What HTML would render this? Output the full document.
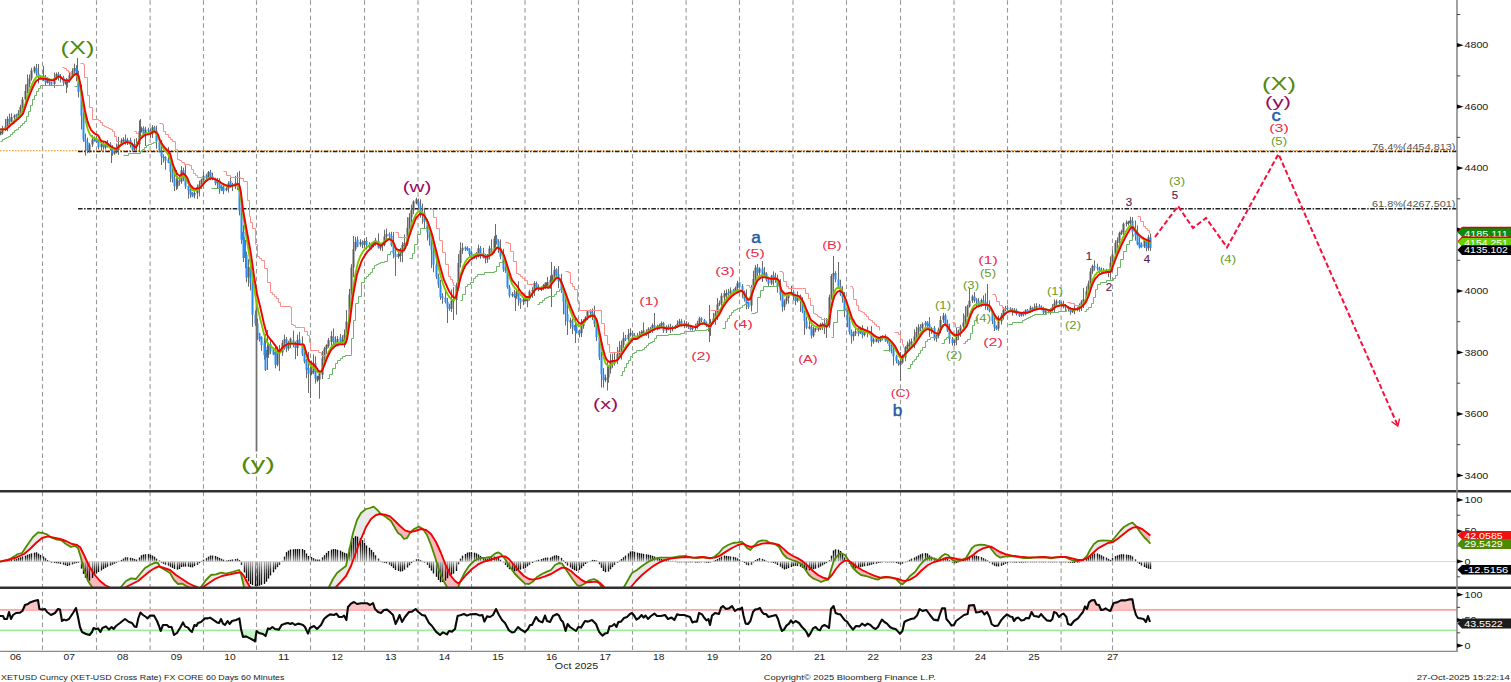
<!DOCTYPE html>
<html><head><meta charset="utf-8"><title>XETUSD</title>
<style>html,body{margin:0;padding:0;background:#fff;}body{width:1511px;height:682px;overflow:hidden;}svg{display:block;font-family:"Liberation Sans",sans-serif;}</style>
</head><body>
<svg width="1511" height="682" viewBox="0 0 1511 682">
<rect width="1511" height="682" fill="#fff"/>
<path d="M42.50,0.3V651M96.50,0.3V651M150.10,0.3V651M203.50,0.3V651M256.50,0.3V651M310.50,0.3V651M364.50,0.3V651M418.00,0.3V651M471.50,0.3V651M525.00,0.3V651M578.50,0.3V651M632.50,0.3V651M686.10,0.3V651M739.50,0.3V651M793.00,0.3V651M846.50,0.3V651M900.50,0.3V651M954.00,0.3V651M1007.50,0.3V651M1061.10,0.3V651M1112.50,0.3V651" stroke="#989898" stroke-width="1.1" stroke-dasharray="4.5,3.18" fill="none"/>
<path d="M0,150.6H1457" stroke="#f2a33a" stroke-width="1.2" stroke-dasharray="1.5,1.5" fill="none"/>
<path d="M78,151.6H1457" stroke="#222" stroke-width="1.5" stroke-dasharray="4.6,1.5,1.5,1.5" fill="none"/>
<path d="M78,208.8H1457" stroke="#222" stroke-width="1.5" stroke-dasharray="4.6,1.5,1.5,1.5" fill="none"/>
<path d="M0.5,130.6V135.3M2.5,125.9V134.7M5.5,119.0V131.1M7.5,116.3V131.2M9.5,113.7V124.8M11.5,113.3V122.2M14.5,114.3V123.4M16.5,113.9V119.2M18.5,110.1V117.1M20.5,104.8V115.5M22.5,97.0V110.4M25.5,84.4V102.2M27.5,74.5V93.2M29.5,74.5V87.5M31.5,67.8V80.6M34.5,66.1V73.5M36.5,63.9V75.8M38.5,71.6V83.4M40.5,75.3V78.7M43.5,65.9V81.0M45.5,75.1V85.4M47.5,77.5V83.6M49.5,78.4V86.0M51.5,81.7V85.4M54.5,72.6V87.8M56.5,72.4V80.1M58.5,71.9V80.6M60.5,74.2V82.4M63.5,75.8V85.8M65.5,79.8V84.8M67.5,78.9V87.5M69.5,71.7V82.7M72.5,68.4V77.4M74.5,63.7V73.9M76.5,65.2V81.3M78.5,70.7V97.5M81.5,84.6V129.5M83.5,112.2V141.8M85.5,133.5V155.6M87.5,137.6V153.1M89.5,142.9V152.8M92.5,135.2V147.0M94.5,136.4V141.7M96.5,135.7V143.1M98.5,139.4V149.4M101.5,139.8V150.8M103.5,141.6V149.7M105.5,141.6V149.6M107.5,140.0V147.6M110.5,142.2V150.6M112.5,145.3V155.7M114.5,150.7V154.9M116.5,143.5V153.5M118.5,136.8V155.0M121.5,138.3V145.9M123.5,137.3V142.8M125.5,134.5V144.6M127.5,137.8V145.0M130.5,137.8V147.6M132.5,142.6V151.2M134.5,138.9V151.1M136.5,138.1V150.7M139.5,120.4V151.5M141.5,126.6V132.5M143.5,126.3V136.9M145.5,126.8V146.0M148.5,127.7V132.3M150.5,128.2V138.1M152.5,125.1V138.0M154.5,125.8V132.6M156.5,125.6V148.8M159.5,139.9V152.6M161.5,144.1V160.6M163.5,154.3V162.5M165.5,156.2V169.8M168.5,147.2V163.2M170.5,158.3V182.1M172.5,167.9V182.6M174.5,172.9V188.6M177.5,176.1V188.8M179.5,176.2V185.7M181.5,166.1V183.8M183.5,167.6V181.2M185.5,165.3V188.9M188.5,185.3V198.8M190.5,187.1V197.7M192.5,192.1V197.2M194.5,191.1V198.4M197.5,184.5V199.0M199.5,180.6V196.5M201.5,178.7V188.8M203.5,171.7V182.8M206.5,173.8V179.2M208.5,171.0V179.9M210.5,169.9V180.2M212.5,172.7V180.3M215.5,177.7V185.3M217.5,177.9V188.4M219.5,178.3V193.8M221.5,185.3V191.0M223.5,184.4V194.2M226.5,187.1V191.3M228.5,181.3V192.6M230.5,177.8V187.6M232.5,182.8V191.0M235.5,175.8V189.1M237.5,172.4V190.1M239.5,178.0V215.4M241.5,204.6V243.8M244.5,237.1V257.8M246.5,251.7V282.2M248.5,259.2V286.7M250.5,261.6V290.5M252.5,277.7V326.8M255.5,310.5V325.9M257.5,318.5V339.8M259.5,332.7V341.6M261.5,336.3V350.9M264.5,336.8V359.6M266.5,350.0V357.7M268.5,342.5V357.8M270.5,339.8V354.1M273.5,347.8V355.1M275.5,346.2V368.3M277.5,346.6V366.3M279.5,345.0V360.0M282.5,340.1V355.9M284.5,334.6V349.8M286.5,337.0V352.2M288.5,340.8V350.6M290.5,337.6V348.2M293.5,330.6V347.3M295.5,341.5V359.2M297.5,334.6V356.1M299.5,331.9V344.7M302.5,336.3V356.1M304.5,351.4V363.5M306.5,359.0V378.2M308.5,367.5V375.3M311.5,360.5V375.3M313.5,354.4V374.2M315.5,356.4V383.5M317.5,375.7V382.1M319.5,370.5V398.7M322.5,351.0V379.0M324.5,346.8V362.8M326.5,344.2V353.9M328.5,337.9V347.8M331.5,331.2V347.9M333.5,328.5V345.7M335.5,336.2V346.8M337.5,336.1V346.4M340.5,334.0V343.5M342.5,335.2V342.8M344.5,329.4V347.6M346.5,310.1V339.2M349.5,288.9V324.1M351.5,264.2V295.6M353.5,236.0V277.1M355.5,236.8V251.1M357.5,236.4V247.2M360.5,239.2V246.7M362.5,240.3V248.1M364.5,238.6V247.9M366.5,237.0V249.5M369.5,242.1V248.4M371.5,242.7V249.5M373.5,241.5V247.1M375.5,237.9V245.8M378.5,233.4V248.6M380.5,243.4V250.5M382.5,243.5V251.2M384.5,229.8V246.4M386.5,228.6V240.7M389.5,232.3V239.3M391.5,231.8V246.7M393.5,231.9V258.4M395.5,249.5V260.5M398.5,251.9V258.6M400.5,247.9V261.8M402.5,241.9V262.2M404.5,234.4V251.5M407.5,217.2V245.7M409.5,213.2V234.3M411.5,204.6V222.5M413.5,200.3V214.1M416.5,197.7V204.3M418.5,198.5V209.3M420.5,199.3V217.7M422.5,203.5V223.7M424.5,207.7V227.9M427.5,219.1V240.5M429.5,227.9V245.6M431.5,231.9V267.9M433.5,241.2V272.3M436.5,260.1V279.1M438.5,273.7V287.8M440.5,279.8V299.8M442.5,293.2V303.7M445.5,289.4V303.5M447.5,297.8V309.6M449.5,303.7V310.8M451.5,289.4V311.9M453.5,287.1V309.1M456.5,282.8V314.7M458.5,254.1V290.6M460.5,242.3V267.5M462.5,243.0V253.9M465.5,246.3V251.1M467.5,246.3V250.8M469.5,248.1V256.1M471.5,250.9V259.6M474.5,254.5V258.8M476.5,251.9V259.4M478.5,244.6V257.4M480.5,246.1V258.8M483.5,247.8V258.5M485.5,253.9V263.3M487.5,254.0V262.8M489.5,245.8V259.3M491.5,239.3V254.8M494.5,235.9V253.3M496.5,235.0V244.6M498.5,239.2V252.9M500.5,239.4V259.3M503.5,248.8V271.9M505.5,258.7V272.9M507.5,266.2V288.8M509.5,284.9V297.7M512.5,292.1V297.3M514.5,289.9V297.8M516.5,290.2V298.8M518.5,281.3V305.7M520.5,298.0V308.9M523.5,297.9V305.1M525.5,296.6V301.5M527.5,296.4V307.3M529.5,289.7V300.5M532.5,287.2V297.8M534.5,281.2V295.9M536.5,281.6V290.0M538.5,284.4V291.2M541.5,286.4V291.1M543.5,284.0V290.1M545.5,282.3V289.0M547.5,277.1V287.2M550.5,275.5V288.8M552.5,274.7V281.6M554.5,266.1V278.5M556.5,268.3V276.4M558.5,266.0V288.2M561.5,273.9V293.0M563.5,285.2V314.5M565.5,294.0V325.5M567.5,307.9V326.9M570.5,317.7V328.7M572.5,318.6V334.1M574.5,325.0V330.7M576.5,325.2V333.5M579.5,329.6V337.4M581.5,318.9V337.2M583.5,319.3V328.7M585.5,316.3V322.5M587.5,310.1V320.1M590.5,309.4V317.8M592.5,308.5V320.1M594.5,305.7V327.2M596.5,320.1V341.0M599.5,334.1V359.9M601.5,351.8V387.5M603.5,368.1V387.7M605.5,374.6V382.1M608.5,365.0V382.7M610.5,353.7V373.7M612.5,353.6V367.9M614.5,352.5V365.6M617.5,347.1V364.0M619.5,341.2V357.3M621.5,340.5V359.6M623.5,332.3V347.9M625.5,334.9V341.1M628.5,328.9V342.0M630.5,328.3V336.7M632.5,331.0V337.2M634.5,333.0V336.5M637.5,332.9V339.0M639.5,331.2V338.0M641.5,330.2V337.2M643.5,322.4V335.1M646.5,329.4V335.8M648.5,327.3V338.3M650.5,326.9V332.9M652.5,323.4V332.9M654.5,323.8V330.4M657.5,324.6V329.9M659.5,323.7V329.2M661.5,321.4V326.9M663.5,321.8V332.9M666.5,325.3V333.0M668.5,324.4V330.2M670.5,323.7V333.1M672.5,325.6V331.4M675.5,325.0V329.0M677.5,320.4V328.0M679.5,318.8V325.9M681.5,319.2V326.5M684.5,320.4V328.1M686.5,321.2V327.8M688.5,322.4V329.1M690.5,325.7V330.5M692.5,326.8V330.7M695.5,323.7V330.4M697.5,320.8V328.7M699.5,316.7V326.0M701.5,317.2V322.1M704.5,318.9V324.7M706.5,321.4V327.1M708.5,323.6V331.5M710.5,319.1V335.9M713.5,312.9V323.8M715.5,310.9V324.8M717.5,298.0V320.0M719.5,300.6V306.2M721.5,293.0V306.6M724.5,290.3V300.9M726.5,289.5V299.7M728.5,288.8V295.6M730.5,287.4V294.9M733.5,288.9V292.9M735.5,286.5V292.3M737.5,280.8V290.8M739.5,281.6V287.6M742.5,284.0V298.1M744.5,290.6V301.5M746.5,289.5V309.4M748.5,301.5V308.9M751.5,285.1V311.5M753.5,270.7V292.0M755.5,264.9V282.9M757.5,263.9V276.5M759.5,267.3V275.3M762.5,261.2V282.0M764.5,267.0V277.7M766.5,272.1V281.6M768.5,278.2V285.9M771.5,274.9V285.0M773.5,271.4V285.6M775.5,272.8V282.8M777.5,274.7V292.6M780.5,279.2V300.5M782.5,291.7V311.6M784.5,299.4V310.3M786.5,295.7V304.3M788.5,292.8V303.6M791.5,285.8V294.9M793.5,290.2V300.2M795.5,293.9V305.2M797.5,291.3V302.4M800.5,294.5V311.9M802.5,297.1V313.1M804.5,310.4V334.9M806.5,316.6V329.1M809.5,321.0V329.4M811.5,324.6V338.5M813.5,326.6V337.2M815.5,327.5V332.2M818.5,326.6V331.5M820.5,322.9V330.2M822.5,322.3V330.0M824.5,318.1V334.0M826.5,318.1V338.0M829.5,294.7V327.8M831.5,274.0V299.9M833.5,267.5V281.2M835.5,271.2V282.3M838.5,262.0V288.1M840.5,279.7V295.9M842.5,286.2V302.6M844.5,292.0V317.1M847.5,308.1V327.3M849.5,314.7V334.5M851.5,329.5V343.6M853.5,331.3V340.8M855.5,326.9V336.0M858.5,327.4V336.3M860.5,326.7V334.1M862.5,325.2V338.4M864.5,329.6V336.5M867.5,326.7V337.4M869.5,331.2V334.4M871.5,326.1V346.7M873.5,337.8V343.8M876.5,337.9V342.4M878.5,337.7V343.3M880.5,335.8V342.1M882.5,335.1V340.3M885.5,334.4V341.8M887.5,337.5V343.6M889.5,339.1V351.8M891.5,342.4V353.4M893.5,343.4V365.4M896.5,354.9V363.3M898.5,359.7V365.8M900.5,357.4V366.5M902.5,354.4V363.7M905.5,346.2V361.2M907.5,341.3V352.8M909.5,339.4V350.1M911.5,338.5V347.8M914.5,329.4V348.2M916.5,326.7V339.5M918.5,324.2V335.5M920.5,324.3V331.0M922.5,322.4V331.0M925.5,321.0V326.8M927.5,321.2V327.7M929.5,317.1V337.0M931.5,326.9V333.8M934.5,326.0V340.7M936.5,334.6V341.8M938.5,327.6V338.3M940.5,316.1V333.3M943.5,312.9V322.9M945.5,313.7V325.4M947.5,319.6V332.0M949.5,323.7V343.7M952.5,337.0V345.7M954.5,339.5V346.1M956.5,327.1V345.4M958.5,329.6V340.0M960.5,324.8V336.8M963.5,313.5V329.1M965.5,306.1V328.6M967.5,304.7V317.1M969.5,288.4V307.7M972.5,294.7V303.1M974.5,292.0V302.6M976.5,298.1V307.7M978.5,298.1V307.4M981.5,298.6V306.7M983.5,295.4V305.6M985.5,293.2V309.8M987.5,299.4V310.2M989.5,300.4V312.3M992.5,309.8V324.0M994.5,317.2V331.0M996.5,325.3V330.1M998.5,315.6V330.8M1001.5,313.1V324.6M1003.5,307.4V319.6M1005.5,305.9V311.3M1007.5,305.2V311.0M1010.5,307.3V311.1M1012.5,307.9V315.7M1014.5,308.1V312.9M1016.5,308.6V315.5M1019.5,312.8V317.0M1021.5,312.4V316.5M1023.5,311.2V316.4M1025.5,309.3V315.3M1027.5,309.0V312.0M1030.5,305.7V312.9M1032.5,306.8V311.8M1034.5,303.5V309.5M1036.5,303.2V310.1M1039.5,304.0V308.4M1041.5,305.5V310.3M1043.5,306.8V314.8M1045.5,308.8V313.9M1048.5,309.4V313.5M1050.5,308.3V314.5M1052.5,304.1V311.6M1054.5,299.4V312.0M1056.5,299.5V305.4M1059.5,300.0V304.1M1061.5,301.6V307.5M1063.5,300.8V308.3M1065.5,304.0V310.8M1068.5,306.1V311.5M1070.5,307.3V314.7M1072.5,309.1V312.9M1074.5,303.8V314.2M1077.5,306.7V311.3M1079.5,303.4V311.7M1081.5,300.0V311.0M1083.5,287.9V308.0M1086.5,286.2V300.3M1088.5,280.6V295.3M1090.5,268.1V285.1M1092.5,264.6V274.1M1094.5,260.3V270.7M1097.5,263.6V270.5M1099.5,266.7V273.3M1101.5,267.5V273.0M1103.5,268.1V272.5M1106.5,268.8V273.5M1108.5,269.3V277.2M1110.5,256.5V279.6M1112.5,250.2V272.1M1115.5,240.3V259.3M1117.5,237.4V251.4M1119.5,231.7V243.9M1121.5,229.8V235.1M1123.5,222.4V234.8M1126.5,220.4V226.6M1128.5,220.8V225.6M1130.5,216.8V229.1M1132.5,217.1V237.1M1135.5,220.5V240.6M1137.5,225.4V245.4M1139.5,237.0V248.6M1141.5,242.3V247.7M1144.5,238.1V248.0M1146.5,239.8V251.2M1148.5,234.9V250.7M1150.5,233.7V250.9M833.5,256V300M900.5,352V381M265.5,334V371M267.5,330V370M279.5,352V371M308.5,352V393M310.5,366V398M447.5,298V323M453.5,300V320M515.5,296V311M243.5,225V262M245.5,240V268M395.5,250V276M495.5,224V250M551.5,262V307M567.5,297V335M575.5,318V343M654.5,313V330M709.5,305V342M66.5,78V93M140.5,119V140M111.5,146V163M161.5,140V165M174.5,168V191M176.5,170V190M239.5,171V186M38.5,64V80M77.5,58V76M607.5,362V390.5M987.5,284V305" stroke="#6a6a6a" stroke-width="1" fill="none"/>
<path d="M0.5,131.7V134.8M2.5,128.8V133.3M5.5,126.6V128.9M7.5,118.9V126.8M11.5,117.0V121.7M14.5,115.4V117.6M18.5,113.3V115.5M20.5,107.1V113.3M22.5,99.5V107.1M25.5,91.0V99.5M27.5,84.1V91.0M29.5,78.4V84.1M31.5,70.6V78.4M34.5,67.5V71.4M40.5,75.8V78.2M43.5,75.6V78.0M47.5,79.0V83.0M54.5,78.9V83.9M56.5,74.1V78.9M65.5,81.1V83.4M67.5,79.5V83.0M69.5,75.2V80.5M72.5,71.1V75.2M74.5,68.0V71.1M89.5,144.6V150.9M92.5,139.5V144.6M101.5,144.1V147.2M105.5,145.0V147.8M107.5,144.1V146.2M114.5,151.2V153.7M116.5,149.3V152.3M118.5,144.5V149.7M121.5,140.6V144.9M123.5,139.5V141.0M127.5,139.7V143.1M134.5,145.5V149.7M136.5,143.7V146.1M139.5,131.3V144.3M141.5,128.3V131.3M145.5,129.7V134.9M152.5,127.2V134.3M177.5,180.7V186.3M181.5,170.3V181.6M194.5,193.0V195.2M197.5,186.9V193.3M199.5,184.6V186.9M201.5,179.7V184.6M203.5,175.7V180.0M208.5,172.1V177.9M217.5,180.4V183.3M226.5,188.2V190.2M228.5,183.5V188.5M235.5,182.9V186.5M248.5,267.0V277.6M266.5,353.0V356.9M268.5,344.1V354.6M277.5,351.4V364.8M282.5,343.1V352.4M284.5,339.3V343.1M288.5,342.9V348.8M290.5,338.7V344.8M297.5,339.9V348.1M311.5,371.2V374.1M313.5,363.2V372.2M317.5,376.2V380.6M319.5,373.2V379.8M322.5,357.8V374.8M324.5,348.4V357.9M326.5,345.3V349.1M328.5,340.3V346.3M331.5,335.9V341.9M337.5,339.1V344.9M342.5,339.7V342.2M344.5,334.8V340.8M346.5,321.8V334.8M349.5,294.4V321.8M351.5,267.6V294.4M353.5,249.3V267.6M355.5,242.0V249.3M360.5,242.0V244.5M364.5,241.0V244.8M371.5,244.2V247.1M373.5,242.0V245.6M375.5,240.3V243.5M380.5,243.9V248.4M384.5,236.4V244.9M386.5,234.0V236.5M398.5,253.9V257.1M400.5,250.8V256.1M402.5,245.1V252.8M404.5,242.9V246.1M407.5,227.7V243.9M409.5,217.2V227.7M411.5,210.2V217.2M413.5,201.4V210.2M416.5,199.2V203.6M422.5,212.8V215.3M451.5,300.5V308.8M453.5,299.3V301.2M456.5,287.7V300.0M458.5,263.1V287.7M460.5,250.6V263.1M462.5,247.8V250.6M476.5,253.1V256.9M478.5,248.3V253.1M487.5,254.5V259.6M489.5,248.5V255.8M494.5,238.7V249.9M512.5,293.9V295.5M516.5,291.6V296.3M523.5,299.5V301.7M525.5,297.9V301.0M527.5,296.9V301.3M529.5,291.6V298.9M532.5,290.0V291.6M534.5,283.0V290.0M541.5,287.8V289.9M543.5,285.1V289.0M545.5,282.8V287.4M547.5,281.9V286.0M550.5,279.8V283.8M552.5,276.8V279.8M554.5,269.7V276.8M570.5,320.3V322.5M581.5,326.1V333.3M583.5,321.0V326.1M585.5,317.6V321.0M587.5,311.2V317.6M605.5,377.4V380.3M608.5,369.2V377.4M610.5,360.7V369.2M614.5,360.0V363.6M617.5,354.3V360.3M619.5,350.6V354.3M621.5,345.0V350.6M623.5,338.5V345.0M628.5,334.5V339.2M630.5,333.0V334.5M639.5,334.7V337.0M641.5,332.1V334.7M643.5,330.6V333.1M648.5,328.8V333.5M652.5,325.3V330.1M657.5,325.9V327.9M659.5,324.9V326.8M661.5,323.0V325.3M666.5,327.5V330.6M668.5,326.6V328.3M672.5,327.1V328.4M675.5,325.9V327.2M677.5,323.7V326.1M679.5,321.2V323.7M684.5,323.2V325.3M692.5,327.9V329.3M695.5,326.2V328.1M697.5,323.3V326.4M699.5,318.4V323.3M710.5,321.8V327.5M713.5,318.6V321.8M715.5,313.3V318.6M717.5,304.5V313.3M719.5,303.0V304.5M721.5,295.8V303.0M724.5,293.5V297.6M726.5,292.9V295.4M730.5,290.4V293.5M735.5,288.1V291.1M737.5,283.2V288.1M751.5,288.5V305.4M753.5,278.9V288.5M755.5,267.4V278.9M759.5,268.6V272.8M764.5,272.6V277.2M771.5,276.2V283.4M784.5,301.2V306.7M786.5,297.8V301.3M788.5,293.8V297.9M791.5,292.1V293.8M797.5,295.7V300.9M809.5,326.4V328.5M813.5,329.4V335.4M815.5,328.1V330.0M818.5,327.7V329.7M820.5,326.4V328.6M822.5,323.7V326.4M826.5,322.9V327.5M829.5,297.2V324.7M831.5,275.9V297.2M833.5,273.1V275.9M853.5,333.7V336.2M855.5,331.0V333.7M860.5,328.4V333.0M864.5,331.7V335.0M873.5,339.2V342.3M876.5,338.4V341.8M880.5,337.3V341.0M900.5,361.5V364.9M902.5,357.5V362.4M905.5,347.3V357.5M907.5,344.7V348.4M909.5,342.8V345.7M911.5,341.2V343.2M914.5,336.4V341.6M916.5,331.9V336.4M918.5,327.4V331.9M922.5,323.8V327.7M931.5,327.9V330.0M936.5,335.6V338.5M938.5,329.7V335.9M940.5,319.9V329.7M943.5,315.4V319.9M954.5,340.5V342.9M956.5,333.3V340.5M958.5,330.6V333.3M960.5,326.4V330.6M963.5,322.4V326.4M965.5,315.3V322.4M967.5,306.5V315.3M969.5,300.7V306.5M972.5,296.6V300.7M981.5,300.3V304.9M998.5,321.2V328.6M1001.5,315.7V321.2M1003.5,309.7V315.7M1005.5,308.0V309.7M1014.5,310.2V311.7M1021.5,313.5V315.4M1025.5,310.5V314.3M1030.5,307.8V310.7M1034.5,307.8V308.8M1036.5,305.9V308.2M1045.5,310.5V312.4M1050.5,309.9V311.8M1052.5,307.2V310.3M1054.5,303.5V307.2M1056.5,301.3V303.6M1063.5,305.0V306.6M1072.5,310.5V312.3M1074.5,309.0V310.9M1077.5,308.3V309.6M1079.5,305.0V308.9M1081.5,301.8V305.0M1083.5,299.2V301.8M1086.5,291.3V299.2M1088.5,283.8V291.3M1090.5,271.5V283.8M1092.5,266.0V271.5M1101.5,270.1V271.8M1110.5,262.4V272.4M1112.5,254.5V262.4M1115.5,242.9V254.5M1117.5,240.3V242.9M1119.5,233.0V240.3M1121.5,231.4V233.7M1123.5,223.7V232.1M1126.5,222.7V223.8M1128.5,221.5V223.7M1130.5,220.3V222.8M1144.5,240.3V246.5M1148.5,237.3V248.2" stroke="#5c5c5c" stroke-width="2" fill="none"/>
<path d="M9.5,118.5V121.4M16.5,114.4V116.5M36.5,68.2V73.4M38.5,73.4V77.1M45.5,76.7V82.3M49.5,79.6V83.1M51.5,82.5V84.4M58.5,74.1V76.8M60.5,76.3V78.1M63.5,77.6V82.5M76.5,68.1V74.9M78.5,74.9V92.3M81.5,92.3V115.8M83.5,115.8V139.6M85.5,139.6V142.0M87.5,142.0V150.9M94.5,138.0V141.2M96.5,138.3V142.0M98.5,140.7V147.2M103.5,143.9V147.3M110.5,144.6V148.2M112.5,148.2V152.9M125.5,139.5V142.9M130.5,139.9V145.0M132.5,145.0V149.7M143.5,128.3V134.9M148.5,129.6V130.9M150.5,130.8V134.3M154.5,127.2V130.7M156.5,130.7V141.4M159.5,141.4V150.5M161.5,150.5V156.6M163.5,156.3V157.9M165.5,157.1V160.4M168.5,159.4V162.7M170.5,162.2V172.0M172.5,172.0V178.6M174.5,178.6V186.3M179.5,180.2V182.1M183.5,170.3V177.2M185.5,177.2V186.6M188.5,185.9V190.4M190.5,189.7V194.5M192.5,192.6V196.7M206.5,175.6V178.3M210.5,172.1V176.5M212.5,176.5V179.1M215.5,179.1V183.3M219.5,180.4V188.1M221.5,185.8V190.5M223.5,187.1V191.2M230.5,181.0V187.1M232.5,184.6V186.2M237.5,182.7V185.8M239.5,185.4V210.6M241.5,210.6V239.8M244.5,239.8V254.6M246.5,254.6V277.6M250.5,267.0V282.9M252.5,282.9V314.8M255.5,314.8V323.4M257.5,323.4V333.8M259.5,333.4V339.4M261.5,336.8V345.0M264.5,342.8V355.3M270.5,344.1V350.8M273.5,348.3V354.6M275.5,352.1V364.8M279.5,350.1V353.7M286.5,339.3V348.5M293.5,340.2V344.7M295.5,344.6V348.1M299.5,339.5V344.0M302.5,343.6V354.3M304.5,354.2V361.6M306.5,360.5V369.8M308.5,368.0V373.9M315.5,363.2V378.5M333.5,337.0V341.6M335.5,341.2V345.4M340.5,337.2V343.0M357.5,239.4V246.7M362.5,242.4V244.8M366.5,241.0V245.0M369.5,244.6V247.3M378.5,240.7V247.5M382.5,244.0V245.7M389.5,233.9V236.3M391.5,236.1V245.0M393.5,245.0V253.8M395.5,253.8V257.0M418.5,201.4V206.0M420.5,206.0V215.1M424.5,213.0V222.0M427.5,222.0V232.6M429.5,232.6V238.2M431.5,238.2V249.8M433.5,249.8V264.7M436.5,264.7V276.7M438.5,276.7V284.7M440.5,284.7V297.3M442.5,296.5V298.6M445.5,297.8V301.9M447.5,301.9V307.4M449.5,307.2V309.0M465.5,247.3V249.3M467.5,248.1V250.2M469.5,249.4V254.1M471.5,252.6V257.8M474.5,255.0V258.3M480.5,248.3V254.8M483.5,252.7V258.0M485.5,255.8V258.4M491.5,248.5V249.9M496.5,238.4V241.5M498.5,241.1V248.1M500.5,248.1V256.8M503.5,256.8V269.6M505.5,269.3V270.7M507.5,270.3V287.2M509.5,287.2V295.4M514.5,293.8V296.4M518.5,291.6V299.4M520.5,298.6V302.6M536.5,283.0V287.1M538.5,287.1V289.7M556.5,269.3V274.7M558.5,274.3V281.2M561.5,281.2V290.5M563.5,290.5V301.7M565.5,301.7V314.3M567.5,314.3V321.6M572.5,321.2V327.0M574.5,326.6V329.3M576.5,326.6V333.0M579.5,330.7V333.3M590.5,310.5V312.9M592.5,312.2V314.9M594.5,314.9V324.1M596.5,324.1V337.3M599.5,337.3V357.2M601.5,357.2V374.3M603.5,374.3V380.3M612.5,360.4V363.7M625.5,337.8V339.8M632.5,333.0V335.4M634.5,334.9V336.0M637.5,335.5V337.0M646.5,331.6V333.5M650.5,328.8V330.1M654.5,325.1V327.6M663.5,323.1V330.6M670.5,327.1V328.8M681.5,321.2V325.3M686.5,323.2V325.8M688.5,325.8V327.2M690.5,327.2V329.3M701.5,318.4V320.0M704.5,320.0V322.7M706.5,322.5V325.2M708.5,325.0V327.5M728.5,292.5V293.8M733.5,289.7V292.0M739.5,282.3V287.1M742.5,286.3V291.9M744.5,291.9V299.3M746.5,299.3V303.7M748.5,302.0V307.1M757.5,267.4V272.8M762.5,268.6V276.1M766.5,273.7V279.7M768.5,279.7V283.4M773.5,274.9V278.4M775.5,277.1V280.0M777.5,280.0V287.0M780.5,287.0V294.8M782.5,294.8V306.7M793.5,292.1V295.8M795.5,295.8V300.9M800.5,295.7V301.6M802.5,301.6V311.5M804.5,311.5V320.8M806.5,320.8V327.8M811.5,327.1V335.4M824.5,323.6V325.6M835.5,273.1V279.4M838.5,279.4V286.2M840.5,286.2V294.6M842.5,294.6V297.6M844.5,297.6V310.2M847.5,310.2V321.7M849.5,321.7V332.1M851.5,332.1V336.2M858.5,330.2V333.8M862.5,328.4V335.0M867.5,331.5V332.9M869.5,332.2V333.7M871.5,333.2V341.1M878.5,339.8V341.0M882.5,336.3V338.8M885.5,337.7V340.4M887.5,339.3V341.4M889.5,340.4V345.8M891.5,345.6V350.3M893.5,350.1V356.2M896.5,356.2V360.9M898.5,360.9V364.0M920.5,326.6V328.4M925.5,323.1V324.5M927.5,321.7V326.0M929.5,323.9V330.0M934.5,327.9V338.2M945.5,315.4V323.5M947.5,323.5V330.6M949.5,330.6V338.9M952.5,338.9V342.9M974.5,296.6V299.7M976.5,299.3V301.1M978.5,300.7V304.9M983.5,300.3V301.4M985.5,301.4V304.9M987.5,304.3V306.7M989.5,306.2V311.3M992.5,311.3V321.0M994.5,321.0V327.4M996.5,326.8V329.2M1007.5,307.8V309.1M1010.5,308.5V309.4M1012.5,308.9V311.5M1016.5,310.3V314.1M1019.5,313.8V315.7M1023.5,313.2V314.6M1027.5,309.8V311.5M1032.5,307.4V308.8M1039.5,305.7V307.1M1041.5,306.9V308.0M1043.5,308.0V312.4M1048.5,310.2V311.6M1059.5,301.2V303.1M1061.5,302.8V306.1M1065.5,305.5V307.6M1068.5,307.6V308.9M1070.5,308.9V311.9M1094.5,265.7V267.4M1097.5,267.0V268.2M1099.5,268.0V271.4M1103.5,269.7V271.4M1106.5,269.3V272.9M1108.5,271.4V272.7M1132.5,220.7V231.8M1135.5,229.2V234.9M1137.5,232.3V244.4M1139.5,242.6V247.5M1141.5,244.5V247.2M1146.5,240.9V248.2M1150.5,237.3V247.9M265.5,347V370M243.5,232V258" stroke="#2a8cf2" stroke-width="2" fill="none"/>
<path d="M256.5,300V451.5" stroke="#707070" stroke-width="1.7" fill="none"/>
<path d="M0.5,141.5H2.5V139.5H4.5V138.5H6.5V137.5H8.5V136.5H10.5V134.5H12.5V132.5H14.5V130.5H16.5V129.5H18.5V127.5H20.5V125.5H22.5V123.5H24.5V121.5H26.5V116.5H28.5V111.5H30.5V105.5H32.5V99.5H34.5V95.5H36.5V91.5H38.5V88.5H40.5V85.5H62.5V85.5M74.5,86.5H77.5V83.5M123.5,155.5H128.5V153.5H140.5V151.5H142.5V149.5H144.5V147.5H146.5V145.5H148.5V144.5H151.5V143.5H153.5V142.5H156.5V141.5M211.5,188.5H220.5V187.5M327.5,378.5H329.5V374.5H332.5V368.5H335.5V363.5H337.5V360.5H340.5V358.5H342.5V356.5H345.5V355.5H351.5V354.5H351.5V338.5H353.5V320.5H355.5V303.5H358.5V296.5H361.5V282.5H364.5V278.5H366.5V276.5H368.5V274.5H370.5V272.5H372.5V268.5H374.5V265.5H376.5V264.5H378.5V263.5H380.5V262.5H384.5V261.5H387.5V254.5H390.5V251.5H393.5V251.5M409.5,258.5H412.5V253.5H414.5V244.5H417.5V234.5H420.5V228.5H426.5V226.5M460.5,300.5H462.5V294.5H465.5V286.5H467.5V284.5H470.5V282.5H473.5V278.5H475.5V276.5H477.5V274.5H484.5V272.5H494.5V271.5H496.5V266.5H499.5V262.5H502.5V260.5M537.5,304.5H539.5V302.5H542.5V300.5H544.5V298.5H546.5V297.5H548.5V296.5H554.5V294.5H556.5V291.5H559.5V289.5H563.5V288.5M620.5,375.5H622.5V371.5H624.5V367.5H626.5V363.5H628.5V360.5H630.5V356.5H632.5V353.5H634.5V352.5H636.5V350.5H642.5V349.5H644.5V347.5H646.5V345.5H648.5V343.5H650.5V342.5H652.5V341.5H654.5V338.5H656.5V335.5H668.5V334.5H680.5V333.5H684.5V331.5H694.5V330.5H706.5V329.5H708.5V327.5H710.5V326.5M722.5,328.5H725.5V321.5H727.5V318.5H729.5V315.5H731.5V312.5H733.5V310.5H735.5V309.5H737.5V308.5H740.5V307.5H742.5V305.5H744.5V304.5H746.5V303.5M751.5,313.5H755.5V312.5H757.5V297.5H760.5V290.5H763.5V286.5H777.5V286.5M831.5,337.5H833.5V336.5H833.5V322.5H837.5V310.5H845.5V308.5M883.5,350.5H890.5V350.5M907.5,368.5H910.5V364.5H912.5V361.5H914.5V359.5H916.5V356.5H918.5V353.5H920.5V350.5H922.5V347.5H925.5V341.5H927.5V339.5H930.5V337.5H936.5V336.5M941.5,343.5H944.5V339.5H946.5V337.5H948.5V336.5H949.5V334.5M963.5,343.5H965.5V341.5H967.5V339.5H970.5V333.5H972.5V325.5H974.5V320.5H977.5V317.5M1008.5,324.5H1012.5V322.5H1022.5V320.5H1024.5V319.5H1026.5V318.5H1028.5V317.5H1030.5V316.5H1032.5V315.5H1034.5V314.5H1046.5V312.5H1058.5V311.5H1066.5V309.5M1084.5,311.5H1086.5V309.5H1088.5V307.5H1091.5V303.5H1093.5V297.5H1095.5V289.5H1097.5V284.5H1100.5V282.5H1106.5V280.5H1113.5V278.5H1115.5V275.5H1117.5V267.5H1120.5V259.5H1123.5V251.5H1126.5V244.5H1129.5V240.5H1132.5V236.5H1133.5V234.5" stroke="#6cb468" stroke-width="1" fill="none"/>
<path d="M62.5,67.5H64.5V68.5H66.5V70.5H68.5V72.5H70.5V75.5H72.5V76.5M80.5,63.5H83.5V64.5H84.5V77.5H87.5V95.5H89.5V107.5H92.5V119.5H98.5V120.5H100.5V122.5H102.5V125.5H104.5V126.5H106.5V127.5H108.5V128.5H110.5V129.5H112.5V131.5H114.5V136.5H116.5V141.5H120.5V143.5M134.5,131.5H136.5V133.5H138.5V135.5M159.5,123.5H162.5V124.5H163.5V131.5H165.5V134.5H168.5V137.5H170.5V139.5H172.5V141.5H175.5V149.5H177.5V159.5H179.5V160.5H181.5V162.5H184.5V164.5H189.5V165.5H191.5V169.5H193.5V173.5H195.5V175.5H197.5V177.5H203.5V177.5M223.5,171.5H226.5V175.5H230.5V177.5H240.5V178.5H243.5V181.5H247.5V181.5H247.5V200.5H249.5V216.5H250.5V222.5H252.5V228.5H255.5V244.5H257.5V256.5H259.5V258.5H261.5V260.5H264.5V268.5H267.5V282.5H270.5V292.5H272.5V294.5H274.5V296.5H276.5V298.5H278.5V302.5H280.5V306.5H290.5V307.5H291.5V324.5H293.5V325.5H295.5V327.5H301.5V327.5H304.5V331.5H307.5V335.5H309.5V342.5H310.5V350.5H318.5V352.5H321.5V355.5H324.5V356.5M395.5,232.5H398.5V237.5H406.5V237.5M431.5,209.5H433.5V217.5H436.5V228.5H439.5V240.5H442.5V252.5H445.5V264.5H448.5V276.5H450.5V279.5H452.5V282.5H453.5V285.5H455.5V288.5M505.5,242.5H508.5V243.5H510.5V251.5H513.5V261.5H516.5V273.5H518.5V274.5H520.5V276.5H522.5V278.5H524.5V280.5H527.5V284.5H533.5V284.5M565.5,271.5H568.5V272.5H570.5V283.5H572.5V286.5H574.5V289.5H577.5V301.5H579.5V310.5H601.5V310.5H601.5V323.5H604.5V335.5H607.5V344.5H609.5V352.5H620.5V353.5M710.5,310.5H718.5V310.5M746.5,285.5H749.5V287.5H751.5V291.5M779.5,271.5H782.5V272.5H783.5V281.5H786.5V286.5H788.5V288.5H802.5V288.5H805.5V293.5H808.5V298.5H810.5V305.5H813.5V313.5H815.5V314.5H817.5V316.5H819.5V317.5H821.5V319.5H828.5V319.5M850.5,286.5H852.5V288.5H853.5V299.5H856.5V305.5H858.5V310.5H860.5V311.5H862.5V312.5H864.5V314.5H866.5V316.5H868.5V319.5H870.5V320.5H872.5V322.5H874.5V324.5H876.5V326.5H879.5V330.5M894.5,332.5H898.5V334.5H900.5V339.5H902.5V344.5H903.5V347.5M952.5,322.5H954.5V323.5H955.5V327.5H960.5V327.5M992.5,294.5H995.5V296.5H996.5V301.5H999.5V305.5H1002.5V308.5H1005.5V309.5M1067.5,302.5H1070.5V303.5H1074.5V305.5H1081.5V305.5M1137.5,216.5H1140.5V221.5H1143.5V226.5H1145.5V228.5H1147.5V230.5H1149.5V233.5" stroke="#ff8c8c" stroke-width="1" fill="none"/>
<path d="M0.6,129.4 L2.8,129.4 L5.1,128.9 L7.3,127.5 L9.5,125.4 L11.8,123.0 L14.0,120.9 L16.2,118.8 L18.5,116.7 L20.7,114.3 L22.9,110.0 L25.2,104.1 L27.4,96.9 L29.6,90.3 L31.9,84.7 L34.1,80.1 L36.3,77.3 L38.6,76.0 L40.8,76.3 L43.0,77.0 L45.3,77.9 L47.5,78.7 L49.7,79.6 L52.0,79.8 L54.2,79.0 L56.4,77.3 L58.7,76.6 L60.9,77.4 L63.1,79.3 L65.4,80.6 L67.6,80.8 L69.8,79.3 L72.1,76.7 L74.3,74.1 L76.5,74.3 L78.8,80.3 L81.0,91.9 L83.2,106.7 L85.5,119.7 L87.7,129.0 L89.9,134.4 L92.2,137.1 L94.4,138.1 L96.6,138.9 L98.9,140.8 L101.1,142.7 L103.3,144.0 L105.6,144.5 L107.8,145.8 L110.0,147.5 L112.3,148.8 L114.5,149.4 L116.7,148.7 L119.0,146.9 L121.2,144.6 L123.4,142.8 L125.7,141.9 L127.9,141.9 L130.1,143.0 L132.4,145.0 L134.6,146.3 L136.8,144.6 L139.1,140.8 L141.3,136.7 L143.5,134.5 L145.8,133.5 L148.0,133.0 L150.2,132.2 L152.5,131.4 L154.7,131.5 L156.9,134.4 L159.2,139.4 L161.4,144.7 L163.6,148.7 L165.9,151.4 L168.1,154.3 L170.3,159.7 L172.6,166.5 L174.8,173.7 L177.0,177.5 L179.3,178.3 L181.5,177.1 L183.7,176.4 L186.0,178.4 L188.2,183.0 L190.4,187.4 L192.7,190.2 L194.9,190.6 L197.1,190.1 L199.4,188.3 L201.6,185.9 L203.8,182.7 L206.1,180.1 L208.3,178.2 L210.5,177.6 L212.8,177.9 L215.0,179.0 L217.2,180.5 L219.5,182.1 L221.7,183.8 L223.9,185.2 L226.2,186.2 L228.4,186.6 L230.6,186.5 L232.9,185.7 L235.1,184.8 L237.3,185.1 L239.6,191.4 L241.8,204.4 L244.0,221.2 L246.3,236.6 L248.5,250.2 L250.7,264.6 L253.0,279.8 L255.2,294.8 L257.4,306.8 L259.7,316.6 L261.9,325.5 L264.1,334.3 L266.4,340.8 L268.6,344.5 L270.8,346.2 L273.1,347.9 L275.3,350.4 L277.5,352.7 L279.8,352.5 L282.0,350.1 L284.2,346.7 L286.5,344.5 L288.7,343.5 L290.9,343.2 L293.2,343.4 L295.4,343.7 L297.6,344.1 L299.9,344.4 L302.1,345.1 L304.3,349.2 L306.6,355.8 L308.8,362.4 L311.0,365.9 L313.3,367.5 L315.5,369.7 L317.7,372.0 L320.0,372.7 L322.2,369.8 L324.4,363.9 L326.7,357.0 L328.9,351.2 L331.1,347.2 L333.4,344.6 L335.6,343.4 L337.8,342.9 L340.1,343.0 L342.3,343.3 L344.5,341.7 L346.8,334.3 L349.0,320.5 L351.2,302.5 L353.5,285.9 L355.7,272.2 L357.9,262.9 L360.2,256.5 L362.4,252.5 L364.6,249.3 L366.9,247.3 L369.1,245.4 L371.3,243.7 L373.6,242.0 L375.8,241.5 L378.0,242.6 L380.3,243.7 L382.5,243.3 L384.7,241.3 L387.0,239.3 L389.2,238.9 L391.4,240.2 L393.7,244.5 L395.9,248.5 L398.1,251.4 L400.4,251.7 L402.6,250.9 L404.8,247.2 L407.1,240.8 L409.3,232.8 L411.5,225.3 L413.8,218.8 L416.0,214.3 L418.2,211.6 L420.5,211.4 L422.7,212.9 L424.9,216.6 L427.2,222.0 L429.4,229.0 L431.6,237.5 L433.9,246.9 L436.1,256.9 L438.3,266.5 L440.6,275.4 L442.8,283.0 L445.0,289.0 L447.3,293.7 L449.5,297.2 L451.7,299.7 L454.0,300.2 L456.2,295.0 L458.4,285.6 L460.7,274.8 L462.9,266.9 L465.1,262.1 L467.4,258.9 L469.6,257.1 L471.8,255.8 L474.1,254.8 L476.3,254.2 L478.5,254.0 L480.8,254.3 L483.0,255.1 L485.2,255.9 L487.5,256.0 L489.7,255.0 L491.9,252.9 L494.2,250.0 L496.4,247.6 L498.6,247.5 L500.9,250.3 L503.1,255.4 L505.3,262.4 L507.6,270.4 L509.8,278.1 L512.0,283.7 L514.3,287.3 L516.5,289.7 L518.7,292.4 L521.0,295.0 L523.2,297.4 L525.4,298.6 L527.7,298.8 L529.9,297.0 L532.1,293.8 L534.4,290.1 L536.6,288.0 L538.8,287.6 L541.1,287.7 L543.3,287.3 L545.5,287.0 L547.8,286.6 L550.0,285.0 L552.2,282.0 L554.5,278.6 L556.7,277.1 L558.9,278.3 L561.2,282.8 L563.4,289.2 L565.6,296.5 L567.9,303.6 L570.1,310.1 L572.3,315.9 L574.6,320.5 L576.8,324.1 L579.0,326.0 L581.3,325.5 L583.5,323.0 L585.7,319.8 L588.0,317.3 L590.2,315.8 L592.4,315.4 L594.7,317.5 L596.9,324.2 L599.1,334.7 L601.4,347.0 L603.6,357.3 L605.8,363.7 L608.1,366.1 L610.3,365.5 L612.5,363.9 L614.8,362.4 L617.0,360.4 L619.2,357.5 L621.5,353.6 L623.7,349.7 L625.9,346.0 L628.2,342.7 L630.4,339.6 L632.6,337.8 L634.9,337.1 L637.1,336.8 L639.3,335.9 L641.6,334.6 L643.8,333.6 L646.0,332.6 L648.3,331.4 L650.5,330.1 L652.7,329.0 L655.0,328.1 L657.2,327.5 L659.4,327.1 L661.7,327.1 L663.9,327.4 L666.1,328.0 L668.4,328.3 L670.6,328.3 L672.8,327.9 L675.1,327.1 L677.3,326.1 L679.5,325.3 L681.8,324.8 L684.0,324.7 L686.2,325.0 L688.5,325.4 L690.7,326.1 L692.9,326.8 L695.2,326.8 L697.4,325.8 L699.6,324.3 L701.9,323.3 L704.1,323.6 L706.3,324.7 L708.6,325.5 L710.8,324.4 L713.0,321.7 L715.3,318.1 L717.5,314.6 L719.7,310.7 L722.0,306.4 L724.2,302.3 L726.4,299.1 L728.7,296.5 L730.9,294.3 L733.1,292.7 L735.4,291.4 L737.6,290.5 L739.8,290.0 L742.1,291.3 L744.3,294.3 L746.5,298.2 L748.8,299.4 L751.0,295.9 L753.2,289.2 L755.5,282.2 L757.7,277.8 L759.9,275.6 L762.2,275.3 L764.4,275.8 L766.6,276.8 L768.9,277.8 L771.1,278.5 L773.3,278.7 L775.6,279.0 L777.8,281.8 L780.0,287.2 L782.3,292.8 L784.5,295.6 L786.7,295.3 L789.0,294.6 L791.2,294.6 L793.4,295.4 L795.7,296.2 L797.9,297.1 L800.1,299.0 L802.4,302.7 L804.6,307.9 L806.8,313.9 L809.1,319.4 L811.3,323.2 L813.5,325.4 L815.8,326.5 L818.0,327.2 L820.2,327.1 L822.5,326.7 L824.7,326.6 L826.9,324.9 L829.2,316.8 L831.4,305.1 L833.6,294.0 L835.9,288.9 L838.1,287.4 L840.3,288.4 L842.6,292.1 L844.8,298.0 L847.0,305.5 L849.3,313.4 L851.5,320.1 L853.7,325.3 L856.0,328.3 L858.2,330.1 L860.4,330.8 L862.7,331.3 L864.9,331.8 L867.1,332.4 L869.4,333.3 L871.6,334.7 L873.8,336.4 L876.1,337.9 L878.3,338.5 L880.5,338.1 L882.8,337.6 L885.0,337.5 L887.2,338.7 L889.5,340.6 L891.7,343.4 L893.9,346.8 L896.2,351.1 L898.4,355.4 L900.6,358.2 L902.9,357.7 L905.1,355.0 L907.3,351.4 L909.6,348.5 L911.8,345.8 L914.0,343.0 L916.3,339.9 L918.5,336.3 L920.7,332.7 L923.0,329.9 L925.2,328.0 L927.4,327.7 L929.7,328.5 L931.9,330.4 L934.1,332.2 L936.4,333.6 L938.6,332.3 L940.8,329.0 L943.1,325.1 L945.3,324.2 L947.5,326.5 L949.8,330.4 L952.0,333.8 L954.2,335.7 L956.5,336.0 L958.7,334.8 L960.9,332.6 L963.2,329.7 L965.4,326.1 L967.6,320.7 L969.9,314.5 L972.1,308.8 L974.3,305.5 L976.6,304.1 L978.8,303.6 L981.0,303.5 L983.3,303.5 L985.5,303.9 L987.7,304.8 L990.0,307.5 L992.2,311.6 L994.4,316.3 L996.7,319.7 L998.9,320.4 L1001.1,318.8 L1003.4,315.7 L1005.6,313.1 L1007.8,311.3 L1010.1,310.7 L1012.3,310.8 L1014.5,311.5 L1016.8,312.1 L1019.0,312.6 L1021.2,312.9 L1023.5,313.0 L1025.7,312.8 L1027.9,312.2 L1030.2,311.3 L1032.4,310.2 L1034.6,309.4 L1036.9,308.7 L1039.1,308.5 L1041.3,308.5 L1043.6,308.9 L1045.8,309.4 L1048.0,310.0 L1050.3,310.0 L1052.5,309.0 L1054.7,307.2 L1057.0,305.8 L1059.2,305.1 L1061.4,304.8 L1063.7,304.9 L1065.9,306.0 L1068.1,307.5 L1070.4,309.0 L1072.6,309.6 L1074.8,309.7 L1077.1,309.1 L1079.3,307.9 L1081.5,306.0 L1083.8,303.3 L1086.0,299.2 L1088.2,293.4 L1090.5,286.2 L1092.7,279.8 L1094.9,275.3 L1097.2,272.7 L1099.4,271.5 L1101.6,271.0 L1103.9,270.8 L1106.1,270.8 L1108.3,270.9 L1110.6,268.8 L1112.8,264.1 L1115.0,257.3 L1117.3,250.8 L1119.5,245.2 L1121.7,240.1 L1124.0,235.5 L1126.2,231.3 L1128.4,227.6 L1130.7,225.4 L1132.9,226.2 L1135.1,229.2 L1137.4,233.2 L1139.6,236.0 L1141.8,238.1 L1144.1,239.6 L1146.3,240.9 L1148.5,241.7 L1150.8,242.3" stroke="#7cc800" stroke-width="1.9" fill="none" stroke-linejoin="round"/>
<path d="M0.0,129.4 L1.0,129.4 L2.0,129.4 L3.0,129.4 L4.0,129.4 L5.0,129.4 L6.0,129.2 L7.0,128.5 L8.0,127.6 L9.0,126.7 L10.0,125.8 L11.0,124.9 L12.0,124.0 L13.0,123.2 L14.0,122.3 L15.0,121.5 L16.0,120.7 L17.0,119.8 L18.0,119.0 L19.0,118.0 L20.0,117.0 L21.0,116.0 L22.0,115.0 L23.0,113.7 L24.0,111.0 L25.0,108.0 L26.0,105.0 L27.0,102.1 L28.0,99.4 L29.0,96.8 L30.0,94.2 L31.0,91.6 L32.0,89.1 L33.0,87.0 L34.0,85.0 L35.0,83.0 L36.0,81.2 L37.0,80.4 L38.0,79.8 L39.0,79.2 L40.0,78.7 L41.0,78.7 L42.0,78.7 L43.0,78.8 L44.0,78.9 L45.0,78.9 L46.0,79.0 L47.0,79.2 L48.0,79.5 L49.0,79.7 L50.0,79.9 L51.0,80.1 L52.0,80.4 L53.0,80.4 L54.0,79.8 L55.0,79.1 L56.0,78.3 L57.0,77.5 L58.0,76.8 L59.0,76.3 L60.0,76.8 L61.0,77.6 L62.0,78.4 L63.0,79.2 L64.0,79.9 L65.0,80.2 L66.0,80.4 L67.0,80.6 L68.0,80.8 L69.0,80.8 L70.0,79.8 L71.0,78.6 L72.0,77.4 L73.0,76.2 L74.0,75.1 L75.0,74.5 L76.0,73.9 L77.0,73.8 L78.0,75.2 L79.0,77.6 L80.0,82.3 L81.0,87.7 L82.0,93.1 L83.0,99.0 L84.0,105.0 L85.0,110.7 L86.0,115.0 L87.0,119.0 L88.0,122.7 L89.0,125.3 L90.0,127.7 L91.0,129.8 L92.0,131.0 L93.0,132.0 L94.0,133.0 L95.0,133.9 L96.0,134.3 L97.0,134.7 L98.0,135.3 L99.0,137.0 L100.0,139.0 L101.0,140.7 L102.0,141.2 L103.0,141.4 L104.0,141.6 L105.0,141.8 L106.0,142.1 L107.0,143.0 L108.0,144.0 L109.0,145.0 L110.0,145.9 L111.0,146.5 L112.0,147.0 L113.0,147.5 L114.0,148.0 L115.0,148.5 L116.0,148.8 L117.0,148.2 L118.0,147.4 L119.0,146.6 L120.0,145.8 L121.0,145.0 L122.0,144.4 L123.0,143.8 L124.0,143.2 L125.0,142.6 L126.0,142.1 L127.0,142.2 L128.0,142.4 L129.0,142.6 L130.0,142.8 L131.0,143.1 L132.0,144.0 L133.0,145.0 L134.0,146.0 L135.0,147.0 L136.0,147.5 L137.0,145.8 L138.0,143.5 L139.0,141.2 L140.0,139.2 L141.0,138.2 L142.0,137.4 L143.0,136.6 L144.0,135.8 L145.0,135.1 L146.0,134.8 L147.0,134.6 L148.0,134.4 L149.0,134.2 L150.0,133.9 L151.0,133.2 L152.0,132.5 L153.0,131.8 L154.0,131.2 L155.0,131.8 L156.0,132.5 L157.0,133.2 L158.0,134.5 L159.0,137.5 L160.0,140.6 L161.0,142.4 L162.0,143.8 L163.0,145.2 L164.0,146.6 L165.0,147.9 L166.0,149.0 L167.0,150.0 L168.0,151.0 L169.0,152.0 L170.0,153.5 L171.0,157.0 L172.0,161.0 L173.0,164.7 L174.0,167.2 L175.0,169.5 L176.0,171.8 L177.0,173.7 L178.0,174.7 L179.0,175.3 L180.0,175.7 L181.0,175.0 L182.0,174.0 L183.0,173.3 L184.0,174.0 L185.0,175.0 L186.0,176.0 L187.0,177.3 L188.0,179.7 L189.0,182.3 L190.0,184.7 L191.0,186.0 L192.0,187.0 L193.0,188.0 L194.0,188.8 L195.0,188.8 L196.0,188.7 L197.0,188.5 L198.0,188.3 L199.0,188.2 L200.0,187.8 L201.0,186.8 L202.0,185.7 L203.0,184.5 L204.0,183.3 L205.0,182.2 L206.0,181.1 L207.0,180.4 L208.0,179.8 L209.0,179.2 L210.0,178.6 L211.0,178.2 L212.0,178.3 L213.0,178.7 L214.0,179.0 L215.0,179.3 L216.0,179.7 L217.0,180.1 L218.0,180.7 L219.0,181.3 L220.0,182.0 L221.0,182.7 L222.0,183.3 L223.0,184.0 L224.0,184.4 L225.0,184.8 L226.0,185.2 L227.0,185.6 L228.0,186.0 L229.0,186.3 L230.0,186.2 L231.0,185.9 L232.0,185.7 L233.0,185.5 L234.0,185.2 L235.0,185.0 L236.0,184.6 L237.0,184.3 L238.0,183.9 L239.0,184.4 L240.0,187.8 L241.0,192.8 L242.0,201.0 L243.0,209.4 L244.0,215.5 L245.0,221.0 L246.0,226.5 L247.0,232.0 L248.0,237.5 L249.0,243.0 L250.0,248.5 L251.0,254.3 L252.0,261.3 L253.0,268.7 L254.0,275.8 L255.0,282.0 L256.0,288.0 L257.0,293.7 L258.0,298.0 L259.0,302.0 L260.0,306.1 L261.0,310.5 L262.0,315.0 L263.0,319.5 L264.0,323.9 L265.0,327.7 L266.0,331.3 L267.0,334.6 L268.0,336.2 L269.0,337.5 L270.0,338.8 L271.0,340.0 L272.0,341.2 L273.0,342.5 L274.0,343.8 L275.0,345.1 L276.0,346.8 L277.0,348.5 L278.0,350.2 L279.0,351.5 L280.0,350.8 L281.0,349.5 L282.0,348.2 L283.0,347.1 L284.0,346.3 L285.0,345.6 L286.0,345.0 L287.0,344.3 L288.0,343.7 L289.0,343.6 L290.0,343.6 L291.0,343.6 L292.0,343.6 L293.0,343.6 L294.0,343.6 L295.0,343.7 L296.0,343.9 L297.0,344.0 L298.0,344.1 L299.0,344.3 L300.0,344.4 L301.0,344.4 L302.0,344.4 L303.0,344.4 L304.0,345.0 L305.0,348.2 L306.0,351.9 L307.0,355.0 L308.0,358.0 L309.0,360.6 L310.0,361.8 L311.0,362.5 L312.0,363.2 L313.0,364.0 L314.0,365.0 L315.0,366.0 L316.0,367.1 L317.0,368.5 L318.0,370.1 L319.0,371.3 L320.0,371.6 L321.0,371.6 L322.0,370.6 L323.0,368.3 L324.0,365.9 L325.0,363.3 L326.0,360.7 L327.0,358.1 L328.0,356.0 L329.0,354.0 L330.0,352.0 L331.0,350.2 L332.0,349.0 L333.0,348.0 L334.0,347.0 L335.0,346.1 L336.0,345.6 L337.0,345.2 L338.0,344.8 L339.0,344.5 L340.0,344.4 L341.0,344.4 L342.0,344.4 L343.0,344.4 L344.0,344.4 L345.0,344.0 L346.0,342.2 L347.0,339.3 L348.0,333.3 L349.0,326.7 L350.0,319.8 L351.0,312.0 L352.0,304.0 L353.0,296.4 L354.0,290.5 L355.0,285.0 L356.0,279.5 L357.0,274.4 L358.0,271.2 L359.0,268.4 L360.0,265.6 L361.0,262.8 L362.0,260.2 L363.0,258.4 L364.0,256.8 L365.0,255.2 L366.0,253.6 L367.0,252.1 L368.0,251.0 L369.0,250.0 L370.0,249.0 L371.0,248.0 L372.0,246.9 L373.0,245.7 L374.0,244.3 L375.0,243.3 L376.0,243.3 L377.0,243.7 L378.0,244.1 L379.0,244.7 L380.0,245.3 L381.0,245.7 L382.0,245.0 L383.0,244.0 L384.0,243.0 L385.0,242.0 L386.0,241.2 L387.0,240.5 L388.0,239.7 L389.0,239.2 L390.0,239.5 L391.0,240.0 L392.0,240.5 L393.0,241.4 L394.0,243.7 L395.0,246.3 L396.0,248.6 L397.0,249.3 L398.0,249.7 L399.0,250.0 L400.0,250.3 L401.0,250.7 L402.0,250.8 L403.0,250.3 L404.0,249.7 L405.0,248.6 L406.0,246.0 L407.0,243.0 L408.0,240.0 L409.0,237.0 L410.0,234.0 L411.0,231.0 L412.0,228.1 L413.0,225.5 L414.0,223.0 L415.0,220.5 L416.0,218.2 L417.0,216.9 L418.0,215.8 L419.0,214.7 L420.0,213.8 L421.0,213.9 L422.0,214.3 L423.0,214.6 L424.0,215.2 L425.0,216.7 L426.0,218.5 L427.0,220.2 L428.0,222.2 L429.0,225.0 L430.0,228.0 L431.0,231.0 L432.0,234.2 L433.0,238.0 L434.0,242.0 L435.0,246.0 L436.0,250.0 L437.0,254.0 L438.0,258.0 L439.0,262.0 L440.0,265.9 L441.0,269.5 L442.0,273.0 L443.0,276.5 L444.0,279.8 L445.0,282.2 L446.0,284.4 L447.0,286.6 L448.0,288.8 L449.0,290.9 L450.0,292.5 L451.0,294.0 L452.0,295.5 L453.0,296.8 L454.0,297.3 L455.0,297.7 L456.0,297.1 L457.0,293.0 L458.0,288.2 L459.0,284.0 L460.0,280.0 L461.0,276.2 L462.0,273.5 L463.0,271.0 L464.0,268.5 L465.0,266.2 L466.0,264.8 L467.0,263.6 L468.0,262.4 L469.0,261.2 L470.0,260.1 L471.0,259.3 L472.0,258.7 L473.0,258.0 L474.0,257.3 L475.0,256.7 L476.0,256.1 L477.0,255.8 L478.0,255.7 L479.0,255.5 L480.0,255.3 L481.0,255.2 L482.0,255.1 L483.0,255.5 L484.0,256.0 L485.0,256.5 L486.0,256.8 L487.0,256.6 L488.0,256.2 L489.0,255.8 L490.0,255.3 L491.0,254.9 L492.0,254.3 L493.0,253.1 L494.0,251.7 L495.0,250.2 L496.0,248.8 L497.0,247.7 L498.0,247.8 L499.0,248.2 L500.0,248.8 L501.0,250.2 L502.0,251.8 L503.0,253.4 L504.0,255.3 L505.0,258.2 L506.0,261.5 L507.0,264.8 L508.0,268.0 L509.0,271.0 L510.0,274.0 L511.0,277.0 L512.0,279.7 L513.0,281.2 L514.0,282.4 L515.0,283.6 L516.0,284.8 L517.0,286.0 L518.0,287.5 L519.0,289.0 L520.0,290.5 L521.0,291.9 L522.0,293.0 L523.0,294.0 L524.0,295.0 L525.0,296.0 L526.0,296.8 L527.0,297.0 L528.0,297.0 L529.0,297.0 L530.0,296.8 L531.0,295.5 L532.0,294.0 L533.0,292.5 L534.0,291.1 L535.0,290.0 L536.0,289.0 L537.0,288.2 L538.0,288.2 L539.0,288.5 L540.0,288.8 L541.0,288.9 L542.0,288.5 L543.0,288.0 L544.0,287.5 L545.0,287.1 L546.0,287.2 L547.0,287.5 L548.0,287.8 L549.0,287.7 L550.0,286.5 L551.0,285.0 L552.0,283.5 L553.0,282.1 L554.0,280.9 L555.0,279.7 L556.0,278.5 L557.0,277.7 L558.0,277.9 L559.0,278.5 L560.0,279.3 L561.0,281.3 L562.0,283.7 L563.0,286.1 L564.0,288.8 L565.0,291.5 L566.0,294.2 L567.0,297.0 L568.0,299.8 L569.0,302.5 L570.0,305.2 L571.0,307.9 L572.0,310.2 L573.0,312.5 L574.0,314.8 L575.0,316.9 L576.0,318.5 L577.0,320.0 L578.0,321.5 L579.0,322.8 L580.0,323.5 L581.0,323.8 L582.0,323.0 L583.0,322.0 L584.0,321.0 L585.0,320.0 L586.0,319.2 L587.0,318.4 L588.0,317.6 L589.0,316.8 L590.0,316.1 L591.0,315.9 L592.0,315.7 L593.0,315.5 L594.0,315.7 L595.0,316.9 L596.0,318.5 L597.0,320.6 L598.0,325.0 L599.0,330.0 L600.0,334.9 L601.0,339.7 L602.0,344.3 L603.0,348.8 L604.0,352.3 L605.0,355.7 L606.0,358.6 L607.0,360.0 L608.0,361.0 L609.0,361.8 L610.0,361.8 L611.0,361.5 L612.0,361.2 L613.0,361.0 L614.0,360.9 L615.0,360.7 L616.0,360.5 L617.0,360.2 L618.0,359.3 L619.0,358.1 L620.0,356.9 L621.0,355.5 L622.0,354.0 L623.0,352.5 L624.0,351.0 L625.0,349.6 L626.0,348.2 L627.0,346.8 L628.0,345.4 L629.0,344.0 L630.0,342.8 L631.0,341.5 L632.0,340.2 L633.0,339.2 L634.0,339.0 L635.0,339.0 L636.0,339.0 L637.0,338.9 L638.0,338.2 L639.0,337.5 L640.0,336.8 L641.0,336.1 L642.0,335.6 L643.0,335.2 L644.0,334.8 L645.0,334.4 L646.0,334.0 L647.0,333.4 L648.0,332.8 L649.0,332.2 L650.0,331.6 L651.0,331.0 L652.0,330.5 L653.0,330.0 L654.0,329.6 L655.0,329.1 L656.0,328.6 L657.0,328.4 L658.0,328.2 L659.0,328.0 L660.0,327.8 L661.0,327.6 L662.0,327.5 L663.0,327.6 L664.0,327.8 L665.0,328.0 L666.0,328.2 L667.0,328.4 L668.0,328.6 L669.0,328.5 L670.0,328.4 L671.0,328.3 L672.0,328.2 L673.0,328.1 L674.0,327.9 L675.0,327.6 L676.0,327.1 L677.0,326.7 L678.0,326.3 L679.0,325.8 L680.0,325.5 L681.0,325.3 L682.0,325.3 L683.0,325.2 L684.0,325.1 L685.0,325.1 L686.0,325.0 L687.0,325.2 L688.0,325.4 L689.0,325.6 L690.0,325.8 L691.0,326.0 L692.0,326.3 L693.0,326.6 L694.0,326.8 L695.0,327.1 L696.0,327.2 L697.0,326.5 L698.0,325.7 L699.0,324.8 L700.0,324.1 L701.0,323.9 L702.0,323.7 L703.0,323.5 L704.0,323.5 L705.0,323.9 L706.0,324.5 L707.0,325.0 L708.0,325.5 L709.0,326.1 L710.0,326.3 L711.0,325.2 L712.0,323.8 L713.0,322.4 L714.0,321.0 L715.0,319.8 L716.0,318.6 L717.0,317.4 L718.0,316.2 L719.0,314.9 L720.0,313.0 L721.0,311.0 L722.0,309.0 L723.0,307.1 L724.0,305.6 L725.0,304.2 L726.0,302.8 L727.0,301.4 L728.0,300.1 L729.0,299.0 L730.0,298.0 L731.0,297.0 L732.0,296.0 L733.0,295.1 L734.0,294.4 L735.0,293.8 L736.0,293.2 L737.0,292.6 L738.0,292.0 L739.0,291.6 L740.0,291.3 L741.0,291.0 L742.0,290.9 L743.0,292.1 L744.0,293.5 L745.0,295.0 L746.0,296.7 L747.0,298.3 L748.0,299.7 L749.0,299.8 L750.0,299.4 L751.0,297.5 L752.0,294.2 L753.0,291.1 L754.0,288.5 L755.0,286.0 L756.0,283.5 L757.0,281.3 L758.0,280.1 L759.0,279.2 L760.0,278.3 L761.0,277.5 L762.0,277.4 L763.0,277.4 L764.0,277.4 L765.0,277.4 L766.0,277.5 L767.0,277.7 L768.0,278.0 L769.0,278.4 L770.0,278.7 L771.0,278.9 L772.0,278.9 L773.0,278.8 L774.0,278.8 L775.0,278.7 L776.0,278.7 L777.0,279.1 L778.0,279.5 L779.0,280.8 L780.0,285.0 L781.0,289.3 L782.0,291.0 L783.0,292.0 L784.0,293.0 L785.0,293.8 L786.0,293.7 L787.0,293.4 L788.0,293.2 L789.0,292.9 L790.0,292.7 L791.0,293.2 L792.0,293.8 L793.0,294.4 L794.0,294.9 L795.0,295.2 L796.0,295.4 L797.0,295.6 L798.0,295.8 L799.0,296.2 L800.0,297.2 L801.0,298.5 L802.0,299.8 L803.0,301.2 L804.0,303.5 L805.0,306.0 L806.0,308.5 L807.0,311.0 L808.0,313.2 L809.0,315.5 L810.0,317.8 L811.0,319.8 L812.0,320.8 L813.0,321.5 L814.0,322.2 L815.0,323.0 L816.0,323.8 L817.0,324.5 L818.0,325.2 L819.0,325.8 L820.0,325.8 L821.0,325.5 L822.0,325.2 L823.0,325.1 L824.0,325.4 L825.0,325.8 L826.0,326.2 L827.0,326.3 L828.0,325.3 L829.0,323.0 L830.0,316.5 L831.0,309.6 L832.0,305.0 L833.0,301.0 L834.0,297.4 L835.0,295.3 L836.0,293.7 L837.0,292.2 L838.0,291.5 L839.0,291.1 L840.0,290.8 L841.0,291.4 L842.0,292.2 L843.0,293.3 L844.0,295.3 L845.0,297.7 L846.0,300.1 L847.0,303.0 L848.0,306.0 L849.0,309.0 L850.0,312.0 L851.0,315.0 L852.0,317.8 L853.0,319.8 L854.0,321.5 L855.0,323.2 L856.0,324.8 L857.0,325.8 L858.0,326.5 L859.0,327.2 L860.0,327.9 L861.0,328.4 L862.0,328.8 L863.0,329.2 L864.0,329.6 L865.0,330.0 L866.0,330.4 L867.0,330.8 L868.0,331.2 L869.0,331.6 L870.0,332.1 L871.0,332.8 L872.0,333.6 L873.0,334.4 L874.0,335.2 L875.0,335.9 L876.0,336.5 L877.0,337.0 L878.0,337.5 L879.0,337.9 L880.0,337.6 L881.0,337.3 L882.0,336.9 L883.0,336.7 L884.0,336.8 L885.0,337.0 L886.0,337.2 L887.0,337.5 L888.0,338.3 L889.0,339.2 L890.0,340.1 L891.0,341.1 L892.0,342.2 L893.0,343.5 L894.0,344.8 L895.0,346.1 L896.0,348.0 L897.0,350.0 L898.0,352.0 L899.0,353.9 L900.0,355.3 L901.0,356.7 L902.0,357.6 L903.0,356.7 L904.0,355.3 L905.0,354.1 L906.0,353.0 L907.0,352.0 L908.0,351.0 L909.0,350.0 L910.0,349.0 L911.0,348.0 L912.0,347.0 L913.0,346.0 L914.0,345.0 L915.0,343.9 L916.0,342.5 L917.0,341.0 L918.0,339.5 L919.0,338.0 L920.0,336.5 L921.0,335.0 L922.0,333.5 L923.0,332.1 L924.0,331.2 L925.0,330.5 L926.0,329.8 L927.0,329.2 L928.0,329.2 L929.0,329.5 L930.0,329.8 L931.0,330.1 L932.0,330.8 L933.0,331.5 L934.0,332.2 L935.0,332.9 L936.0,333.2 L937.0,333.5 L938.0,333.8 L939.0,333.6 L940.0,331.7 L941.0,329.3 L942.0,327.2 L943.0,326.0 L944.0,325.0 L945.0,324.3 L946.0,325.0 L947.0,326.0 L948.0,327.1 L949.0,328.7 L950.0,330.3 L951.0,331.9 L952.0,332.8 L953.0,333.7 L954.0,334.5 L955.0,335.2 L956.0,335.2 L957.0,335.0 L958.0,334.8 L959.0,334.5 L960.0,333.7 L961.0,332.8 L962.0,331.9 L963.0,330.9 L964.0,329.8 L965.0,328.5 L966.0,327.2 L967.0,325.7 L968.0,323.0 L969.0,320.0 L970.0,317.1 L971.0,314.7 L972.0,312.3 L973.0,310.2 L974.0,309.1 L975.0,308.3 L976.0,307.5 L977.0,306.7 L978.0,306.3 L979.0,306.0 L980.0,305.6 L981.0,305.3 L982.0,305.0 L983.0,304.9 L984.0,304.8 L985.0,304.8 L986.0,304.7 L987.0,304.7 L988.0,305.1 L989.0,305.5 L990.0,306.3 L991.0,308.0 L992.0,310.0 L993.0,311.9 L994.0,313.7 L995.0,315.3 L996.0,316.9 L997.0,318.0 L998.0,319.0 L999.0,319.7 L1000.0,319.0 L1001.0,318.0 L1002.0,317.0 L1003.0,316.0 L1004.0,315.0 L1005.0,314.0 L1006.0,313.1 L1007.0,312.5 L1008.0,312.0 L1009.0,311.5 L1010.0,311.1 L1011.0,311.2 L1012.0,311.3 L1013.0,311.5 L1014.0,311.7 L1015.0,311.8 L1016.0,312.0 L1017.0,312.2 L1018.0,312.3 L1019.0,312.5 L1020.0,312.7 L1021.0,312.8 L1022.0,313.0 L1023.0,312.9 L1024.0,312.9 L1025.0,312.8 L1026.0,312.7 L1027.0,312.7 L1028.0,312.5 L1029.0,312.2 L1030.0,311.7 L1031.0,311.3 L1032.0,310.9 L1033.0,310.4 L1034.0,310.0 L1035.0,309.8 L1036.0,309.5 L1037.0,309.3 L1038.0,309.1 L1039.0,308.8 L1040.0,308.7 L1041.0,308.7 L1042.0,308.9 L1043.0,309.0 L1044.0,309.1 L1045.0,309.3 L1046.0,309.4 L1047.0,309.6 L1048.0,309.9 L1049.0,310.1 L1050.0,310.4 L1051.0,310.4 L1052.0,309.8 L1053.0,309.0 L1054.0,308.2 L1055.0,307.4 L1056.0,306.7 L1057.0,306.4 L1058.0,306.1 L1059.0,305.9 L1060.0,305.6 L1061.0,305.4 L1062.0,305.3 L1063.0,305.2 L1064.0,305.1 L1065.0,305.1 L1066.0,305.8 L1067.0,306.5 L1068.0,307.2 L1069.0,307.9 L1070.0,308.3 L1071.0,308.7 L1072.0,309.0 L1073.0,309.3 L1074.0,309.3 L1075.0,309.2 L1076.0,309.2 L1077.0,309.1 L1078.0,308.9 L1079.0,308.4 L1080.0,307.8 L1081.0,307.2 L1082.0,306.5 L1083.0,305.5 L1084.0,304.3 L1085.0,303.1 L1086.0,301.8 L1087.0,299.7 L1088.0,297.3 L1089.0,294.8 L1090.0,291.7 L1091.0,288.3 L1092.0,285.2 L1093.0,283.0 L1094.0,281.0 L1095.0,279.1 L1096.0,277.9 L1097.0,276.8 L1098.0,275.7 L1099.0,274.7 L1100.0,274.2 L1101.0,273.8 L1102.0,273.4 L1103.0,273.0 L1104.0,272.8 L1105.0,272.5 L1106.0,272.2 L1107.0,272.0 L1108.0,272.0 L1109.0,272.0 L1110.0,272.0 L1111.0,271.5 L1112.0,269.0 L1113.0,266.0 L1114.0,263.1 L1115.0,260.5 L1116.0,258.0 L1117.0,255.5 L1118.0,253.0 L1119.0,250.8 L1120.0,248.5 L1121.0,246.2 L1122.0,244.0 L1123.0,242.0 L1124.0,240.0 L1125.0,238.0 L1126.0,236.0 L1127.0,234.2 L1128.0,232.5 L1129.0,230.8 L1130.0,229.1 L1131.0,228.0 L1132.0,227.1 L1133.0,227.5 L1134.0,229.1 L1135.0,230.5 L1136.0,231.7 L1137.0,232.8 L1138.0,233.9 L1139.0,234.9 L1140.0,235.7 L1141.0,236.4 L1142.0,237.2 L1143.0,237.9 L1144.0,238.6 L1145.0,239.1 L1146.0,239.5 L1147.0,240.0 L1148.0,240.5 L1149.0,240.9 L1150.0,241.3" stroke="#f40000" stroke-width="1.9" fill="none" stroke-linejoin="round" stroke-linecap="round"/>
<path d="M1155.0,237.0 L1178.0,206.0 L1193.0,228.0 L1206.0,218.0 L1227.0,247.4 L1278.5,154.0 L1397.5,425.0" stroke="#f60f3a" stroke-width="2" stroke-dasharray="5.2,2.6" fill="none" stroke-linejoin="miter"/>
<path d="M1391.5,421.5L1397.8,426L1399.6,418.6" stroke="#f60f3a" stroke-width="1.4" fill="none"/>
<path d="M0,561.6H1457" stroke="#d8d8d8" stroke-width="1" fill="none"/>
<clipPath id="c2"><rect x="0" y="492" width="1457" height="95.3"/></clipPath>
<g clip-path="url(#c2)">
<path d="M0.5,561.5 L1.0,561.3 L1.5,561.2 L2.0,561.1 L2.5,561.0 L3.0,560.8 L3.5,560.7 L4.0,560.6 L4.5,560.4 L5.0,560.3 L5.5,560.2 L6.0,560.0 L6.5,559.9 L7.0,559.8 L7.5,559.6 L8.0,559.5 L8.5,559.4 L9.0,559.3 L9.5,559.1 L10.0,559.0 L10.5,558.7 L11.0,558.4 L11.5,558.1 L12.0,557.8 L12.5,557.4 L13.0,557.1 L13.5,556.8 L14.0,556.5 L14.5,556.2 L15.0,555.9 L15.5,555.6 L16.0,555.2 L16.5,554.9 L17.0,554.6 L17.5,554.3 L18.0,554.0 L18.5,553.9 L19.0,553.8 L19.5,553.6 L20.0,553.5 L20.5,553.4 L21.0,553.2 L21.5,553.1 L22.0,553.0 L22.5,552.2 L23.0,551.5 L23.5,550.8 L24.0,550.0 L24.5,549.2 L25.0,548.5 L25.5,547.8 L26.0,547.0 L26.5,546.2 L27.0,545.5 L27.5,544.8 L28.0,544.0 L28.5,543.3 L29.0,542.6 L29.5,541.9 L30.0,541.2 L30.5,540.5 L31.0,539.8 L31.5,539.1 L32.0,538.4 L32.5,537.7 L33.0,537.0 L33.5,536.5 L34.0,536.1 L34.5,535.6 L35.0,535.2 L35.5,534.7 L36.0,534.2 L36.5,533.8 L37.0,533.3 L37.5,532.9 L38.0,532.4 L38.5,532.5 L39.0,532.5 L39.5,532.6 L40.0,532.6 L40.5,532.7 L41.0,532.8 L41.5,532.8 L42.0,532.9 L42.5,532.9 L43.0,533.0 L43.5,533.2 L44.0,533.4 L44.5,533.5 L45.0,533.7 L45.5,533.9 L46.0,534.0 L46.5,534.2 L47.0,534.4 L47.5,534.8 L48.0,535.1 L48.5,535.5 L49.0,535.8 L49.5,536.2 L50.0,536.6 L50.0,536.8 L49.5,536.7 L49.0,536.6 L48.5,536.5 L48.0,536.4 L47.5,536.5 L47.0,536.7 L46.5,536.8 L46.0,536.9 L45.5,537.1 L45.0,537.2 L44.5,537.3 L44.0,537.5 L43.5,537.6 L43.0,537.7 L42.5,537.9 L42.0,538.0 L41.5,538.4 L41.0,538.8 L40.5,539.2 L40.0,539.7 L39.5,540.1 L39.0,540.5 L38.5,540.9 L38.0,541.3 L37.5,541.8 L37.0,542.2 L36.5,542.6 L36.0,543.0 L35.5,543.5 L35.0,544.0 L34.5,544.5 L34.0,545.0 L33.5,545.5 L33.0,546.0 L32.5,546.5 L32.0,547.0 L31.5,547.5 L31.0,548.0 L30.5,548.5 L30.0,549.0 L29.5,549.4 L29.0,549.8 L28.5,550.2 L28.0,550.7 L27.5,551.1 L27.0,551.5 L26.5,551.9 L26.0,552.3 L25.5,552.8 L25.0,553.2 L24.5,553.6 L24.0,554.0 L23.5,554.2 L23.0,554.5 L22.5,554.7 L22.0,554.9 L21.5,555.1 L21.0,555.4 L20.5,555.6 L20.0,555.8 L19.5,556.0 L19.0,556.2 L18.5,556.5 L18.0,556.7 L17.5,556.9 L17.0,557.1 L16.5,557.4 L16.0,557.6 L15.5,557.8 L15.0,557.9 L14.5,558.1 L14.0,558.2 L13.5,558.4 L13.0,558.5 L12.5,558.6 L12.0,558.8 L11.5,559.0 L11.0,559.1 L10.5,559.2 L10.0,559.4 L9.5,559.5 L9.0,559.7 L8.5,559.9 L8.0,560.0 L7.5,560.1 L7.0,560.2 L6.5,560.3 L6.0,560.4 L5.5,560.5 L5.0,560.6 L4.5,560.7 L4.0,560.8 L3.5,560.9 L3.0,561.0 L2.5,561.1 L2.0,561.2 L1.5,561.3 L1.0,561.4 L0.5,561.5ZM118.0,595.0 L118.5,593.7 L119.0,592.3 L119.5,591.0 L120.0,589.7 L120.5,588.3 L121.0,587.0 L121.5,586.4 L122.0,585.8 L122.5,585.2 L123.0,584.6 L123.5,584.0 L124.0,583.4 L124.5,582.8 L125.0,582.2 L125.5,581.6 L126.0,581.0 L126.5,580.7 L127.0,580.5 L127.5,580.2 L128.0,580.0 L128.5,579.7 L129.0,579.4 L129.5,579.2 L130.0,578.9 L130.5,578.7 L131.0,578.4 L131.5,578.5 L132.0,578.5 L132.5,578.6 L133.0,578.6 L133.5,578.7 L134.0,578.8 L134.5,578.8 L135.0,578.9 L135.5,578.9 L136.0,579.0 L136.5,578.4 L137.0,577.8 L137.5,577.1 L138.0,576.5 L138.5,575.9 L139.0,575.2 L139.5,574.6 L140.0,574.0 L140.5,573.4 L141.0,572.8 L141.5,572.2 L142.0,571.6 L142.5,571.0 L143.0,570.4 L143.5,569.8 L144.0,569.2 L144.5,568.6 L145.0,568.0 L145.5,567.7 L146.0,567.4 L146.5,567.1 L147.0,566.8 L147.5,566.5 L148.0,566.2 L148.5,565.9 L149.0,565.6 L149.5,565.3 L150.0,565.0 L150.5,564.8 L151.0,564.5 L151.5,564.3 L152.0,564.0 L152.5,563.8 L153.0,563.6 L153.5,563.3 L154.0,563.1 L154.5,562.8 L155.0,562.6 L155.5,562.7 L156.0,562.7 L156.5,562.8 L157.0,562.9 L157.5,562.9 L158.0,563.0 L158.5,564.0 L159.0,565.0 L159.5,566.0 L159.5,566.6 L159.0,566.4 L158.5,566.6 L158.0,566.8 L157.5,567.0 L157.0,567.2 L156.5,567.4 L156.0,567.6 L155.5,567.8 L155.0,568.0 L154.5,568.3 L154.0,568.6 L153.5,568.9 L153.0,569.2 L152.5,569.5 L152.0,569.8 L151.5,570.1 L151.0,570.4 L150.5,570.7 L150.0,571.0 L149.5,571.4 L149.0,571.8 L148.5,572.2 L148.0,572.7 L147.5,573.1 L147.0,573.5 L146.5,573.9 L146.0,574.3 L145.5,574.8 L145.0,575.2 L144.5,575.6 L144.0,576.0 L143.5,576.4 L143.0,576.8 L142.5,577.2 L142.0,577.7 L141.5,578.1 L141.0,578.5 L140.5,578.9 L140.0,579.3 L139.5,579.8 L139.0,580.2 L138.5,580.6 L138.0,581.0 L137.5,581.2 L137.0,581.5 L136.5,581.8 L136.0,582.0 L135.5,582.2 L135.0,582.5 L134.5,582.8 L134.0,583.0 L133.5,583.2 L133.0,583.5 L132.5,583.8 L132.0,584.0 L131.5,584.2 L131.0,584.5 L130.5,584.8 L130.0,585.0 L129.5,585.2 L129.0,585.5 L128.5,585.8 L128.0,586.0 L127.5,586.2 L127.0,586.5 L126.5,586.8 L126.0,587.0 L125.5,587.6 L125.0,588.2 L124.5,588.9 L124.0,589.5 L123.5,590.1 L123.0,590.8 L122.5,591.4 L122.0,592.0 L121.5,640.0 L121.0,640.0 L120.5,640.0 L120.0,640.0 L119.5,640.0 L119.0,640.0 L118.5,640.0 L118.0,640.0ZM200.0,588.7 L200.5,587.8 L201.0,587.0 L201.5,586.3 L202.0,585.6 L202.5,584.9 L203.0,584.2 L203.5,583.5 L204.0,582.8 L204.5,582.1 L205.0,581.4 L205.5,580.7 L206.0,580.0 L206.5,579.5 L207.0,579.0 L207.5,578.5 L208.0,578.0 L208.5,577.5 L209.0,577.0 L209.5,576.5 L210.0,576.0 L210.5,575.5 L211.0,575.0 L211.5,574.9 L212.0,574.9 L212.5,574.8 L213.0,574.8 L213.5,574.7 L214.0,574.6 L214.5,574.6 L215.0,574.5 L215.5,574.5 L216.0,574.4 L216.5,574.2 L217.0,574.0 L217.5,573.9 L218.0,573.7 L218.5,573.5 L219.0,573.3 L219.5,573.1 L220.0,573.0 L220.5,572.8 L221.0,572.6 L221.5,572.7 L222.0,572.8 L222.5,572.9 L223.0,573.0 L223.5,573.1 L224.0,573.2 L224.5,573.3 L225.0,573.4 L225.5,573.5 L226.0,573.6 L226.5,573.5 L227.0,573.3 L227.5,573.2 L228.0,573.1 L228.5,572.9 L229.0,572.8 L229.5,572.7 L230.0,572.5 L230.5,572.4 L231.0,572.3 L231.5,572.1 L232.0,572.0 L232.5,571.9 L233.0,571.7 L233.5,571.6 L234.0,571.4 L234.5,571.3 L235.0,571.1 L235.5,571.0 L236.0,570.9 L236.5,570.7 L237.0,570.6 L237.5,570.4 L238.0,570.3 L238.5,570.1 L239.0,570.0 L239.5,571.0 L240.0,572.0 L240.0,572.5 L239.5,572.6 L239.0,572.6 L238.5,572.7 L238.0,572.8 L237.5,572.8 L237.0,572.9 L236.5,572.9 L236.0,573.0 L235.5,573.1 L235.0,573.2 L234.5,573.4 L234.0,573.5 L233.5,573.6 L233.0,573.7 L232.5,573.8 L232.0,573.9 L231.5,574.0 L231.0,574.2 L230.5,574.3 L230.0,574.4 L229.5,574.5 L229.0,574.6 L228.5,574.7 L228.0,574.8 L227.5,574.9 L227.0,575.0 L226.5,575.1 L226.0,575.2 L225.5,575.3 L225.0,575.4 L224.5,575.5 L224.0,575.6 L223.5,575.7 L223.0,575.8 L222.5,575.9 L222.0,576.0 L221.5,576.2 L221.0,576.4 L220.5,576.6 L220.0,576.9 L219.5,577.1 L219.0,577.3 L218.5,577.5 L218.0,577.7 L217.5,577.9 L217.0,578.1 L216.5,578.4 L216.0,578.6 L215.5,578.8 L215.0,579.0 L214.5,579.3 L214.0,579.7 L213.5,580.0 L213.0,580.3 L212.5,580.7 L212.0,581.0 L211.5,581.3 L211.0,581.7 L210.5,582.0 L210.0,582.3 L209.5,582.7 L209.0,583.0 L208.5,583.3 L208.0,583.7 L207.5,584.0 L207.0,584.3 L206.5,584.7 L206.0,585.0 L205.5,585.3 L205.0,585.7 L204.5,586.0 L204.0,586.3 L203.5,586.7 L203.0,587.0 L202.5,587.5 L202.0,588.0 L201.5,588.5 L201.0,589.0 L200.5,589.5 L200.0,590.0ZM326.0,596.0 L326.5,594.5 L327.0,593.0 L327.5,591.5 L328.0,590.0 L328.5,588.5 L329.0,587.0 L329.5,586.0 L330.0,585.0 L330.5,584.0 L331.0,583.0 L331.5,582.0 L332.0,581.0 L332.5,580.0 L333.0,579.0 L333.5,578.2 L334.0,577.5 L334.5,576.8 L335.0,576.0 L335.5,575.2 L336.0,574.5 L336.5,573.8 L337.0,573.0 L337.5,572.6 L338.0,572.2 L338.5,571.8 L339.0,571.4 L339.5,571.0 L340.0,570.6 L340.5,570.2 L341.0,569.8 L341.5,569.4 L342.0,569.0 L342.5,568.6 L343.0,568.2 L343.5,567.9 L344.0,567.5 L344.5,567.1 L345.0,566.8 L345.5,566.4 L346.0,566.0 L346.5,563.7 L347.0,561.3 L347.5,559.0 L348.0,556.7 L348.5,554.3 L349.0,552.0 L349.5,549.6 L350.0,547.2 L350.5,544.9 L351.0,542.5 L351.5,540.1 L352.0,537.8 L352.5,535.4 L353.0,533.0 L353.5,531.4 L354.0,529.8 L354.5,528.1 L355.0,526.5 L355.5,524.9 L356.0,523.2 L356.5,521.6 L357.0,520.0 L357.5,519.1 L358.0,518.2 L358.5,517.4 L359.0,516.5 L359.5,515.6 L360.0,514.8 L360.5,513.9 L361.0,513.0 L361.5,512.6 L362.0,512.2 L362.5,511.8 L363.0,511.4 L363.5,511.0 L364.0,510.6 L364.5,510.2 L365.0,509.8 L365.5,509.4 L366.0,509.0 L366.5,508.9 L367.0,508.8 L367.5,508.6 L368.0,508.5 L368.5,508.4 L369.0,508.2 L369.5,508.1 L370.0,508.0 L370.5,507.8 L371.0,507.6 L371.5,507.4 L372.0,507.2 L372.5,507.0 L373.0,506.8 L373.5,506.6 L374.0,507.0 L374.5,507.4 L375.0,507.8 L375.5,508.3 L376.0,508.7 L376.5,509.2 L377.0,509.6 L377.5,510.2 L378.0,510.7 L378.5,511.2 L379.0,511.8 L379.5,512.4 L380.0,512.9 L380.5,513.5 L381.0,514.0 L381.0,514.1 L380.5,514.1 L380.0,514.0 L379.5,514.1 L379.0,514.2 L378.5,514.4 L378.0,514.5 L377.5,514.6 L377.0,514.8 L376.5,514.9 L376.0,515.0 L375.5,515.4 L375.0,515.8 L374.5,516.2 L374.0,516.6 L373.5,517.0 L373.0,517.4 L372.5,517.8 L372.0,518.2 L371.5,518.6 L371.0,519.0 L370.5,519.8 L370.0,520.6 L369.5,521.4 L369.0,522.2 L368.5,523.0 L368.0,523.8 L367.5,524.6 L367.0,525.4 L366.5,526.2 L366.0,527.0 L365.5,528.2 L365.0,529.4 L364.5,530.6 L364.0,531.8 L363.5,533.0 L363.0,534.2 L362.5,535.4 L362.0,536.6 L361.5,537.8 L361.0,539.0 L360.5,540.3 L360.0,541.6 L359.5,542.9 L359.0,544.2 L358.5,545.5 L358.0,546.8 L357.5,548.1 L357.0,549.4 L356.5,550.7 L356.0,552.0 L355.5,553.4 L355.0,554.8 L354.5,556.2 L354.0,557.6 L353.5,559.0 L353.0,560.4 L352.5,561.8 L352.0,563.2 L351.5,564.6 L351.0,566.0 L350.5,567.0 L350.0,568.0 L349.5,569.0 L349.0,570.0 L348.5,571.0 L348.0,572.0 L347.5,573.0 L347.0,574.0 L346.5,575.0 L346.0,576.0 L345.5,576.6 L345.0,577.1 L344.5,577.7 L344.0,578.2 L343.5,578.8 L343.0,579.4 L342.5,579.9 L342.0,580.5 L341.5,581.0 L341.0,581.6 L340.5,582.1 L340.0,582.7 L339.5,583.2 L339.0,583.8 L338.5,584.3 L338.0,584.8 L337.5,585.4 L337.0,585.9 L336.5,586.5 L336.0,587.0 L335.5,587.9 L335.0,588.8 L334.5,589.6 L334.0,590.5 L333.5,591.4 L333.0,592.2 L332.5,593.1 L332.0,594.0 L331.5,640.0 L331.0,640.0 L330.5,640.0 L330.0,640.0 L329.5,640.0 L329.0,640.0 L328.5,640.0 L328.0,640.0 L327.5,640.0 L327.0,640.0 L326.5,640.0 L326.0,640.0ZM411.5,531.5 L412.0,531.0 L412.5,530.5 L413.0,530.0 L413.5,529.5 L414.0,529.0 L414.5,528.8 L415.0,528.5 L415.5,528.3 L416.0,528.0 L416.5,527.8 L417.0,527.6 L417.5,527.3 L418.0,527.1 L418.5,526.8 L419.0,526.6 L419.5,526.9 L420.0,527.2 L420.5,527.5 L421.0,527.8 L421.5,528.1 L422.0,528.4 L422.5,528.7 L423.0,529.0 L423.0,529.4 L422.5,529.3 L422.0,529.2 L421.5,529.1 L421.0,529.0 L420.5,529.2 L420.0,529.3 L419.5,529.5 L419.0,529.7 L418.5,529.8 L418.0,530.0 L417.5,530.2 L417.0,530.3 L416.5,530.5 L416.0,530.7 L415.5,530.8 L415.0,531.0 L414.5,531.1 L414.0,531.2 L413.5,531.3 L413.0,531.4 L412.5,531.5 L412.0,531.6 L411.5,531.7ZM460.5,581.2 L461.0,580.0 L461.5,579.0 L462.0,578.0 L462.5,577.0 L463.0,576.0 L463.5,575.0 L464.0,574.0 L464.5,573.0 L465.0,572.0 L465.5,571.2 L466.0,570.5 L466.5,569.8 L467.0,569.0 L467.5,568.2 L468.0,567.5 L468.5,566.8 L469.0,566.0 L469.5,565.5 L470.0,565.0 L470.5,564.5 L471.0,564.0 L471.5,563.5 L472.0,563.0 L472.5,562.5 L473.0,562.0 L473.5,561.5 L474.0,561.0 L474.5,560.8 L475.0,560.5 L475.5,560.2 L476.0,560.0 L476.5,559.8 L477.0,559.5 L477.5,559.2 L478.0,559.0 L478.5,558.8 L479.0,558.5 L479.5,558.2 L480.0,558.0 L480.5,558.0 L481.0,557.9 L481.5,557.9 L482.0,557.9 L482.5,557.8 L483.0,557.8 L483.5,557.8 L484.0,557.7 L484.5,557.7 L485.0,557.7 L485.5,557.6 L486.0,557.6 L486.5,557.5 L487.0,557.5 L487.5,557.4 L488.0,557.4 L488.5,557.3 L489.0,557.2 L489.5,557.2 L490.0,557.1 L490.5,557.1 L491.0,557.0 L491.5,556.6 L492.0,556.1 L492.5,555.7 L493.0,555.3 L493.5,554.9 L494.0,554.5 L494.5,554.0 L495.0,553.6 L495.5,553.4 L496.0,553.2 L496.5,553.0 L497.0,552.8 L497.5,552.6 L498.0,552.4 L498.5,552.7 L499.0,552.9 L499.5,553.2 L500.0,553.5 L500.5,553.7 L501.0,554.0 L501.5,554.6 L502.0,555.2 L502.5,555.9 L502.5,556.4 L502.0,556.4 L501.5,556.4 L501.0,556.4 L500.5,556.6 L500.0,556.7 L499.5,556.9 L499.0,557.0 L498.5,557.2 L498.0,557.4 L497.5,557.5 L497.0,557.7 L496.5,557.8 L496.0,558.0 L495.5,558.2 L495.0,558.3 L494.5,558.5 L494.0,558.7 L493.5,558.8 L493.0,559.0 L492.5,559.2 L492.0,559.3 L491.5,559.5 L491.0,559.7 L490.5,559.8 L490.0,560.0 L489.5,560.1 L489.0,560.3 L488.5,560.4 L488.0,560.5 L487.5,560.7 L487.0,560.8 L486.5,560.9 L486.0,561.1 L485.5,561.2 L485.0,561.3 L484.5,561.5 L484.0,561.6 L483.5,561.8 L483.0,562.1 L482.5,562.3 L482.0,562.5 L481.5,562.8 L481.0,563.0 L480.5,563.2 L480.0,563.5 L479.5,563.7 L479.0,563.9 L478.5,564.2 L478.0,564.4 L477.5,564.8 L477.0,565.2 L476.5,565.5 L476.0,565.9 L475.5,566.3 L475.0,566.7 L474.5,567.1 L474.0,567.5 L473.5,567.9 L473.0,568.2 L472.5,568.6 L472.0,569.0 L471.5,569.5 L471.0,570.0 L470.5,570.5 L470.0,571.0 L469.5,571.5 L469.0,572.0 L468.5,572.5 L468.0,573.0 L467.5,573.5 L467.0,574.0 L466.5,574.5 L466.0,575.0 L465.5,575.6 L465.0,576.2 L464.5,576.8 L464.0,577.4 L463.5,578.0 L463.0,578.6 L462.5,579.2 L462.0,579.8 L461.5,580.4 L461.0,581.0 L460.5,581.5ZM535.5,578.7 L536.0,578.1 L536.5,577.6 L537.0,577.0 L537.5,576.7 L538.0,576.4 L538.5,576.1 L539.0,575.8 L539.5,575.5 L540.0,575.2 L540.5,574.9 L541.0,574.6 L541.5,574.3 L542.0,574.0 L542.5,573.8 L543.0,573.5 L543.5,573.3 L544.0,573.0 L544.5,572.8 L545.0,572.6 L545.5,572.3 L546.0,572.1 L546.5,571.8 L547.0,571.6 L547.5,571.4 L548.0,571.2 L548.5,571.0 L549.0,570.8 L549.5,570.6 L550.0,570.4 L550.5,570.2 L551.0,570.0 L551.5,569.4 L552.0,568.8 L552.5,568.1 L553.0,567.5 L553.5,566.9 L554.0,566.2 L554.5,565.6 L555.0,565.0 L555.5,564.8 L556.0,564.5 L556.5,564.2 L557.0,564.0 L557.5,563.8 L558.0,563.5 L558.5,563.2 L559.0,563.0 L559.5,563.1 L560.0,563.2 L560.5,563.3 L561.0,563.4 L561.5,563.5 L562.0,563.6 L562.5,564.3 L563.0,565.1 L563.5,565.8 L564.0,566.5 L564.5,567.3 L564.5,567.9 L564.0,567.8 L563.5,567.8 L563.0,567.7 L562.5,567.6 L562.0,567.6 L561.5,567.9 L561.0,568.2 L560.5,568.4 L560.0,568.7 L559.5,569.0 L559.0,569.3 L558.5,569.6 L558.0,569.8 L557.5,570.1 L557.0,570.4 L556.5,570.7 L556.0,571.0 L555.5,571.3 L555.0,571.6 L554.5,571.9 L554.0,572.2 L553.5,572.5 L553.0,572.8 L552.5,573.1 L552.0,573.4 L551.5,573.7 L551.0,574.0 L550.5,574.2 L550.0,574.4 L549.5,574.6 L549.0,574.8 L548.5,575.0 L548.0,575.2 L547.5,575.4 L547.0,575.6 L546.5,575.8 L546.0,576.0 L545.5,576.2 L545.0,576.4 L544.5,576.6 L544.0,576.7 L543.5,576.9 L543.0,577.1 L542.5,577.2 L542.0,577.4 L541.5,577.6 L541.0,577.7 L540.5,577.9 L540.0,578.1 L539.5,578.2 L539.0,578.4 L538.5,578.5 L538.0,578.6 L537.5,578.7 L537.0,578.8 L536.5,578.9 L536.0,579.0 L535.5,579.1ZM586.5,582.2 L587.0,581.8 L587.5,581.5 L588.0,581.1 L588.5,580.8 L589.0,580.4 L589.5,580.3 L590.0,580.1 L590.5,580.0 L591.0,579.8 L591.5,579.7 L592.0,579.6 L592.5,579.4 L593.0,579.3 L593.5,579.1 L594.0,579.0 L594.5,579.2 L595.0,579.5 L595.5,579.8 L596.0,580.0 L596.5,580.2 L597.0,580.5 L597.5,580.8 L598.0,581.0 L598.5,581.8 L598.5,582.5 L598.0,582.3 L597.5,582.1 L597.0,582.0 L596.5,581.8 L596.0,581.6 L595.5,581.6 L595.0,581.7 L594.5,581.7 L594.0,581.8 L593.5,581.8 L593.0,581.8 L592.5,581.9 L592.0,581.9 L591.5,582.0 L591.0,582.0 L590.5,582.0 L590.0,582.1 L589.5,582.1 L589.0,582.2 L588.5,582.2 L588.0,582.2 L587.5,582.3 L587.0,582.3 L586.5,582.4ZM620.0,594.0 L620.5,593.1 L621.0,592.2 L621.5,591.4 L622.0,590.5 L622.5,589.6 L623.0,588.8 L623.5,587.9 L624.0,587.0 L624.5,586.1 L625.0,585.2 L625.5,584.4 L626.0,583.5 L626.5,582.6 L627.0,581.8 L627.5,580.9 L628.0,580.0 L628.5,579.1 L629.0,578.2 L629.5,577.4 L630.0,576.5 L630.5,575.6 L631.0,574.8 L631.5,573.9 L632.0,573.0 L632.5,572.7 L633.0,572.4 L633.5,572.1 L634.0,571.8 L634.5,571.5 L635.0,571.2 L635.5,570.9 L636.0,570.6 L636.5,570.3 L637.0,570.0 L637.5,569.6 L638.0,569.2 L638.5,568.8 L639.0,568.4 L639.5,568.0 L640.0,567.6 L640.5,567.2 L641.0,566.8 L641.5,566.4 L642.0,566.0 L642.5,565.7 L643.0,565.3 L643.5,565.0 L644.0,564.7 L644.5,564.3 L645.0,564.0 L645.5,563.7 L646.0,563.3 L646.5,563.0 L647.0,562.7 L647.5,562.3 L648.0,562.0 L648.5,561.8 L649.0,561.5 L649.5,561.2 L650.0,561.0 L650.5,560.8 L651.0,560.5 L651.5,560.2 L652.0,560.0 L652.5,559.8 L653.0,559.5 L653.5,559.2 L654.0,559.0 L654.5,558.9 L655.0,558.8 L655.5,558.6 L656.0,558.5 L656.5,558.4 L657.0,558.3 L657.5,558.2 L658.0,558.1 L658.5,558.0 L659.0,557.8 L659.5,557.7 L660.0,557.6 L660.5,557.6 L661.0,557.6 L661.5,557.6 L662.0,557.6 L662.5,557.6 L663.0,557.6 L663.5,557.6 L664.0,557.6 L664.5,557.6 L665.0,557.6 L665.5,557.6 L666.0,557.6 L666.5,557.6 L667.0,557.6 L667.5,557.6 L668.0,557.6 L668.5,557.6 L669.0,557.6 L669.5,557.6 L670.0,557.6 L670.5,557.6 L671.0,557.6 L671.5,557.6 L672.0,557.6 L672.5,557.5 L673.0,557.4 L673.5,557.3 L674.0,557.3 L674.5,557.2 L675.0,557.1 L675.5,557.0 L676.0,556.9 L676.5,556.8 L677.0,556.7 L677.5,556.7 L678.0,556.6 L678.5,556.5 L679.0,556.4 L679.5,556.4 L680.0,556.3 L680.5,556.3 L681.0,556.3 L681.5,556.3 L682.0,556.2 L682.5,556.2 L683.0,556.2 L683.5,556.1 L684.0,556.1 L684.5,556.1 L685.0,556.1 L685.5,556.0 L686.0,556.0 L686.5,556.1 L687.0,556.3 L687.5,556.4 L688.0,556.5 L688.5,556.7 L689.0,556.8 L689.5,556.9 L690.0,557.1 L690.5,557.2 L691.0,557.3 L691.0,557.4 L690.5,557.3 L690.0,557.3 L689.5,557.3 L689.0,557.2 L688.5,557.2 L688.0,557.1 L687.5,557.1 L687.0,557.1 L686.5,557.0 L686.0,557.0 L685.5,557.0 L685.0,557.1 L684.5,557.1 L684.0,557.2 L683.5,557.2 L683.0,557.3 L682.5,557.3 L682.0,557.3 L681.5,557.4 L681.0,557.4 L680.5,557.5 L680.0,557.5 L679.5,557.6 L679.0,557.6 L678.5,557.7 L678.0,557.7 L677.5,557.8 L677.0,557.8 L676.5,557.9 L676.0,557.9 L675.5,558.0 L675.0,558.1 L674.5,558.1 L674.0,558.2 L673.5,558.2 L673.0,558.3 L672.5,558.3 L672.0,558.4 L671.5,558.5 L671.0,558.6 L670.5,558.7 L670.0,558.8 L669.5,558.9 L669.0,559.0 L668.5,559.1 L668.0,559.2 L667.5,559.3 L667.0,559.4 L666.5,559.5 L666.0,559.6 L665.5,559.8 L665.0,560.0 L664.5,560.2 L664.0,560.4 L663.5,560.6 L663.0,560.8 L662.5,561.0 L662.0,561.2 L661.5,561.4 L661.0,561.6 L660.5,561.8 L660.0,562.0 L659.5,562.3 L659.0,562.6 L658.5,562.9 L658.0,563.2 L657.5,563.5 L657.0,563.8 L656.5,564.1 L656.0,564.4 L655.5,564.7 L655.0,565.0 L654.5,565.3 L654.0,565.6 L653.5,566.0 L653.0,566.3 L652.5,566.7 L652.0,567.1 L651.5,567.4 L651.0,567.8 L650.5,568.2 L650.0,568.5 L649.5,568.9 L649.0,569.3 L648.5,569.6 L648.0,570.0 L647.5,570.4 L647.0,570.8 L646.5,571.2 L646.0,571.7 L645.5,572.1 L645.0,572.5 L644.5,572.9 L644.0,573.3 L643.5,573.8 L643.0,574.2 L642.5,574.6 L642.0,575.0 L641.5,575.5 L641.0,576.0 L640.5,576.5 L640.0,577.0 L639.5,577.5 L639.0,578.0 L638.5,578.5 L638.0,579.0 L637.5,579.5 L637.0,580.0 L636.5,580.5 L636.0,581.0 L635.5,581.6 L635.0,582.2 L634.5,582.8 L634.0,583.4 L633.5,584.0 L633.0,584.6 L632.5,585.2 L632.0,585.8 L631.5,586.4 L631.0,587.0 L630.5,587.9 L630.0,588.8 L629.5,589.6 L629.0,590.5 L628.5,591.4 L628.0,592.2 L627.5,593.1 L627.0,594.0 L626.5,640.0 L626.0,640.0 L625.5,640.0 L625.0,640.0 L624.5,640.0 L624.0,640.0 L623.5,640.0 L623.0,640.0 L622.5,640.0 L622.0,640.0 L621.5,640.0 L621.0,640.0 L620.5,640.0 L620.0,640.0ZM703.0,557.0 L703.5,557.1 L704.0,557.2 L704.5,557.3 L705.0,557.4 L705.0,557.4 L704.5,557.4 L704.0,557.3 L703.5,557.2 L703.0,557.1ZM712.0,557.7 L712.5,557.5 L713.0,557.4 L713.5,557.2 L714.0,557.0 L714.5,556.6 L715.0,556.2 L715.5,555.8 L716.0,555.4 L716.5,555.0 L717.0,554.6 L717.5,554.2 L718.0,553.8 L718.5,553.4 L719.0,553.0 L719.5,552.4 L720.0,551.8 L720.5,551.1 L721.0,550.5 L721.5,549.9 L722.0,549.2 L722.5,548.6 L723.0,548.0 L723.5,547.7 L724.0,547.4 L724.5,547.1 L725.0,546.8 L725.5,546.5 L726.0,546.2 L726.5,545.9 L727.0,545.6 L727.5,545.3 L728.0,545.0 L728.5,544.8 L729.0,544.6 L729.5,544.4 L730.0,544.2 L730.5,544.0 L731.0,543.8 L731.5,543.6 L732.0,543.4 L732.5,543.2 L733.0,543.0 L733.5,542.9 L734.0,542.9 L734.5,542.8 L735.0,542.8 L735.5,542.7 L736.0,542.6 L736.5,542.6 L737.0,542.5 L737.5,542.5 L738.0,542.4 L738.5,542.3 L739.0,542.2 L739.5,542.1 L740.0,542.0 L740.5,541.8 L741.0,541.7 L741.5,541.6 L742.0,542.0 L742.5,542.5 L743.0,543.0 L743.5,543.5 L744.0,544.0 L744.0,544.1 L743.5,543.9 L743.0,543.6 L742.5,543.7 L742.0,543.9 L741.5,544.0 L741.0,544.2 L740.5,544.3 L740.0,544.4 L739.5,544.6 L739.0,544.7 L738.5,544.9 L738.0,545.0 L737.5,545.2 L737.0,545.5 L736.5,545.8 L736.0,546.0 L735.5,546.2 L735.0,546.5 L734.5,546.8 L734.0,547.0 L733.5,547.2 L733.0,547.5 L732.5,547.8 L732.0,548.0 L731.5,548.3 L731.0,548.6 L730.5,548.9 L730.0,549.2 L729.5,549.5 L729.0,549.8 L728.5,550.1 L728.0,550.4 L727.5,550.7 L727.0,551.0 L726.5,551.3 L726.0,551.6 L725.5,551.9 L725.0,552.3 L724.5,552.6 L724.0,552.9 L723.5,553.3 L723.0,553.6 L722.5,553.9 L722.0,554.3 L721.5,554.6 L721.0,554.9 L720.5,555.3 L720.0,555.6 L719.5,555.8 L719.0,556.0 L718.5,556.2 L718.0,556.4 L717.5,556.6 L717.0,556.8 L716.5,557.0 L716.0,557.2 L715.5,557.4 L715.0,557.6 L714.5,557.6 L714.0,557.7 L713.5,557.7 L713.0,557.7 L712.5,557.8 L712.0,557.8ZM754.0,546.0 L754.5,545.5 L755.0,544.9 L755.5,544.4 L756.0,543.8 L756.5,543.2 L757.0,542.7 L757.5,542.1 L758.0,541.6 L758.5,541.5 L759.0,541.3 L759.5,541.1 L760.0,541.0 L760.5,540.9 L761.0,540.7 L761.5,540.5 L762.0,540.4 L762.5,540.4 L763.0,540.5 L763.5,540.5 L764.0,540.5 L764.5,540.5 L765.0,540.5 L765.5,540.6 L766.0,540.6 L766.5,540.9 L767.0,541.2 L767.5,541.5 L768.0,541.8 L768.5,542.1 L769.0,542.4 L769.5,542.7 L770.0,543.0 L770.5,543.1 L771.0,543.2 L771.5,543.3 L771.5,543.4 L771.0,543.3 L770.5,543.2 L770.0,543.2 L769.5,543.1 L769.0,543.1 L768.5,543.0 L768.0,543.0 L767.5,543.0 L767.0,543.1 L766.5,543.1 L766.0,543.2 L765.5,543.2 L765.0,543.3 L764.5,543.4 L764.0,543.4 L763.5,543.5 L763.0,543.5 L762.5,543.6 L762.0,543.6 L761.5,543.8 L761.0,543.9 L760.5,544.1 L760.0,544.3 L759.5,544.4 L759.0,544.6 L758.5,544.8 L758.0,544.9 L757.5,545.1 L757.0,545.3 L756.5,545.4 L756.0,545.6 L755.5,545.7 L755.0,545.9 L754.5,546.0 L754.0,546.2ZM829.0,577.4 L829.5,575.5 L830.0,573.7 L830.5,571.8 L831.0,570.0 L831.5,568.3 L832.0,566.7 L832.5,565.0 L833.0,563.3 L833.5,561.7 L834.0,560.0 L834.5,559.4 L835.0,558.8 L835.5,558.1 L836.0,557.5 L836.5,556.9 L837.0,556.2 L837.5,555.6 L838.0,555.0 L838.5,554.7 L839.0,554.3 L839.5,554.0 L840.0,553.7 L840.5,553.3 L841.0,553.0 L841.5,553.2 L842.0,553.5 L842.5,553.8 L843.0,554.0 L843.5,554.2 L844.0,554.5 L844.5,554.8 L845.0,555.0 L845.5,555.8 L846.0,556.5 L846.5,557.2 L847.0,558.0 L847.5,558.8 L848.0,559.5 L848.5,560.2 L849.0,561.0 L849.0,561.0 L848.5,560.7 L848.0,560.4 L847.5,560.5 L847.0,560.5 L846.5,560.6 L846.0,560.7 L845.5,560.8 L845.0,560.9 L844.5,560.9 L844.0,561.0 L843.5,561.4 L843.0,561.8 L842.5,562.1 L842.0,562.5 L841.5,562.9 L841.0,563.2 L840.5,563.6 L840.0,564.0 L839.5,564.6 L839.0,565.2 L838.5,565.9 L838.0,566.5 L837.5,567.1 L837.0,567.8 L836.5,568.4 L836.0,569.0 L835.5,569.8 L835.0,570.5 L834.5,571.2 L834.0,572.0 L833.5,572.8 L833.0,573.5 L832.5,574.2 L832.0,575.0 L831.5,575.5 L831.0,576.0 L830.5,576.5 L830.0,577.0 L829.5,577.5 L829.0,578.0ZM906.5,580.4 L907.0,579.8 L907.5,579.1 L908.0,578.5 L908.5,577.9 L909.0,577.2 L909.5,576.6 L910.0,576.0 L910.5,575.6 L911.0,575.2 L911.5,574.8 L912.0,574.4 L912.5,574.0 L913.0,573.6 L913.5,573.2 L914.0,572.8 L914.5,572.4 L915.0,572.0 L915.5,571.3 L916.0,570.6 L916.5,569.9 L917.0,569.2 L917.5,568.5 L918.0,567.8 L918.5,567.1 L919.0,566.4 L919.5,565.7 L920.0,565.0 L920.5,564.5 L921.0,563.9 L921.5,563.4 L922.0,562.8 L922.5,562.3 L923.0,561.8 L923.5,561.2 L924.0,560.7 L924.5,560.1 L925.0,559.6 L925.5,559.4 L926.0,559.1 L926.5,558.9 L927.0,558.6 L927.5,558.4 L928.0,558.1 L928.5,557.9 L929.0,557.6 L929.5,557.7 L930.0,557.8 L930.5,557.9 L931.0,558.0 L931.5,558.1 L932.0,558.2 L932.5,558.3 L933.0,558.4 L933.5,558.6 L934.0,558.7 L934.5,558.9 L935.0,559.0 L935.5,559.2 L936.0,559.4 L936.5,559.5 L937.0,559.7 L937.5,559.8 L938.0,560.0 L938.5,559.5 L939.0,559.0 L939.5,558.5 L940.0,558.0 L940.5,557.5 L941.0,557.0 L941.5,556.5 L942.0,556.0 L942.5,555.7 L943.0,555.3 L943.5,555.0 L944.0,554.7 L944.5,554.3 L945.0,554.0 L945.5,554.2 L946.0,554.3 L946.5,554.5 L947.0,554.7 L947.5,554.8 L948.0,555.0 L948.5,555.6 L949.0,556.1 L949.5,556.7 L950.0,557.3 L950.0,557.7 L949.5,557.7 L949.0,557.8 L948.5,557.8 L948.0,557.8 L947.5,557.9 L947.0,557.9 L946.5,558.0 L946.0,558.0 L945.5,558.2 L945.0,558.4 L944.5,558.6 L944.0,558.8 L943.5,559.0 L943.0,559.2 L942.5,559.4 L942.0,559.6 L941.5,559.8 L941.0,560.0 L940.5,560.2 L940.0,560.4 L939.5,560.5 L939.0,560.7 L938.5,560.8 L938.0,560.9 L937.5,561.1 L937.0,561.2 L936.5,561.3 L936.0,561.5 L935.5,561.6 L935.0,561.7 L934.5,561.9 L934.0,562.0 L933.5,562.2 L933.0,562.5 L932.5,562.8 L932.0,563.0 L931.5,563.2 L931.0,563.5 L930.5,563.8 L930.0,564.0 L929.5,564.2 L929.0,564.5 L928.5,564.8 L928.0,565.0 L927.5,565.4 L927.0,565.8 L926.5,566.2 L926.0,566.7 L925.5,567.1 L925.0,567.5 L924.5,567.9 L924.0,568.3 L923.5,568.8 L923.0,569.2 L922.5,569.6 L922.0,570.0 L921.5,570.5 L921.0,571.0 L920.5,571.5 L920.0,572.0 L919.5,572.5 L919.0,573.0 L918.5,573.5 L918.0,574.0 L917.5,574.5 L917.0,575.0 L916.5,575.5 L916.0,576.0 L915.5,576.3 L915.0,576.6 L914.5,576.9 L914.0,577.2 L913.5,577.5 L913.0,577.8 L912.5,578.1 L912.0,578.4 L911.5,578.7 L911.0,579.0 L910.5,579.3 L910.0,579.6 L909.5,579.7 L909.0,579.9 L908.5,580.0 L908.0,580.2 L907.5,580.3 L907.0,580.4 L906.5,580.6ZM962.5,559.7 L963.0,559.4 L963.5,559.2 L964.0,559.0 L964.5,558.7 L965.0,558.5 L965.5,558.2 L966.0,558.0 L966.5,557.2 L967.0,556.3 L967.5,555.5 L968.0,554.7 L968.5,553.8 L969.0,553.0 L969.5,552.2 L970.0,551.3 L970.5,550.5 L971.0,549.7 L971.5,548.8 L972.0,548.0 L972.5,547.6 L973.0,547.2 L973.5,546.8 L974.0,546.4 L974.5,546.0 L975.0,545.6 L975.5,545.5 L976.0,545.4 L976.5,545.3 L977.0,545.2 L977.5,545.1 L978.0,545.0 L978.5,544.9 L979.0,544.8 L979.5,544.7 L980.0,544.6 L980.5,544.6 L981.0,544.7 L981.5,544.7 L982.0,544.8 L982.5,544.8 L983.0,544.8 L983.5,544.9 L984.0,544.9 L984.5,545.0 L985.0,545.0 L985.5,545.1 L986.0,545.2 L986.5,545.4 L987.0,545.5 L987.5,545.6 L988.0,545.8 L988.5,545.9 L989.0,546.0 L989.5,546.7 L989.5,546.8 L989.0,546.9 L988.5,546.9 L988.0,547.0 L987.5,547.1 L987.0,547.3 L986.5,547.4 L986.0,547.6 L985.5,547.7 L985.0,547.8 L984.5,548.0 L984.0,548.1 L983.5,548.3 L983.0,548.4 L982.5,548.7 L982.0,548.9 L981.5,549.2 L981.0,549.4 L980.5,549.7 L980.0,550.0 L979.5,550.2 L979.0,550.5 L978.5,550.7 L978.0,551.0 L977.5,551.4 L977.0,551.8 L976.5,552.2 L976.0,552.6 L975.5,553.0 L975.0,553.4 L974.5,553.8 L974.0,554.2 L973.5,554.6 L973.0,555.0 L972.5,555.3 L972.0,555.7 L971.5,556.0 L971.0,556.4 L970.5,556.7 L970.0,557.0 L969.5,557.4 L969.0,557.7 L968.5,558.1 L968.0,558.4 L967.5,558.6 L967.0,558.7 L966.5,558.9 L966.0,559.0 L965.5,559.2 L965.0,559.4 L964.5,559.5 L964.0,559.7 L963.5,559.8 L963.0,560.0 L962.5,559.9ZM1036.5,557.4 L1037.0,557.3 L1037.5,557.3 L1038.0,557.3 L1038.5,557.2 L1039.0,557.2 L1039.5,557.2 L1040.0,557.1 L1040.5,557.1 L1041.0,557.1 L1041.5,557.0 L1042.0,557.0 L1042.5,557.1 L1042.5,557.1 L1042.0,557.1 L1041.5,557.1 L1041.0,557.1 L1040.5,557.2 L1040.0,557.2 L1039.5,557.2 L1039.0,557.2 L1038.5,557.3 L1038.0,557.3 L1037.5,557.3 L1037.0,557.4 L1036.5,557.4ZM1082.0,560.0 L1082.5,559.8 L1083.0,559.6 L1083.5,559.1 L1084.0,558.7 L1084.5,558.2 L1085.0,557.8 L1085.5,557.4 L1086.0,556.9 L1086.5,556.5 L1087.0,556.0 L1087.5,555.0 L1088.0,554.0 L1088.5,553.0 L1089.0,552.0 L1089.5,551.0 L1090.0,550.0 L1090.5,549.2 L1091.0,548.5 L1091.5,547.8 L1092.0,547.0 L1092.5,546.2 L1093.0,545.5 L1093.5,544.8 L1094.0,544.0 L1094.5,543.6 L1095.0,543.2 L1095.5,542.9 L1096.0,542.5 L1096.5,542.1 L1097.0,541.8 L1097.5,541.4 L1098.0,541.0 L1098.5,540.9 L1099.0,540.9 L1099.5,540.8 L1100.0,540.8 L1100.5,540.7 L1101.0,540.6 L1101.5,540.6 L1102.0,540.5 L1102.5,540.5 L1103.0,540.4 L1103.5,540.4 L1104.0,540.4 L1104.5,540.5 L1105.0,540.5 L1105.5,540.5 L1106.0,540.5 L1106.5,540.5 L1107.0,540.6 L1107.5,540.6 L1108.0,540.6 L1108.5,540.6 L1109.0,540.7 L1109.5,540.8 L1110.0,540.8 L1110.5,540.9 L1111.0,540.9 L1111.5,541.0 L1112.0,541.0 L1112.5,540.4 L1113.0,539.8 L1113.5,539.1 L1114.0,538.5 L1114.5,537.9 L1115.0,537.2 L1115.5,536.6 L1116.0,536.0 L1116.5,535.4 L1117.0,534.8 L1117.5,534.1 L1118.0,533.5 L1118.5,532.9 L1119.0,532.2 L1119.5,531.6 L1120.0,531.0 L1120.5,530.5 L1121.0,530.0 L1121.5,529.5 L1122.0,529.0 L1122.5,528.5 L1123.0,528.0 L1123.5,527.5 L1124.0,527.0 L1124.5,526.7 L1125.0,526.4 L1125.5,526.1 L1126.0,525.8 L1126.5,525.5 L1127.0,525.2 L1127.5,524.9 L1128.0,524.6 L1128.5,524.3 L1129.0,524.0 L1129.5,523.8 L1130.0,523.6 L1130.5,523.4 L1131.0,523.2 L1131.5,523.0 L1132.0,522.8 L1132.5,522.7 L1133.0,523.2 L1133.5,523.6 L1134.0,524.1 L1134.5,524.6 L1135.0,525.1 L1135.5,525.5 L1136.0,526.0 L1136.5,526.8 L1136.5,527.1 L1136.0,527.1 L1135.5,527.2 L1135.0,527.3 L1134.5,527.4 L1134.0,527.5 L1133.5,527.5 L1133.0,527.6 L1132.5,527.9 L1132.0,528.2 L1131.5,528.4 L1131.0,528.7 L1130.5,529.0 L1130.0,529.3 L1129.5,529.6 L1129.0,529.8 L1128.5,530.1 L1128.0,530.4 L1127.5,530.8 L1127.0,531.2 L1126.5,531.6 L1126.0,532.0 L1125.5,532.4 L1125.0,532.8 L1124.5,533.2 L1124.0,533.6 L1123.5,534.0 L1123.0,534.4 L1122.5,534.8 L1122.0,535.2 L1121.5,535.6 L1121.0,536.0 L1120.5,536.4 L1120.0,536.8 L1119.5,537.2 L1119.0,537.6 L1118.5,538.0 L1118.0,538.4 L1117.5,538.8 L1117.0,539.1 L1116.5,539.5 L1116.0,539.8 L1115.5,540.2 L1115.0,540.6 L1114.5,540.9 L1114.0,541.3 L1113.5,541.6 L1113.0,542.0 L1112.5,542.1 L1112.0,542.2 L1111.5,542.3 L1111.0,542.4 L1110.5,542.5 L1110.0,542.6 L1109.5,542.7 L1109.0,542.8 L1108.5,542.9 L1108.0,543.0 L1107.5,543.3 L1107.0,543.5 L1106.5,543.8 L1106.0,544.0 L1105.5,544.3 L1105.0,544.6 L1104.5,544.8 L1104.0,545.1 L1103.5,545.3 L1103.0,545.6 L1102.5,545.9 L1102.0,546.2 L1101.5,546.4 L1101.0,546.7 L1100.5,547.0 L1100.0,547.3 L1099.5,547.6 L1099.0,547.8 L1098.5,548.1 L1098.0,548.4 L1097.5,548.9 L1097.0,549.3 L1096.5,549.8 L1096.0,550.2 L1095.5,550.7 L1095.0,551.2 L1094.5,551.6 L1094.0,552.1 L1093.5,552.5 L1093.0,553.0 L1092.5,553.5 L1092.0,553.9 L1091.5,554.4 L1091.0,554.8 L1090.5,555.3 L1090.0,555.8 L1089.5,556.2 L1089.0,556.7 L1088.5,557.1 L1088.0,557.6 L1087.5,557.8 L1087.0,558.1 L1086.5,558.3 L1086.0,558.6 L1085.5,558.8 L1085.0,559.0 L1084.5,559.3 L1084.0,559.5 L1083.5,559.8 L1083.0,560.0 L1082.5,560.0 L1082.0,560.0Z" fill="#e9e9e9" stroke="none"/>
<path d="M50.5,536.9 L51.0,537.3 L51.5,537.6 L52.0,538.0 L52.5,538.2 L53.0,538.3 L53.5,538.5 L54.0,538.6 L54.5,538.8 L55.0,539.0 L55.5,539.1 L56.0,539.3 L56.5,539.4 L57.0,539.6 L57.5,539.6 L58.0,539.7 L58.5,539.8 L59.0,539.8 L59.5,539.9 L60.0,539.9 L60.5,540.0 L61.0,540.0 L61.5,540.4 L62.0,540.8 L62.5,541.2 L63.0,541.6 L63.5,542.0 L64.0,542.4 L64.5,542.8 L65.0,543.2 L65.5,543.6 L66.0,544.0 L66.5,544.3 L67.0,544.6 L67.5,544.9 L68.0,545.2 L68.5,545.5 L69.0,545.8 L69.5,546.1 L70.0,546.4 L70.5,546.7 L71.0,547.0 L71.5,546.9 L72.0,546.8 L72.5,546.6 L73.0,546.5 L73.5,546.4 L74.0,546.2 L74.5,546.1 L75.0,546.0 L75.5,546.3 L76.0,546.7 L76.5,547.0 L77.0,547.3 L77.5,547.7 L78.0,548.0 L78.5,549.7 L79.0,551.3 L79.5,553.0 L80.0,554.7 L80.5,556.3 L81.0,558.0 L81.5,560.0 L82.0,562.0 L82.5,564.0 L83.0,566.0 L83.5,568.0 L84.0,570.0 L84.5,571.4 L85.0,572.8 L85.5,574.1 L86.0,575.5 L86.5,576.9 L87.0,578.2 L87.5,579.6 L88.0,581.0 L88.5,581.8 L89.0,582.5 L89.5,583.2 L90.0,584.0 L90.5,584.8 L91.0,585.5 L91.5,586.2 L92.0,587.0 L92.5,588.0 L93.0,589.0 L93.5,590.0 L94.0,591.0 L94.5,592.0 L95.0,593.0 L95.5,594.0 L96.0,595.0 L96.5,640.0 L97.0,640.0 L97.5,640.0 L98.0,640.0 L98.5,640.0 L99.0,640.0 L99.5,640.0 L100.0,640.0 L100.5,640.0 L101.0,640.0 L101.5,640.0 L102.0,640.0 L102.5,640.0 L103.0,640.0 L103.5,640.0 L104.0,640.0 L104.5,640.0 L105.0,640.0 L105.5,640.0 L106.0,640.0 L106.5,640.0 L107.0,640.0 L107.5,640.0 L108.0,640.0 L108.5,640.0 L109.0,640.0 L109.5,640.0 L110.0,640.0 L110.5,640.0 L111.0,640.0 L111.5,640.0 L112.0,640.0 L112.5,640.0 L113.0,640.0 L113.0,592.0 L112.5,591.4 L112.0,590.8 L111.5,590.1 L111.0,589.5 L110.5,588.9 L110.0,588.2 L109.5,587.6 L109.0,587.0 L108.5,586.8 L108.0,586.5 L107.5,586.2 L107.0,586.0 L106.5,585.8 L106.0,585.5 L105.5,585.2 L105.0,585.0 L104.5,584.6 L104.0,584.2 L103.5,583.8 L103.0,583.4 L102.5,583.0 L102.0,582.6 L101.5,582.2 L101.0,581.8 L100.5,581.4 L100.0,581.0 L99.5,580.4 L99.0,579.8 L98.5,579.2 L98.0,578.7 L97.5,578.1 L97.0,577.5 L96.5,576.9 L96.0,576.3 L95.5,575.8 L95.0,575.2 L94.5,574.6 L94.0,574.0 L93.5,573.2 L93.0,572.4 L92.5,571.6 L92.0,570.8 L91.5,570.0 L91.0,569.2 L90.5,568.4 L90.0,567.6 L89.5,566.8 L89.0,566.0 L88.5,564.9 L88.0,563.8 L87.5,562.7 L87.0,561.6 L86.5,560.5 L86.0,559.4 L85.5,558.3 L85.0,557.2 L84.5,556.1 L84.0,555.0 L83.5,554.0 L83.0,553.0 L82.5,552.0 L82.0,551.0 L81.5,550.0 L81.0,549.0 L80.5,548.0 L80.0,547.0 L79.5,546.7 L79.0,546.3 L78.5,546.0 L78.0,545.7 L77.5,545.3 L77.0,545.0 L76.5,544.9 L76.0,544.8 L75.5,544.7 L75.0,544.6 L74.5,544.5 L74.0,544.4 L73.5,544.3 L73.0,544.2 L72.5,544.1 L72.0,544.0 L71.5,543.8 L71.0,543.5 L70.5,543.2 L70.0,543.0 L69.5,542.8 L69.0,542.5 L68.5,542.2 L68.0,542.0 L67.5,541.8 L67.0,541.5 L66.5,541.2 L66.0,541.0 L65.5,540.8 L65.0,540.7 L64.5,540.5 L64.0,540.3 L63.5,540.2 L63.0,540.0 L62.5,539.8 L62.0,539.7 L61.5,539.5 L61.0,539.3 L60.5,539.2 L60.0,539.0 L59.5,538.9 L59.0,538.8 L58.5,538.6 L58.0,538.5 L57.5,538.4 L57.0,538.3 L56.5,538.2 L56.0,538.1 L55.5,538.0 L55.0,537.8 L54.5,537.7 L54.0,537.6 L53.5,537.5 L53.0,537.4 L52.5,537.3 L52.0,537.2 L51.5,537.1 L51.0,537.0 L50.5,536.9ZM160.0,567.0 L160.5,567.3 L161.0,567.6 L161.5,567.9 L162.0,568.2 L162.5,568.5 L163.0,568.8 L163.5,569.1 L164.0,569.4 L164.5,569.7 L165.0,570.0 L165.5,570.3 L166.0,570.6 L166.5,570.9 L167.0,571.2 L167.5,571.5 L168.0,571.8 L168.5,572.1 L169.0,572.4 L169.5,572.7 L170.0,573.0 L170.5,573.9 L171.0,574.8 L171.5,575.6 L172.0,576.5 L172.5,577.4 L173.0,578.2 L173.5,579.1 L174.0,580.0 L174.5,580.5 L175.0,581.0 L175.5,581.5 L176.0,582.0 L176.5,582.5 L177.0,583.0 L177.5,583.5 L178.0,584.0 L178.5,584.0 L179.0,583.9 L179.5,583.9 L180.0,583.8 L180.5,583.8 L181.0,583.7 L181.5,583.6 L182.0,583.6 L182.5,583.9 L183.0,584.2 L183.5,584.5 L184.0,584.8 L184.5,585.1 L185.0,585.4 L185.5,585.7 L186.0,586.0 L186.5,586.2 L187.0,586.3 L187.5,586.5 L188.0,586.7 L188.5,586.8 L189.0,587.0 L189.5,587.8 L190.0,588.7 L190.5,589.5 L191.0,590.3 L191.5,591.2 L192.0,592.0 L192.5,640.0 L193.0,640.0 L193.5,640.0 L194.0,640.0 L194.5,640.0 L195.0,640.0 L195.5,640.0 L196.0,640.0 L196.5,640.0 L197.0,640.0 L197.5,640.0 L198.0,592.0 L198.5,591.2 L199.0,590.3 L199.0,589.0 L198.5,588.5 L198.0,588.0 L197.5,587.5 L197.0,587.0 L196.5,586.8 L196.0,586.7 L195.5,586.5 L195.0,586.3 L194.5,586.2 L194.0,586.0 L193.5,585.8 L193.0,585.5 L192.5,585.2 L192.0,585.0 L191.5,584.8 L191.0,584.5 L190.5,584.2 L190.0,584.0 L189.5,583.8 L189.0,583.5 L188.5,583.2 L188.0,583.0 L187.5,582.7 L187.0,582.3 L186.5,582.0 L186.0,581.7 L185.5,581.3 L185.0,581.0 L184.5,580.7 L184.0,580.3 L183.5,580.0 L183.0,579.7 L182.5,579.3 L182.0,579.0 L181.5,578.7 L181.0,578.3 L180.5,578.0 L180.0,577.7 L179.5,577.3 L179.0,577.0 L178.5,576.7 L178.0,576.3 L177.5,576.0 L177.0,575.7 L176.5,575.3 L176.0,575.0 L175.5,574.6 L175.0,574.2 L174.5,573.8 L174.0,573.3 L173.5,572.9 L173.0,572.5 L172.5,572.1 L172.0,571.7 L171.5,571.2 L171.0,570.8 L170.5,570.4 L170.0,570.0 L169.5,569.8 L169.0,569.7 L168.5,569.5 L168.0,569.3 L167.5,569.2 L167.0,569.0 L166.5,568.8 L166.0,568.7 L165.5,568.5 L165.0,568.3 L164.5,568.2 L164.0,568.0 L163.5,567.8 L163.0,567.7 L162.5,567.5 L162.0,567.4 L161.5,567.2 L161.0,567.0 L160.5,566.9 L160.0,566.7ZM240.5,573.0 L241.0,574.0 L241.5,576.2 L242.0,578.3 L242.5,580.5 L243.0,582.7 L243.5,584.8 L244.0,587.0 L244.5,589.2 L245.0,591.5 L245.5,593.8 L246.0,596.0 L246.5,640.0 L247.0,640.0 L247.5,640.0 L248.0,640.0 L248.5,640.0 L249.0,640.0 L249.5,640.0 L250.0,640.0 L250.5,640.0 L251.0,640.0 L251.5,640.0 L252.0,640.0 L252.5,640.0 L253.0,640.0 L253.0,594.0 L252.5,592.8 L252.0,591.7 L251.5,590.5 L251.0,589.3 L250.5,588.2 L250.0,587.0 L249.5,586.2 L249.0,585.3 L248.5,584.5 L248.0,583.7 L247.5,582.8 L247.0,582.0 L246.5,581.0 L246.0,580.0 L245.5,579.0 L245.0,578.0 L244.5,577.0 L244.0,576.0 L243.5,575.4 L243.0,574.8 L242.5,574.2 L242.0,573.6 L241.5,573.0 L241.0,572.4 L240.5,572.5ZM381.5,514.3 L382.0,514.6 L382.5,514.9 L383.0,515.2 L383.5,515.5 L384.0,515.8 L384.5,516.1 L385.0,516.4 L385.5,516.7 L386.0,517.0 L386.5,517.4 L387.0,517.8 L387.5,518.2 L388.0,518.6 L388.5,519.0 L389.0,519.4 L389.5,519.8 L390.0,520.2 L390.5,520.6 L391.0,521.0 L391.5,521.9 L392.0,522.8 L392.5,523.6 L393.0,524.5 L393.5,525.4 L394.0,526.2 L394.5,527.1 L395.0,528.0 L395.5,528.8 L396.0,529.7 L396.5,530.5 L397.0,531.3 L397.5,532.2 L398.0,533.0 L398.5,533.3 L399.0,533.7 L399.5,534.0 L400.0,534.3 L400.5,534.7 L401.0,535.0 L401.5,535.7 L402.0,536.3 L402.5,537.0 L403.0,537.7 L403.5,538.3 L404.0,539.0 L404.5,538.8 L405.0,538.7 L405.5,538.5 L406.0,538.3 L406.5,538.2 L407.0,538.0 L407.5,537.2 L408.0,536.3 L408.5,535.5 L409.0,534.7 L409.5,533.8 L410.0,533.0 L410.5,532.5 L411.0,532.0 L411.0,531.8 L410.5,531.9 L410.0,532.0 L409.5,531.8 L409.0,531.7 L408.5,531.5 L408.0,531.4 L407.5,531.2 L407.0,531.0 L406.5,530.9 L406.0,530.7 L405.5,530.6 L405.0,530.4 L404.5,530.0 L404.0,529.5 L403.5,529.1 L403.0,528.6 L402.5,528.2 L402.0,527.8 L401.5,527.3 L401.0,526.9 L400.5,526.4 L400.0,526.0 L399.5,525.5 L399.0,525.0 L398.5,524.5 L398.0,524.0 L397.5,523.5 L397.0,523.0 L396.5,522.5 L396.0,522.0 L395.5,521.5 L395.0,521.0 L394.5,520.5 L394.0,520.1 L393.5,519.6 L393.0,519.2 L392.5,518.7 L392.0,518.2 L391.5,517.8 L391.0,517.3 L390.5,516.9 L390.0,516.4 L389.5,516.2 L389.0,516.0 L388.5,515.9 L388.0,515.7 L387.5,515.5 L387.0,515.3 L386.5,515.1 L386.0,515.0 L385.5,514.8 L385.0,514.6 L384.5,514.5 L384.0,514.5 L383.5,514.4 L383.0,514.4 L382.5,514.3 L382.0,514.2 L381.5,514.2ZM423.5,529.8 L424.0,530.5 L424.5,531.2 L425.0,532.0 L425.5,532.8 L426.0,533.5 L426.5,534.2 L427.0,535.0 L427.5,536.2 L428.0,537.5 L428.5,538.8 L429.0,540.0 L429.5,541.2 L430.0,542.5 L430.5,543.8 L431.0,545.0 L431.5,546.5 L432.0,548.0 L432.5,549.5 L433.0,551.0 L433.5,552.5 L434.0,554.0 L434.5,555.5 L435.0,557.0 L435.5,558.6 L436.0,560.2 L436.5,561.9 L437.0,563.5 L437.5,565.1 L438.0,566.8 L438.5,568.4 L439.0,570.0 L439.5,571.2 L440.0,572.5 L440.5,573.8 L441.0,575.0 L441.5,576.2 L442.0,577.5 L442.5,578.8 L443.0,580.0 L443.5,580.9 L444.0,581.8 L444.5,582.6 L445.0,583.5 L445.5,584.4 L446.0,585.2 L446.5,586.1 L447.0,587.0 L447.5,588.2 L448.0,589.3 L448.5,590.5 L449.0,591.7 L449.5,592.8 L450.0,594.0 L450.5,640.0 L451.0,640.0 L451.5,640.0 L452.0,640.0 L452.5,640.0 L453.0,640.0 L453.5,640.0 L454.0,640.0 L454.5,640.0 L455.0,640.0 L455.5,640.0 L456.0,594.0 L456.5,592.5 L457.0,591.0 L457.5,589.5 L458.0,588.0 L458.5,586.5 L459.0,585.0 L459.5,583.8 L460.0,582.5 L460.0,582.0 L459.5,582.5 L459.0,583.0 L458.5,583.5 L458.0,583.3 L457.5,582.9 L457.0,582.5 L456.5,582.1 L456.0,581.8 L455.5,581.4 L455.0,581.0 L454.5,580.4 L454.0,579.8 L453.5,579.1 L453.0,578.5 L452.5,577.9 L452.0,577.2 L451.5,576.6 L451.0,576.0 L450.5,575.0 L450.0,574.0 L449.5,573.0 L449.0,572.0 L448.5,571.0 L448.0,570.0 L447.5,569.0 L447.0,568.0 L446.5,567.0 L446.0,566.0 L445.5,564.7 L445.0,563.4 L444.5,562.1 L444.0,560.8 L443.5,559.5 L443.0,558.2 L442.5,556.9 L442.0,555.6 L441.5,554.3 L441.0,553.0 L440.5,551.9 L440.0,550.8 L439.5,549.7 L439.0,548.6 L438.5,547.5 L438.0,546.4 L437.5,545.3 L437.0,544.2 L436.5,543.1 L436.0,542.0 L435.5,541.2 L435.0,540.4 L434.5,539.6 L434.0,538.8 L433.5,538.0 L433.0,537.2 L432.5,536.4 L432.0,535.6 L431.5,534.8 L431.0,534.0 L430.5,533.6 L430.0,533.2 L429.5,532.8 L429.0,532.4 L428.5,532.0 L428.0,531.6 L427.5,531.2 L427.0,530.8 L426.5,530.4 L426.0,530.0 L425.5,529.9 L425.0,529.8 L424.5,529.7 L424.0,529.6 L423.5,529.5ZM503.0,556.5 L503.5,557.1 L504.0,557.8 L504.5,558.4 L505.0,559.0 L505.5,559.8 L506.0,560.6 L506.5,561.4 L507.0,562.2 L507.5,563.0 L508.0,563.8 L508.5,564.6 L509.0,565.4 L509.5,566.2 L510.0,567.0 L510.5,567.7 L511.0,568.4 L511.5,569.1 L512.0,569.8 L512.5,570.5 L513.0,571.2 L513.5,571.9 L514.0,572.6 L514.5,573.3 L515.0,574.0 L515.5,574.5 L516.0,575.0 L516.5,575.5 L517.0,576.0 L517.5,576.5 L518.0,577.0 L518.5,577.5 L519.0,578.0 L519.5,578.5 L520.0,579.0 L520.5,579.5 L521.0,579.9 L521.5,580.4 L522.0,580.8 L522.5,581.3 L523.0,581.8 L523.5,582.2 L524.0,582.7 L524.5,583.1 L525.0,583.6 L525.5,583.6 L526.0,583.7 L526.5,583.8 L527.0,583.8 L527.5,583.9 L528.0,583.9 L528.5,584.0 L529.0,584.0 L529.5,583.7 L530.0,583.4 L530.5,583.1 L531.0,582.8 L531.5,582.5 L532.0,582.2 L532.5,581.9 L533.0,581.6 L533.5,581.0 L534.0,580.5 L534.5,579.9 L535.0,579.3 L535.0,579.2 L534.5,579.3 L534.0,579.4 L533.5,579.5 L533.0,579.6 L532.5,579.5 L532.0,579.5 L531.5,579.4 L531.0,579.3 L530.5,579.2 L530.0,579.1 L529.5,579.1 L529.0,579.0 L528.5,578.7 L528.0,578.4 L527.5,578.1 L527.0,577.8 L526.5,577.5 L526.0,577.2 L525.5,576.9 L525.0,576.6 L524.5,576.3 L524.0,576.0 L523.5,575.5 L523.0,575.0 L522.5,574.5 L522.0,574.0 L521.5,573.5 L521.0,573.0 L520.5,572.5 L520.0,572.0 L519.5,571.5 L519.0,571.0 L518.5,570.4 L518.0,569.8 L517.5,569.2 L517.0,568.6 L516.5,568.0 L516.0,567.4 L515.5,566.8 L515.0,566.2 L514.5,565.6 L514.0,565.0 L513.5,564.4 L513.0,563.8 L512.5,563.2 L512.0,562.6 L511.5,562.0 L511.0,561.4 L510.5,560.8 L510.0,560.2 L509.5,559.6 L509.0,559.0 L508.5,558.7 L508.0,558.4 L507.5,558.0 L507.0,557.7 L506.5,557.4 L506.0,557.0 L505.5,556.7 L505.0,556.4 L504.5,556.4 L504.0,556.4 L503.5,556.4 L503.0,556.4ZM565.0,568.0 L565.5,568.8 L566.0,569.5 L566.5,570.2 L567.0,571.0 L567.5,571.8 L568.0,572.5 L568.5,573.2 L569.0,574.0 L569.5,574.8 L570.0,575.5 L570.5,576.2 L571.0,577.0 L571.5,577.8 L572.0,578.5 L572.5,579.2 L573.0,580.0 L573.5,580.6 L574.0,581.2 L574.5,581.9 L575.0,582.5 L575.5,583.1 L576.0,583.8 L576.5,584.4 L577.0,585.0 L577.5,585.2 L578.0,585.3 L578.5,585.5 L579.0,585.7 L579.5,585.8 L580.0,586.0 L580.5,585.8 L581.0,585.5 L581.5,585.2 L582.0,585.0 L582.5,584.8 L583.0,584.5 L583.5,584.2 L584.0,584.0 L584.5,583.6 L585.0,583.3 L585.5,582.9 L586.0,582.6 L586.0,582.4 L585.5,582.1 L585.0,581.8 L584.5,581.6 L584.0,581.3 L583.5,581.0 L583.0,580.7 L582.5,580.4 L582.0,580.2 L581.5,579.9 L581.0,579.6 L580.5,579.2 L580.0,578.8 L579.5,578.4 L579.0,578.0 L578.5,577.6 L578.0,577.2 L577.5,576.8 L577.0,576.4 L576.5,576.0 L576.0,575.6 L575.5,575.1 L575.0,574.7 L574.5,574.2 L574.0,573.8 L573.5,573.3 L573.0,572.8 L572.5,572.4 L572.0,571.9 L571.5,571.5 L571.0,571.0 L570.5,570.7 L570.0,570.4 L569.5,570.1 L569.0,569.8 L568.5,569.5 L568.0,569.2 L567.5,568.9 L567.0,568.6 L566.5,568.3 L566.0,568.0 L565.5,568.0 L565.0,567.9ZM599.0,582.7 L599.5,583.5 L600.0,584.3 L600.5,585.2 L601.0,586.0 L601.5,587.3 L602.0,588.7 L602.5,590.0 L603.0,591.3 L603.5,592.7 L604.0,594.0 L604.5,640.0 L605.0,640.0 L605.5,640.0 L606.0,640.0 L606.5,640.0 L607.0,640.0 L607.5,640.0 L608.0,640.0 L608.0,594.0 L607.5,593.1 L607.0,592.2 L606.5,591.4 L606.0,590.5 L605.5,589.6 L605.0,588.8 L604.5,587.9 L604.0,587.0 L603.5,586.5 L603.0,586.0 L602.5,585.5 L602.0,585.0 L601.5,584.5 L601.0,584.0 L600.5,583.5 L600.0,583.0 L599.5,582.8 L599.0,582.6ZM691.5,557.5 L692.0,557.6 L692.5,557.6 L693.0,557.7 L693.5,557.7 L694.0,557.8 L694.5,557.8 L695.0,557.8 L695.5,557.9 L696.0,557.9 L696.5,558.0 L697.0,558.0 L697.5,557.9 L698.0,557.8 L698.5,557.8 L699.0,557.7 L699.5,557.6 L700.0,557.5 L700.5,557.4 L701.0,557.3 L701.5,557.2 L702.0,557.2 L702.5,557.1 L702.5,557.1 L702.0,557.0 L701.5,557.0 L701.0,557.1 L700.5,557.1 L700.0,557.1 L699.5,557.2 L699.0,557.2 L698.5,557.3 L698.0,557.3 L697.5,557.3 L697.0,557.4 L696.5,557.4 L696.0,557.5 L695.5,557.5 L695.0,557.5 L694.5,557.6 L694.0,557.6 L693.5,557.6 L693.0,557.5 L692.5,557.5 L692.0,557.5 L691.5,557.4ZM706.0,557.6 L706.5,557.7 L707.0,557.8 L707.5,557.9 L708.0,558.0 L708.5,558.1 L709.0,558.2 L709.5,558.3 L710.0,558.4 L710.5,558.2 L711.0,558.0 L711.5,557.9 L711.5,557.8 L711.0,557.9 L710.5,557.9 L710.0,557.9 L709.5,558.0 L709.0,558.0 L708.5,557.9 L708.0,557.9 L707.5,557.8 L707.0,557.7 L706.5,557.6 L706.0,557.6ZM744.5,544.7 L745.0,545.3 L745.5,546.0 L746.0,546.7 L746.5,547.3 L747.0,548.0 L747.5,548.3 L748.0,548.6 L748.5,548.9 L749.0,549.2 L749.5,549.5 L750.0,549.8 L750.5,549.9 L751.0,549.3 L751.5,548.8 L752.0,548.2 L752.5,547.7 L753.0,547.1 L753.5,546.6 L753.5,546.3 L753.0,546.4 L752.5,546.6 L752.0,546.7 L751.5,546.9 L751.0,547.0 L750.5,546.8 L750.0,546.6 L749.5,546.5 L749.0,546.3 L748.5,546.1 L748.0,546.0 L747.5,545.8 L747.0,545.6 L746.5,545.4 L746.0,545.1 L745.5,544.9 L745.0,544.6 L744.5,544.4ZM772.5,543.5 L773.0,543.6 L773.5,543.7 L774.0,543.8 L774.5,543.9 L775.0,544.0 L775.5,544.4 L776.0,544.8 L776.5,545.1 L777.0,545.5 L777.5,545.9 L778.0,546.2 L778.5,546.6 L779.0,547.0 L779.5,547.9 L780.0,548.8 L780.5,549.6 L781.0,550.5 L781.5,551.4 L782.0,552.2 L782.5,553.1 L783.0,554.0 L783.5,554.5 L784.0,555.0 L784.5,555.5 L785.0,556.0 L785.5,556.5 L786.0,557.0 L786.5,557.5 L787.0,558.0 L787.5,558.2 L788.0,558.4 L788.5,558.6 L789.0,558.8 L789.5,559.0 L790.0,559.2 L790.5,559.4 L791.0,559.6 L791.5,559.8 L792.0,560.0 L792.5,560.2 L793.0,560.3 L793.5,560.5 L794.0,560.6 L794.5,560.8 L795.0,561.0 L795.5,561.1 L796.0,561.3 L796.5,561.4 L797.0,561.6 L797.5,561.9 L798.0,562.2 L798.5,562.5 L799.0,562.8 L799.5,563.1 L800.0,563.4 L800.5,563.7 L801.0,564.0 L801.5,564.6 L802.0,565.2 L802.5,565.9 L803.0,566.5 L803.5,567.1 L804.0,567.8 L804.5,568.4 L805.0,569.0 L805.5,569.8 L806.0,570.5 L806.5,571.2 L807.0,572.0 L807.5,572.8 L808.0,573.5 L808.5,574.2 L809.0,575.0 L809.5,575.4 L810.0,575.9 L810.5,576.3 L811.0,576.7 L811.5,577.1 L812.0,577.5 L812.5,578.0 L813.0,578.4 L813.5,578.6 L814.0,578.8 L814.5,579.0 L815.0,579.2 L815.5,579.4 L816.0,579.6 L816.5,579.8 L817.0,580.0 L817.5,580.2 L818.0,580.5 L818.5,580.8 L819.0,581.0 L819.5,581.2 L820.0,581.5 L820.5,581.8 L821.0,582.0 L821.5,581.8 L822.0,581.6 L822.5,581.4 L823.0,581.2 L823.5,581.0 L824.0,580.8 L824.5,580.6 L825.0,580.4 L825.5,580.3 L826.0,580.2 L826.5,580.0 L827.0,579.9 L827.5,579.8 L828.0,579.7 L828.5,579.2 L828.5,578.5 L828.0,579.0 L827.5,578.9 L827.0,578.7 L826.5,578.6 L826.0,578.4 L825.5,578.3 L825.0,578.2 L824.5,578.0 L824.0,577.9 L823.5,577.7 L823.0,577.6 L822.5,577.3 L822.0,577.1 L821.5,576.8 L821.0,576.6 L820.5,576.3 L820.0,576.0 L819.5,575.8 L819.0,575.5 L818.5,575.3 L818.0,575.0 L817.5,574.6 L817.0,574.2 L816.5,573.8 L816.0,573.4 L815.5,573.0 L815.0,572.6 L814.5,572.2 L814.0,571.8 L813.5,571.4 L813.0,571.0 L812.5,570.5 L812.0,570.0 L811.5,569.5 L811.0,569.0 L810.5,568.5 L810.0,568.0 L809.5,567.5 L809.0,567.0 L808.5,566.5 L808.0,566.0 L807.5,565.6 L807.0,565.1 L806.5,564.7 L806.0,564.2 L805.5,563.8 L805.0,563.4 L804.5,562.9 L804.0,562.5 L803.5,562.0 L803.0,561.6 L802.5,561.3 L802.0,561.0 L801.5,560.6 L801.0,560.3 L800.5,560.0 L800.0,559.7 L799.5,559.4 L799.0,559.0 L798.5,558.7 L798.0,558.4 L797.5,558.2 L797.0,557.9 L796.5,557.7 L796.0,557.4 L795.5,557.2 L795.0,557.0 L794.5,556.7 L794.0,556.5 L793.5,556.2 L793.0,556.0 L792.5,555.7 L792.0,555.4 L791.5,555.1 L791.0,554.8 L790.5,554.5 L790.0,554.2 L789.5,553.9 L789.0,553.6 L788.5,553.3 L788.0,553.0 L787.5,552.5 L787.0,552.1 L786.5,551.6 L786.0,551.2 L785.5,550.7 L785.0,550.2 L784.5,549.8 L784.0,549.3 L783.5,548.9 L783.0,548.4 L782.5,548.0 L782.0,547.5 L781.5,547.1 L781.0,546.7 L780.5,546.3 L780.0,545.9 L779.5,545.4 L779.0,545.0 L778.5,544.9 L778.0,544.7 L777.5,544.6 L777.0,544.4 L776.5,544.3 L776.0,544.2 L775.5,544.0 L775.0,543.9 L774.5,543.7 L774.0,543.6 L773.5,543.6 L773.0,543.5 L772.5,543.5ZM849.5,561.9 L850.0,562.8 L850.5,563.6 L851.0,564.5 L851.5,565.4 L852.0,566.2 L852.5,567.1 L853.0,568.0 L853.5,568.5 L854.0,569.0 L854.5,569.5 L855.0,570.0 L855.5,570.5 L856.0,571.0 L856.5,571.5 L857.0,572.0 L857.5,572.4 L858.0,572.8 L858.5,573.1 L859.0,573.5 L859.5,573.9 L860.0,574.2 L860.5,574.6 L861.0,575.0 L861.5,575.1 L862.0,575.2 L862.5,575.3 L863.0,575.4 L863.5,575.5 L864.0,575.6 L864.5,575.7 L865.0,575.8 L865.5,575.9 L866.0,576.0 L866.5,576.2 L867.0,576.3 L867.5,576.5 L868.0,576.6 L868.5,576.8 L869.0,577.0 L869.5,577.1 L870.0,577.3 L870.5,577.4 L871.0,577.6 L871.5,577.8 L872.0,578.0 L872.5,578.1 L873.0,578.3 L873.5,578.5 L874.0,578.6 L874.5,578.8 L875.0,579.0 L875.5,579.1 L876.0,579.2 L876.5,579.3 L877.0,579.4 L877.5,579.5 L878.0,579.6 L878.5,579.3 L879.0,579.1 L879.5,578.8 L880.0,578.5 L880.5,578.3 L881.0,578.0 L881.5,577.9 L882.0,577.8 L882.5,577.7 L883.0,577.6 L883.5,577.5 L884.0,577.4 L884.5,577.3 L885.0,577.2 L885.5,577.1 L885.5,577.0 L885.0,577.1 L884.5,577.1 L884.0,577.2 L883.5,577.2 L883.0,577.3 L882.5,577.4 L882.0,577.4 L881.5,577.5 L881.0,577.5 L880.5,577.6 L880.0,577.6 L879.5,577.4 L879.0,577.3 L878.5,577.1 L878.0,576.9 L877.5,576.8 L877.0,576.6 L876.5,576.4 L876.0,576.3 L875.5,576.1 L875.0,575.9 L874.5,575.8 L874.0,575.6 L873.5,575.4 L873.0,575.2 L872.5,575.0 L872.0,574.7 L871.5,574.5 L871.0,574.3 L870.5,574.1 L870.0,573.9 L869.5,573.6 L869.0,573.4 L868.5,573.2 L868.0,573.0 L867.5,572.8 L867.0,572.5 L866.5,572.2 L866.0,572.0 L865.5,571.8 L865.0,571.5 L864.5,571.2 L864.0,571.0 L863.5,570.8 L863.0,570.5 L862.5,570.2 L862.0,570.0 L861.5,569.7 L861.0,569.4 L860.5,569.1 L860.0,568.8 L859.5,568.5 L859.0,568.2 L858.5,567.9 L858.0,567.6 L857.5,567.3 L857.0,567.0 L856.5,566.6 L856.0,566.2 L855.5,565.8 L855.0,565.4 L854.5,565.0 L854.0,564.6 L853.5,564.2 L853.0,563.8 L852.5,563.4 L852.0,563.0 L851.5,562.7 L851.0,562.4 L850.5,562.0 L850.0,561.7 L849.5,561.4ZM886.5,577.1 L887.0,577.1 L887.5,577.2 L888.0,577.2 L888.5,577.3 L889.0,577.4 L889.5,577.4 L890.0,577.5 L890.5,577.5 L891.0,577.6 L891.5,577.7 L892.0,577.9 L892.5,578.0 L893.0,578.2 L893.5,578.3 L894.0,578.4 L894.5,578.6 L895.0,578.7 L895.5,578.9 L896.0,579.0 L896.5,579.5 L897.0,580.0 L897.5,580.5 L898.0,581.0 L898.5,581.5 L899.0,582.0 L899.5,582.5 L900.0,583.0 L900.5,583.3 L901.0,583.6 L901.5,583.9 L902.0,584.2 L902.5,584.3 L903.0,583.8 L903.5,583.4 L904.0,582.9 L904.5,582.4 L905.0,581.9 L905.5,581.5 L906.0,581.0 L906.0,580.7 L905.5,580.9 L905.0,581.0 L904.5,580.9 L904.0,580.8 L903.5,580.7 L903.0,580.6 L902.5,580.5 L902.0,580.4 L901.5,580.2 L901.0,580.0 L900.5,579.9 L900.0,579.7 L899.5,579.5 L899.0,579.4 L898.5,579.2 L898.0,579.0 L897.5,578.9 L897.0,578.8 L896.5,578.6 L896.0,578.5 L895.5,578.4 L895.0,578.3 L894.5,578.2 L894.0,578.1 L893.5,578.0 L893.0,577.8 L892.5,577.7 L892.0,577.6 L891.5,577.6 L891.0,577.5 L890.5,577.5 L890.0,577.4 L889.5,577.4 L889.0,577.3 L888.5,577.2 L888.0,577.2 L887.5,577.1 L887.0,577.1 L886.5,577.0ZM950.5,557.9 L951.0,558.5 L951.5,559.0 L952.0,559.6 L952.5,559.9 L953.0,560.1 L953.5,560.4 L954.0,560.6 L954.5,560.9 L955.0,561.1 L955.5,561.4 L956.0,561.6 L956.5,561.5 L957.0,561.4 L957.5,561.2 L958.0,561.1 L958.5,561.0 L959.0,560.9 L959.5,560.8 L960.0,560.6 L960.5,560.5 L961.0,560.4 L961.5,560.2 L962.0,559.9 L962.0,559.8 L961.5,559.8 L961.0,559.7 L960.5,559.6 L960.0,559.5 L959.5,559.4 L959.0,559.3 L958.5,559.2 L958.0,559.2 L957.5,559.1 L957.0,559.0 L956.5,558.9 L956.0,558.8 L955.5,558.6 L955.0,558.5 L954.5,558.4 L954.0,558.3 L953.5,558.2 L953.0,558.1 L952.5,558.0 L952.0,557.8 L951.5,557.7 L951.0,557.6 L950.5,557.6ZM990.0,547.3 L990.5,548.0 L991.0,548.7 L991.5,549.3 L992.0,550.0 L992.5,550.6 L993.0,551.2 L993.5,551.9 L994.0,552.5 L994.5,553.1 L995.0,553.8 L995.5,554.4 L996.0,555.0 L996.5,555.3 L997.0,555.6 L997.5,556.0 L998.0,556.3 L998.5,556.6 L999.0,557.0 L999.5,557.3 L1000.0,557.6 L1000.5,557.5 L1001.0,557.4 L1001.5,557.3 L1002.0,557.2 L1002.5,557.1 L1003.0,557.0 L1003.5,556.9 L1004.0,556.8 L1004.5,556.7 L1005.0,556.6 L1005.5,556.5 L1006.0,556.4 L1006.5,556.4 L1007.0,556.3 L1007.5,556.3 L1008.0,556.3 L1008.5,556.2 L1009.0,556.2 L1009.5,556.2 L1010.0,556.1 L1010.5,556.1 L1011.0,556.1 L1011.5,556.0 L1012.0,556.0 L1012.5,556.1 L1013.0,556.2 L1013.5,556.2 L1014.0,556.3 L1014.5,556.4 L1015.0,556.5 L1015.5,556.6 L1016.0,556.7 L1016.5,556.8 L1017.0,556.8 L1017.5,556.9 L1018.0,557.0 L1018.5,557.1 L1019.0,557.2 L1019.5,557.2 L1020.0,557.3 L1020.5,557.4 L1021.0,557.5 L1021.5,557.6 L1022.0,557.7 L1022.5,557.8 L1023.0,557.8 L1023.5,557.9 L1024.0,558.0 L1024.5,558.0 L1025.0,558.0 L1025.5,558.0 L1026.0,558.0 L1026.5,558.0 L1027.0,558.0 L1027.5,558.0 L1028.0,558.0 L1028.5,558.0 L1029.0,558.0 L1029.5,558.0 L1030.0,558.0 L1030.5,558.0 L1031.0,557.9 L1031.5,557.9 L1032.0,557.8 L1032.5,557.8 L1033.0,557.7 L1033.5,557.6 L1034.0,557.6 L1034.5,557.5 L1035.0,557.5 L1035.5,557.4 L1035.5,557.4 L1035.0,557.4 L1034.5,557.4 L1034.0,557.4 L1033.5,557.4 L1033.0,557.4 L1032.5,557.4 L1032.0,557.4 L1031.5,557.4 L1031.0,557.4 L1030.5,557.4 L1030.0,557.4 L1029.5,557.4 L1029.0,557.4 L1028.5,557.4 L1028.0,557.4 L1027.5,557.4 L1027.0,557.3 L1026.5,557.2 L1026.0,557.2 L1025.5,557.1 L1025.0,557.1 L1024.5,557.0 L1024.0,557.0 L1023.5,557.0 L1023.0,556.9 L1022.5,556.9 L1022.0,556.8 L1021.5,556.8 L1021.0,556.7 L1020.5,556.6 L1020.0,556.6 L1019.5,556.5 L1019.0,556.5 L1018.5,556.4 L1018.0,556.4 L1017.5,556.3 L1017.0,556.2 L1016.5,556.2 L1016.0,556.1 L1015.5,556.0 L1015.0,556.0 L1014.5,555.9 L1014.0,555.9 L1013.5,555.8 L1013.0,555.7 L1012.5,555.7 L1012.0,555.6 L1011.5,555.5 L1011.0,555.4 L1010.5,555.3 L1010.0,555.2 L1009.5,555.1 L1009.0,555.0 L1008.5,554.9 L1008.0,554.8 L1007.5,554.7 L1007.0,554.6 L1006.5,554.5 L1006.0,554.4 L1005.5,554.2 L1005.0,554.0 L1004.5,553.8 L1004.0,553.6 L1003.5,553.4 L1003.0,553.2 L1002.5,553.0 L1002.0,552.8 L1001.5,552.6 L1001.0,552.4 L1000.5,552.2 L1000.0,552.0 L999.5,551.7 L999.0,551.4 L998.5,551.1 L998.0,550.8 L997.5,550.5 L997.0,550.2 L996.5,549.9 L996.0,549.6 L995.5,549.3 L995.0,549.0 L994.5,548.7 L994.0,548.4 L993.5,548.1 L993.0,547.8 L992.5,547.5 L992.0,547.2 L991.5,546.9 L991.0,546.6 L990.5,546.7 L990.0,546.7ZM1043.0,557.1 L1043.5,557.2 L1044.0,557.2 L1044.5,557.3 L1045.0,557.4 L1045.5,557.4 L1046.0,557.5 L1046.5,557.5 L1047.0,557.6 L1047.5,557.7 L1048.0,557.8 L1048.5,557.9 L1049.0,558.0 L1049.5,558.1 L1050.0,558.2 L1050.5,558.3 L1051.0,558.4 L1051.5,558.3 L1052.0,558.2 L1052.5,558.1 L1053.0,558.0 L1053.5,557.9 L1054.0,557.8 L1054.5,557.7 L1055.0,557.6 L1055.5,557.5 L1056.0,557.4 L1056.5,557.4 L1057.0,557.3 L1057.5,557.3 L1058.0,557.2 L1058.5,557.2 L1059.0,557.2 L1059.5,557.1 L1060.0,557.1 L1060.5,557.0 L1060.5,557.0 L1060.0,557.0 L1059.5,557.0 L1059.0,557.1 L1058.5,557.1 L1058.0,557.1 L1057.5,557.2 L1057.0,557.2 L1056.5,557.3 L1056.0,557.3 L1055.5,557.3 L1055.0,557.4 L1054.5,557.4 L1054.0,557.5 L1053.5,557.5 L1053.0,557.5 L1052.5,557.6 L1052.0,557.6 L1051.5,557.6 L1051.0,557.5 L1050.5,557.5 L1050.0,557.5 L1049.5,557.4 L1049.0,557.4 L1048.5,557.3 L1048.0,557.3 L1047.5,557.3 L1047.0,557.2 L1046.5,557.2 L1046.0,557.1 L1045.5,557.1 L1045.0,557.1 L1044.5,557.0 L1044.0,557.0 L1043.5,557.0 L1043.0,557.0ZM1065.5,557.2 L1066.0,557.5 L1066.5,557.8 L1067.0,558.0 L1067.5,558.2 L1068.0,558.5 L1068.5,558.8 L1069.0,559.0 L1069.5,559.2 L1070.0,559.4 L1070.5,559.6 L1071.0,559.8 L1071.5,560.0 L1072.0,560.2 L1072.5,560.4 L1073.0,560.6 L1073.5,560.8 L1074.0,561.0 L1074.5,561.0 L1075.0,561.0 L1075.5,561.0 L1076.0,561.0 L1076.5,561.0 L1077.0,561.0 L1077.5,561.0 L1078.0,561.0 L1078.5,561.0 L1079.0,561.0 L1079.5,560.8 L1080.0,560.6 L1080.5,560.5 L1081.0,560.3 L1081.5,560.1 L1081.5,560.0 L1081.0,560.0 L1080.5,560.0 L1080.0,560.0 L1079.5,560.0 L1079.0,560.0 L1078.5,560.0 L1078.0,560.0 L1077.5,559.9 L1077.0,559.7 L1076.5,559.6 L1076.0,559.5 L1075.5,559.3 L1075.0,559.2 L1074.5,559.1 L1074.0,558.9 L1073.5,558.8 L1073.0,558.7 L1072.5,558.5 L1072.0,558.4 L1071.5,558.3 L1071.0,558.2 L1070.5,558.0 L1070.0,557.9 L1069.5,557.8 L1069.0,557.7 L1068.5,557.6 L1068.0,557.5 L1067.5,557.4 L1067.0,557.2 L1066.5,557.1 L1066.0,557.0 L1065.5,557.0ZM1137.0,527.5 L1137.5,528.2 L1138.0,529.0 L1138.5,529.8 L1139.0,530.5 L1139.5,531.2 L1140.0,532.0 L1140.5,532.6 L1141.0,533.2 L1141.5,533.9 L1142.0,534.5 L1142.5,535.1 L1143.0,535.8 L1143.5,536.4 L1144.0,537.0 L1144.5,537.5 L1145.0,538.0 L1145.5,538.5 L1146.0,539.0 L1146.5,539.5 L1147.0,540.0 L1147.5,540.5 L1148.0,541.1 L1148.5,541.6 L1149.0,542.1 L1149.5,542.6 L1150.0,543.2 L1150.0,535.3 L1149.5,534.9 L1149.0,534.5 L1148.5,534.0 L1148.0,533.6 L1147.5,533.2 L1147.0,532.8 L1146.5,532.4 L1146.0,532.0 L1145.5,531.6 L1145.0,531.2 L1144.5,530.9 L1144.0,530.5 L1143.5,530.1 L1143.0,529.8 L1142.5,529.4 L1142.0,529.0 L1141.5,528.8 L1141.0,528.6 L1140.5,528.4 L1140.0,528.2 L1139.5,528.0 L1139.0,527.8 L1138.5,527.6 L1138.0,527.4 L1137.5,527.2 L1137.0,527.0Z" fill="#fbb9bd" stroke="none"/>
<linearGradient id="gu" x1="0" y1="0" x2="0" y2="1"><stop offset="0" stop-color="#000"/><stop offset="0.45" stop-color="#333"/><stop offset="1" stop-color="#b8b8b8"/></linearGradient>
<linearGradient id="gd" x1="0" y1="1" x2="0" y2="0"><stop offset="0" stop-color="#000"/><stop offset="0.45" stop-color="#333"/><stop offset="1" stop-color="#b8b8b8"/></linearGradient>
<g fill="url(#gu)"><rect x="-0.2" y="560.9" width="1.4" height="0.7"/><rect x="1.8" y="560.9" width="1.4" height="0.7"/><rect x="4.8" y="560.9" width="1.4" height="0.7"/><rect x="6.8" y="560.9" width="1.4" height="0.7"/><rect x="8.8" y="560.6" width="1.4" height="1.0"/><rect x="10.8" y="560.1" width="1.4" height="1.5"/><rect x="13.8" y="559.4" width="1.4" height="2.2"/><rect x="15.8" y="558.7" width="1.4" height="2.9"/><rect x="17.8" y="558.1" width="1.4" height="3.5"/><rect x="19.8" y="557.3" width="1.4" height="4.3"/><rect x="21.8" y="556.5" width="1.4" height="5.1"/><rect x="24.8" y="555.7" width="1.4" height="5.9"/><rect x="26.8" y="554.8" width="1.4" height="6.8"/><rect x="28.8" y="554.1" width="1.4" height="7.5"/><rect x="30.8" y="553.4" width="1.4" height="8.2"/><rect x="33.8" y="552.7" width="1.4" height="8.9"/><rect x="35.8" y="552.3" width="1.4" height="9.3"/><rect x="37.8" y="553.6" width="1.4" height="8.0"/><rect x="39.8" y="554.9" width="1.4" height="6.7"/><rect x="42.8" y="556.5" width="1.4" height="5.1"/><rect x="44.8" y="558.3" width="1.4" height="3.3"/><rect x="46.8" y="560.2" width="1.4" height="1.4"/><rect x="48.8" y="560.9" width="1.4" height="0.7"/><rect x="117.8" y="560.9" width="1.4" height="0.7"/><rect x="120.8" y="559.9" width="1.4" height="1.7"/><rect x="122.8" y="558.6" width="1.4" height="3.0"/><rect x="124.8" y="557.3" width="1.4" height="4.3"/><rect x="126.8" y="557.4" width="1.4" height="4.2"/><rect x="129.8" y="557.8" width="1.4" height="3.8"/><rect x="131.8" y="558.2" width="1.4" height="3.4"/><rect x="133.8" y="558.9" width="1.4" height="2.7"/><rect x="135.8" y="559.6" width="1.4" height="2.0"/><rect x="138.8" y="557.5" width="1.4" height="4.1"/><rect x="140.8" y="555.3" width="1.4" height="6.3"/><rect x="142.8" y="554.5" width="1.4" height="7.1"/><rect x="144.8" y="554.3" width="1.4" height="7.3"/><rect x="147.8" y="554.1" width="1.4" height="7.5"/><rect x="149.8" y="554.8" width="1.4" height="6.8"/><rect x="151.8" y="555.6" width="1.4" height="6.0"/><rect x="153.8" y="556.7" width="1.4" height="4.9"/><rect x="155.8" y="558.7" width="1.4" height="2.9"/><rect x="158.8" y="560.6" width="1.4" height="1.0"/><rect x="200.8" y="560.9" width="1.4" height="0.7"/><rect x="202.8" y="559.7" width="1.4" height="1.9"/><rect x="205.8" y="558.2" width="1.4" height="3.4"/><rect x="207.8" y="556.7" width="1.4" height="4.9"/><rect x="209.8" y="555.6" width="1.4" height="6.0"/><rect x="211.8" y="555.6" width="1.4" height="6.0"/><rect x="214.8" y="556.0" width="1.4" height="5.6"/><rect x="216.8" y="556.9" width="1.4" height="4.7"/><rect x="218.8" y="557.9" width="1.4" height="3.7"/><rect x="220.8" y="558.8" width="1.4" height="2.8"/><rect x="222.8" y="559.7" width="1.4" height="1.9"/><rect x="225.8" y="560.6" width="1.4" height="1.0"/><rect x="227.8" y="560.2" width="1.4" height="1.4"/><rect x="229.8" y="559.8" width="1.4" height="1.8"/><rect x="231.8" y="559.5" width="1.4" height="2.1"/><rect x="234.8" y="559.1" width="1.4" height="2.5"/><rect x="236.8" y="558.7" width="1.4" height="2.9"/><rect x="238.8" y="560.2" width="1.4" height="1.4"/><rect x="281.8" y="560.9" width="1.4" height="0.7"/><rect x="283.8" y="556.7" width="1.4" height="4.9"/><rect x="285.8" y="552.2" width="1.4" height="9.4"/><rect x="287.8" y="550.6" width="1.4" height="11.0"/><rect x="289.8" y="549.5" width="1.4" height="12.1"/><rect x="292.8" y="549.3" width="1.4" height="12.3"/><rect x="294.8" y="549.1" width="1.4" height="12.5"/><rect x="296.8" y="549.1" width="1.4" height="12.5"/><rect x="298.8" y="549.1" width="1.4" height="12.5"/><rect x="301.8" y="549.1" width="1.4" height="12.5"/><rect x="303.8" y="550.1" width="1.4" height="11.5"/><rect x="305.8" y="553.5" width="1.4" height="8.1"/><rect x="307.8" y="556.0" width="1.4" height="5.6"/><rect x="310.8" y="557.1" width="1.4" height="4.5"/><rect x="312.8" y="558.2" width="1.4" height="3.4"/><rect x="314.8" y="559.4" width="1.4" height="2.2"/><rect x="316.8" y="559.6" width="1.4" height="2.0"/><rect x="318.8" y="559.6" width="1.4" height="2.0"/><rect x="321.8" y="557.4" width="1.4" height="4.2"/><rect x="323.8" y="555.2" width="1.4" height="6.4"/><rect x="325.8" y="552.9" width="1.4" height="8.7"/><rect x="327.8" y="551.0" width="1.4" height="10.6"/><rect x="330.8" y="549.6" width="1.4" height="12.0"/><rect x="332.8" y="549.1" width="1.4" height="12.5"/><rect x="334.8" y="549.1" width="1.4" height="12.5"/><rect x="336.8" y="549.8" width="1.4" height="11.8"/><rect x="339.8" y="550.6" width="1.4" height="11.0"/><rect x="341.8" y="551.8" width="1.4" height="9.8"/><rect x="343.8" y="552.8" width="1.4" height="8.8"/><rect x="345.8" y="553.5" width="1.4" height="8.1"/><rect x="348.8" y="547.6" width="1.4" height="14.0"/><rect x="350.8" y="541.6" width="1.4" height="20.0"/><rect x="352.8" y="537.9" width="1.4" height="23.7"/><rect x="354.8" y="536.2" width="1.4" height="25.4"/><rect x="356.8" y="536.6" width="1.4" height="25.0"/><rect x="359.8" y="538.2" width="1.4" height="23.4"/><rect x="361.8" y="540.1" width="1.4" height="21.5"/><rect x="363.8" y="542.9" width="1.4" height="18.7"/><rect x="365.8" y="545.5" width="1.4" height="16.1"/><rect x="368.8" y="547.7" width="1.4" height="13.9"/><rect x="370.8" y="549.9" width="1.4" height="11.7"/><rect x="372.8" y="552.2" width="1.4" height="9.4"/><rect x="374.8" y="555.3" width="1.4" height="6.3"/><rect x="377.8" y="558.6" width="1.4" height="3.0"/><rect x="379.8" y="560.9" width="1.4" height="0.7"/><rect x="412.8" y="560.8" width="1.4" height="0.8"/><rect x="415.8" y="559.3" width="1.4" height="2.3"/><rect x="417.8" y="559.2" width="1.4" height="2.4"/><rect x="419.8" y="560.3" width="1.4" height="1.3"/><rect x="421.8" y="560.9" width="1.4" height="0.7"/><rect x="459.8" y="558.7" width="1.4" height="2.9"/><rect x="461.8" y="555.7" width="1.4" height="5.9"/><rect x="464.8" y="554.0" width="1.4" height="7.6"/><rect x="466.8" y="552.6" width="1.4" height="9.0"/><rect x="468.8" y="552.3" width="1.4" height="9.3"/><rect x="470.8" y="552.1" width="1.4" height="9.5"/><rect x="473.8" y="552.7" width="1.4" height="8.9"/><rect x="475.8" y="553.4" width="1.4" height="8.2"/><rect x="477.8" y="554.5" width="1.4" height="7.1"/><rect x="479.8" y="555.9" width="1.4" height="5.7"/><rect x="482.8" y="557.2" width="1.4" height="4.4"/><rect x="484.8" y="558.6" width="1.4" height="3.0"/><rect x="486.8" y="558.7" width="1.4" height="2.9"/><rect x="488.8" y="558.2" width="1.4" height="3.4"/><rect x="490.8" y="557.4" width="1.4" height="4.2"/><rect x="493.8" y="556.6" width="1.4" height="5.0"/><rect x="495.8" y="557.2" width="1.4" height="4.4"/><rect x="497.8" y="558.1" width="1.4" height="3.5"/><rect x="499.8" y="559.8" width="1.4" height="1.8"/><rect x="533.8" y="560.9" width="1.4" height="0.7"/><rect x="535.8" y="560.6" width="1.4" height="1.0"/><rect x="537.8" y="559.8" width="1.4" height="1.8"/><rect x="540.8" y="559.0" width="1.4" height="2.7"/><rect x="542.8" y="558.3" width="1.4" height="3.3"/><rect x="544.8" y="557.7" width="1.4" height="3.9"/><rect x="546.8" y="557.6" width="1.4" height="4.0"/><rect x="549.8" y="557.6" width="1.4" height="4.0"/><rect x="551.8" y="556.5" width="1.4" height="5.1"/><rect x="553.8" y="555.5" width="1.4" height="6.1"/><rect x="555.8" y="555.3" width="1.4" height="6.3"/><rect x="557.8" y="555.9" width="1.4" height="5.7"/><rect x="560.8" y="557.9" width="1.4" height="3.7"/><rect x="562.8" y="560.5" width="1.4" height="1.1"/><rect x="589.8" y="560.9" width="1.4" height="0.7"/><rect x="591.8" y="559.9" width="1.4" height="1.7"/><rect x="593.8" y="560.0" width="1.4" height="1.6"/><rect x="595.8" y="560.6" width="1.4" height="1.0"/><rect x="618.8" y="560.7" width="1.4" height="0.9"/><rect x="620.8" y="559.0" width="1.4" height="2.6"/><rect x="622.8" y="557.3" width="1.4" height="4.3"/><rect x="624.8" y="555.6" width="1.4" height="6.0"/><rect x="627.8" y="553.4" width="1.4" height="8.2"/><rect x="629.8" y="551.5" width="1.4" height="10.1"/><rect x="631.8" y="551.2" width="1.4" height="10.4"/><rect x="633.8" y="551.8" width="1.4" height="9.8"/><rect x="636.8" y="552.6" width="1.4" height="9.0"/><rect x="638.8" y="553.1" width="1.4" height="8.5"/><rect x="640.8" y="553.5" width="1.4" height="8.1"/><rect x="642.8" y="553.9" width="1.4" height="7.7"/><rect x="645.8" y="554.3" width="1.4" height="7.3"/><rect x="647.8" y="554.7" width="1.4" height="6.9"/><rect x="649.8" y="555.2" width="1.4" height="6.4"/><rect x="651.8" y="555.8" width="1.4" height="5.8"/><rect x="653.8" y="556.5" width="1.4" height="5.1"/><rect x="656.8" y="557.4" width="1.4" height="4.2"/><rect x="658.8" y="558.4" width="1.4" height="3.2"/><rect x="660.8" y="559.0" width="1.4" height="2.6"/><rect x="662.8" y="559.6" width="1.4" height="2.0"/><rect x="665.8" y="560.1" width="1.4" height="1.5"/><rect x="667.8" y="560.5" width="1.4" height="1.1"/><rect x="669.8" y="560.9" width="1.4" height="0.7"/><rect x="671.8" y="560.9" width="1.4" height="0.7"/><rect x="674.8" y="560.9" width="1.4" height="0.7"/><rect x="712.8" y="560.9" width="1.4" height="0.7"/><rect x="714.8" y="560.0" width="1.4" height="1.6"/><rect x="716.8" y="558.9" width="1.4" height="2.8"/><rect x="718.8" y="557.7" width="1.4" height="3.9"/><rect x="720.8" y="556.6" width="1.4" height="5.0"/><rect x="723.8" y="555.6" width="1.4" height="6.0"/><rect x="725.8" y="555.9" width="1.4" height="5.7"/><rect x="727.8" y="556.2" width="1.4" height="5.4"/><rect x="729.8" y="556.5" width="1.4" height="5.1"/><rect x="732.8" y="556.9" width="1.4" height="4.7"/><rect x="734.8" y="557.4" width="1.4" height="4.2"/><rect x="736.8" y="558.4" width="1.4" height="3.2"/><rect x="738.8" y="559.5" width="1.4" height="2.1"/><rect x="741.8" y="560.9" width="1.4" height="0.7"/><rect x="754.8" y="560.1" width="1.4" height="1.5"/><rect x="756.8" y="559.0" width="1.4" height="2.6"/><rect x="758.8" y="558.1" width="1.4" height="3.5"/><rect x="761.8" y="558.9" width="1.4" height="2.7"/><rect x="763.8" y="559.8" width="1.4" height="1.8"/><rect x="765.8" y="560.9" width="1.4" height="0.7"/><rect x="828.8" y="560.3" width="1.4" height="1.3"/><rect x="830.8" y="555.7" width="1.4" height="5.9"/><rect x="832.8" y="550.5" width="1.4" height="11.1"/><rect x="834.8" y="549.3" width="1.4" height="12.3"/><rect x="837.8" y="549.7" width="1.4" height="11.9"/><rect x="839.8" y="551.0" width="1.4" height="10.6"/><rect x="841.8" y="554.0" width="1.4" height="7.6"/><rect x="843.8" y="557.6" width="1.4" height="4.0"/><rect x="846.8" y="560.9" width="1.4" height="0.7"/><rect x="906.8" y="560.9" width="1.4" height="0.7"/><rect x="908.8" y="559.8" width="1.4" height="1.8"/><rect x="910.8" y="558.7" width="1.4" height="2.9"/><rect x="913.8" y="557.6" width="1.4" height="4.0"/><rect x="915.8" y="556.5" width="1.4" height="5.1"/><rect x="917.8" y="555.4" width="1.4" height="6.2"/><rect x="919.8" y="554.3" width="1.4" height="7.3"/><rect x="921.8" y="553.5" width="1.4" height="8.1"/><rect x="924.8" y="553.1" width="1.4" height="8.5"/><rect x="926.8" y="553.5" width="1.4" height="8.1"/><rect x="928.8" y="555.3" width="1.4" height="6.3"/><rect x="930.8" y="556.6" width="1.4" height="5.0"/><rect x="933.8" y="557.7" width="1.4" height="3.9"/><rect x="935.8" y="558.8" width="1.4" height="2.8"/><rect x="937.8" y="559.5" width="1.4" height="2.2"/><rect x="939.8" y="558.9" width="1.4" height="2.7"/><rect x="942.8" y="558.3" width="1.4" height="3.3"/><rect x="944.8" y="557.8" width="1.4" height="3.8"/><rect x="946.8" y="558.6" width="1.4" height="3.0"/><rect x="948.8" y="560.4" width="1.4" height="1.2"/><rect x="959.8" y="560.9" width="1.4" height="0.7"/><rect x="962.8" y="560.0" width="1.4" height="1.6"/><rect x="964.8" y="558.9" width="1.4" height="2.7"/><rect x="966.8" y="557.5" width="1.4" height="4.1"/><rect x="968.8" y="556.2" width="1.4" height="5.4"/><rect x="971.8" y="555.1" width="1.4" height="6.5"/><rect x="973.8" y="555.4" width="1.4" height="6.2"/><rect x="975.8" y="555.7" width="1.4" height="5.9"/><rect x="977.8" y="556.3" width="1.4" height="5.3"/><rect x="980.8" y="557.1" width="1.4" height="4.5"/><rect x="982.8" y="558.2" width="1.4" height="3.4"/><rect x="984.8" y="559.4" width="1.4" height="2.2"/><rect x="986.8" y="560.5" width="1.4" height="1.1"/><rect x="1080.8" y="560.9" width="1.4" height="0.7"/><rect x="1082.8" y="560.7" width="1.4" height="0.9"/><rect x="1085.8" y="559.1" width="1.4" height="2.5"/><rect x="1087.8" y="557.4" width="1.4" height="4.2"/><rect x="1089.8" y="555.8" width="1.4" height="5.9"/><rect x="1091.8" y="554.3" width="1.4" height="7.3"/><rect x="1093.8" y="553.5" width="1.4" height="8.1"/><rect x="1096.8" y="553.5" width="1.4" height="8.1"/><rect x="1098.8" y="554.4" width="1.4" height="7.2"/><rect x="1100.8" y="555.4" width="1.4" height="6.2"/><rect x="1102.8" y="556.5" width="1.4" height="5.1"/><rect x="1105.8" y="557.6" width="1.4" height="4.0"/><rect x="1107.8" y="558.8" width="1.4" height="2.8"/><rect x="1109.8" y="559.9" width="1.4" height="1.7"/><rect x="1111.8" y="558.0" width="1.4" height="3.6"/><rect x="1114.8" y="556.2" width="1.4" height="5.4"/><rect x="1116.8" y="555.4" width="1.4" height="6.2"/><rect x="1118.8" y="554.7" width="1.4" height="6.9"/><rect x="1120.8" y="554.2" width="1.4" height="7.4"/><rect x="1122.8" y="554.3" width="1.4" height="7.3"/><rect x="1125.8" y="554.6" width="1.4" height="7.0"/><rect x="1127.8" y="554.9" width="1.4" height="6.7"/><rect x="1129.8" y="555.4" width="1.4" height="6.2"/><rect x="1131.8" y="556.5" width="1.4" height="5.1"/><rect x="1134.8" y="559.4" width="1.4" height="2.2"/></g>
<g fill="url(#gd)"><rect x="50.8" y="561.6" width="1.4" height="1.0"/><rect x="53.8" y="561.6" width="1.4" height="1.3"/><rect x="55.8" y="561.6" width="1.4" height="1.6"/><rect x="57.8" y="561.6" width="1.4" height="1.8"/><rect x="59.8" y="561.6" width="1.4" height="2.3"/><rect x="62.8" y="561.6" width="1.4" height="3.0"/><rect x="64.8" y="561.6" width="1.4" height="3.7"/><rect x="66.8" y="561.6" width="1.4" height="4.4"/><rect x="68.8" y="561.6" width="1.4" height="3.7"/><rect x="71.8" y="561.6" width="1.4" height="2.8"/><rect x="73.8" y="561.6" width="1.4" height="1.9"/><rect x="75.8" y="561.6" width="1.4" height="1.5"/><rect x="77.8" y="561.6" width="1.4" height="1.0"/><rect x="80.8" y="561.6" width="1.4" height="7.0"/><rect x="82.8" y="561.6" width="1.4" height="12.2"/><rect x="84.8" y="561.6" width="1.4" height="16.1"/><rect x="86.8" y="561.6" width="1.4" height="17.9"/><rect x="88.8" y="561.6" width="1.4" height="19.0"/><rect x="91.8" y="561.6" width="1.4" height="16.3"/><rect x="93.8" y="561.6" width="1.4" height="13.7"/><rect x="95.8" y="561.6" width="1.4" height="12.0"/><rect x="97.8" y="561.6" width="1.4" height="10.4"/><rect x="100.8" y="561.6" width="1.4" height="8.9"/><rect x="102.8" y="561.6" width="1.4" height="7.4"/><rect x="104.8" y="561.6" width="1.4" height="6.2"/><rect x="106.8" y="561.6" width="1.4" height="5.1"/><rect x="109.8" y="561.6" width="1.4" height="4.0"/><rect x="111.8" y="561.6" width="1.4" height="3.1"/><rect x="113.8" y="561.6" width="1.4" height="2.1"/><rect x="115.8" y="561.6" width="1.4" height="1.0"/><rect x="160.8" y="561.6" width="1.4" height="1.0"/><rect x="162.8" y="561.6" width="1.4" height="2.2"/><rect x="164.8" y="561.6" width="1.4" height="3.1"/><rect x="167.8" y="561.6" width="1.4" height="4.0"/><rect x="169.8" y="561.6" width="1.4" height="5.2"/><rect x="171.8" y="561.6" width="1.4" height="6.3"/><rect x="173.8" y="561.6" width="1.4" height="7.3"/><rect x="176.8" y="561.6" width="1.4" height="8.1"/><rect x="178.8" y="561.6" width="1.4" height="7.4"/><rect x="180.8" y="561.6" width="1.4" height="5.4"/><rect x="182.8" y="561.6" width="1.4" height="5.0"/><rect x="184.8" y="561.6" width="1.4" height="5.0"/><rect x="187.8" y="561.6" width="1.4" height="5.0"/><rect x="189.8" y="561.6" width="1.4" height="5.6"/><rect x="191.8" y="561.6" width="1.4" height="5.7"/><rect x="193.8" y="561.6" width="1.4" height="4.5"/><rect x="196.8" y="561.6" width="1.4" height="3.2"/><rect x="198.8" y="561.6" width="1.4" height="1.5"/><rect x="240.8" y="561.6" width="1.4" height="3.2"/><rect x="243.8" y="561.6" width="1.4" height="10.8"/><rect x="245.8" y="561.6" width="1.4" height="16.4"/><rect x="247.8" y="561.6" width="1.4" height="19.8"/><rect x="249.8" y="561.6" width="1.4" height="22.4"/><rect x="251.8" y="561.6" width="1.4" height="23.5"/><rect x="254.8" y="561.6" width="1.4" height="24.5"/><rect x="256.8" y="561.6" width="1.4" height="24.3"/><rect x="258.8" y="561.6" width="1.4" height="24.0"/><rect x="260.8" y="561.6" width="1.4" height="23.2"/><rect x="263.8" y="561.6" width="1.4" height="22.3"/><rect x="265.8" y="561.6" width="1.4" height="20.1"/><rect x="267.8" y="561.6" width="1.4" height="17.0"/><rect x="269.8" y="561.6" width="1.4" height="13.8"/><rect x="272.8" y="561.6" width="1.4" height="10.7"/><rect x="274.8" y="561.6" width="1.4" height="7.7"/><rect x="276.8" y="561.6" width="1.4" height="5.5"/><rect x="278.8" y="561.6" width="1.4" height="3.2"/><rect x="381.8" y="561.6" width="1.4" height="0.7"/><rect x="383.8" y="561.6" width="1.4" height="1.2"/><rect x="385.8" y="561.6" width="1.4" height="1.7"/><rect x="388.8" y="561.6" width="1.4" height="2.9"/><rect x="390.8" y="561.6" width="1.4" height="4.6"/><rect x="392.8" y="561.6" width="1.4" height="6.5"/><rect x="394.8" y="561.6" width="1.4" height="8.4"/><rect x="397.8" y="561.6" width="1.4" height="9.3"/><rect x="399.8" y="561.6" width="1.4" height="9.9"/><rect x="401.8" y="561.6" width="1.4" height="9.6"/><rect x="403.8" y="561.6" width="1.4" height="8.0"/><rect x="406.8" y="561.6" width="1.4" height="5.9"/><rect x="408.8" y="561.6" width="1.4" height="3.7"/><rect x="410.8" y="561.6" width="1.4" height="1.5"/><rect x="423.8" y="561.6" width="1.4" height="0.9"/><rect x="426.8" y="561.6" width="1.4" height="3.2"/><rect x="428.8" y="561.6" width="1.4" height="6.2"/><rect x="430.8" y="561.6" width="1.4" height="9.0"/><rect x="432.8" y="561.6" width="1.4" height="11.8"/><rect x="435.8" y="561.6" width="1.4" height="15.2"/><rect x="437.8" y="561.6" width="1.4" height="18.3"/><rect x="439.8" y="561.6" width="1.4" height="20.6"/><rect x="441.8" y="561.6" width="1.4" height="20.4"/><rect x="444.8" y="561.6" width="1.4" height="19.0"/><rect x="446.8" y="561.6" width="1.4" height="16.6"/><rect x="448.8" y="561.6" width="1.4" height="13.7"/><rect x="450.8" y="561.6" width="1.4" height="13.0"/><rect x="452.8" y="561.6" width="1.4" height="12.0"/><rect x="455.8" y="561.6" width="1.4" height="9.4"/><rect x="457.8" y="561.6" width="1.4" height="2.7"/><rect x="502.8" y="561.6" width="1.4" height="0.7"/><rect x="504.8" y="561.6" width="1.4" height="3.3"/><rect x="506.8" y="561.6" width="1.4" height="5.6"/><rect x="508.8" y="561.6" width="1.4" height="7.6"/><rect x="511.8" y="561.6" width="1.4" height="9.3"/><rect x="513.8" y="561.6" width="1.4" height="9.7"/><rect x="515.8" y="561.6" width="1.4" height="9.1"/><rect x="517.8" y="561.6" width="1.4" height="8.6"/><rect x="519.8" y="561.6" width="1.4" height="8.0"/><rect x="522.8" y="561.6" width="1.4" height="7.1"/><rect x="524.8" y="561.6" width="1.4" height="6.2"/><rect x="526.8" y="561.6" width="1.4" height="4.7"/><rect x="528.8" y="561.6" width="1.4" height="3.1"/><rect x="531.8" y="561.6" width="1.4" height="1.4"/><rect x="564.8" y="561.6" width="1.4" height="1.6"/><rect x="566.8" y="561.6" width="1.4" height="3.9"/><rect x="569.8" y="561.6" width="1.4" height="5.8"/><rect x="571.8" y="561.6" width="1.4" height="7.5"/><rect x="573.8" y="561.6" width="1.4" height="8.6"/><rect x="575.8" y="561.6" width="1.4" height="9.4"/><rect x="578.8" y="561.6" width="1.4" height="8.2"/><rect x="580.8" y="561.6" width="1.4" height="6.7"/><rect x="582.8" y="561.6" width="1.4" height="4.5"/><rect x="584.8" y="561.6" width="1.4" height="2.4"/><rect x="586.8" y="561.6" width="1.4" height="0.8"/><rect x="598.8" y="561.6" width="1.4" height="2.6"/><rect x="600.8" y="561.6" width="1.4" height="6.1"/><rect x="602.8" y="561.6" width="1.4" height="9.4"/><rect x="604.8" y="561.6" width="1.4" height="10.6"/><rect x="607.8" y="561.6" width="1.4" height="9.9"/><rect x="609.8" y="561.6" width="1.4" height="7.7"/><rect x="611.8" y="561.6" width="1.4" height="5.5"/><rect x="613.8" y="561.6" width="1.4" height="3.2"/><rect x="616.8" y="561.6" width="1.4" height="1.0"/><rect x="676.8" y="561.6" width="1.4" height="0.7"/><rect x="678.8" y="561.6" width="1.4" height="0.7"/><rect x="680.8" y="561.6" width="1.4" height="0.7"/><rect x="683.8" y="561.6" width="1.4" height="0.7"/><rect x="685.8" y="561.6" width="1.4" height="0.7"/><rect x="687.8" y="561.6" width="1.4" height="0.7"/><rect x="689.8" y="561.6" width="1.4" height="0.7"/><rect x="691.8" y="561.6" width="1.4" height="0.7"/><rect x="694.8" y="561.6" width="1.4" height="0.9"/><rect x="696.8" y="561.6" width="1.4" height="1.0"/><rect x="698.8" y="561.6" width="1.4" height="0.7"/><rect x="700.8" y="561.6" width="1.4" height="0.7"/><rect x="703.8" y="561.6" width="1.4" height="0.7"/><rect x="705.8" y="561.6" width="1.4" height="1.0"/><rect x="707.8" y="561.6" width="1.4" height="1.3"/><rect x="709.8" y="561.6" width="1.4" height="0.7"/><rect x="743.8" y="561.6" width="1.4" height="1.3"/><rect x="745.8" y="561.6" width="1.4" height="3.1"/><rect x="747.8" y="561.6" width="1.4" height="3.7"/><rect x="750.8" y="561.6" width="1.4" height="3.0"/><rect x="752.8" y="561.6" width="1.4" height="0.8"/><rect x="767.8" y="561.6" width="1.4" height="0.7"/><rect x="770.8" y="561.6" width="1.4" height="0.8"/><rect x="772.8" y="561.6" width="1.4" height="1.3"/><rect x="774.8" y="561.6" width="1.4" height="1.9"/><rect x="776.8" y="561.6" width="1.4" height="3.4"/><rect x="779.8" y="561.6" width="1.4" height="5.0"/><rect x="781.8" y="561.6" width="1.4" height="6.7"/><rect x="783.8" y="561.6" width="1.4" height="7.9"/><rect x="785.8" y="561.6" width="1.4" height="7.3"/><rect x="787.8" y="561.6" width="1.4" height="6.5"/><rect x="790.8" y="561.6" width="1.4" height="5.4"/><rect x="792.8" y="561.6" width="1.4" height="4.6"/><rect x="794.8" y="561.6" width="1.4" height="4.1"/><rect x="796.8" y="561.6" width="1.4" height="4.5"/><rect x="799.8" y="561.6" width="1.4" height="5.1"/><rect x="801.8" y="561.6" width="1.4" height="6.2"/><rect x="803.8" y="561.6" width="1.4" height="7.3"/><rect x="805.8" y="561.6" width="1.4" height="8.4"/><rect x="808.8" y="561.6" width="1.4" height="8.7"/><rect x="810.8" y="561.6" width="1.4" height="8.2"/><rect x="812.8" y="561.6" width="1.4" height="7.6"/><rect x="814.8" y="561.6" width="1.4" height="7.1"/><rect x="817.8" y="561.6" width="1.4" height="6.0"/><rect x="819.8" y="561.6" width="1.4" height="4.9"/><rect x="821.8" y="561.6" width="1.4" height="3.8"/><rect x="823.8" y="561.6" width="1.4" height="2.6"/><rect x="825.8" y="561.6" width="1.4" height="1.5"/><rect x="848.8" y="561.6" width="1.4" height="2.4"/><rect x="850.8" y="561.6" width="1.4" height="5.3"/><rect x="852.8" y="561.6" width="1.4" height="6.6"/><rect x="854.8" y="561.6" width="1.4" height="6.8"/><rect x="857.8" y="561.6" width="1.4" height="6.2"/><rect x="859.8" y="561.6" width="1.4" height="5.6"/><rect x="861.8" y="561.6" width="1.4" height="5.1"/><rect x="863.8" y="561.6" width="1.4" height="4.6"/><rect x="866.8" y="561.6" width="1.4" height="4.2"/><rect x="868.8" y="561.6" width="1.4" height="3.7"/><rect x="870.8" y="561.6" width="1.4" height="3.1"/><rect x="872.8" y="561.6" width="1.4" height="2.5"/><rect x="875.8" y="561.6" width="1.4" height="2.0"/><rect x="877.8" y="561.6" width="1.4" height="1.4"/><rect x="879.8" y="561.6" width="1.4" height="0.9"/><rect x="881.8" y="561.6" width="1.4" height="0.7"/><rect x="884.8" y="561.6" width="1.4" height="0.7"/><rect x="886.8" y="561.6" width="1.4" height="0.7"/><rect x="888.8" y="561.6" width="1.4" height="0.7"/><rect x="890.8" y="561.6" width="1.4" height="0.7"/><rect x="892.8" y="561.6" width="1.4" height="0.8"/><rect x="895.8" y="561.6" width="1.4" height="1.5"/><rect x="897.8" y="561.6" width="1.4" height="2.1"/><rect x="899.8" y="561.6" width="1.4" height="2.7"/><rect x="901.8" y="561.6" width="1.4" height="2.1"/><rect x="904.8" y="561.6" width="1.4" height="0.7"/><rect x="951.8" y="561.6" width="1.4" height="1.0"/><rect x="953.8" y="561.6" width="1.4" height="1.7"/><rect x="955.8" y="561.6" width="1.4" height="1.5"/><rect x="957.8" y="561.6" width="1.4" height="0.7"/><rect x="988.8" y="561.6" width="1.4" height="1.0"/><rect x="991.8" y="561.6" width="1.4" height="2.8"/><rect x="993.8" y="561.6" width="1.4" height="4.1"/><rect x="995.8" y="561.6" width="1.4" height="4.7"/><rect x="997.8" y="561.6" width="1.4" height="4.8"/><rect x="1000.8" y="561.6" width="1.4" height="4.2"/><rect x="1002.8" y="561.6" width="1.4" height="3.3"/><rect x="1004.8" y="561.6" width="1.4" height="2.2"/><rect x="1006.8" y="561.6" width="1.4" height="1.3"/><rect x="1009.8" y="561.6" width="1.4" height="0.7"/><rect x="1011.8" y="561.6" width="1.4" height="0.7"/><rect x="1013.8" y="561.6" width="1.4" height="0.9"/><rect x="1015.8" y="561.6" width="1.4" height="1.0"/><rect x="1018.8" y="561.6" width="1.4" height="1.0"/><rect x="1020.8" y="561.6" width="1.4" height="1.0"/><rect x="1022.8" y="561.6" width="1.4" height="0.9"/><rect x="1024.8" y="561.6" width="1.4" height="0.8"/><rect x="1026.8" y="561.6" width="1.4" height="0.7"/><rect x="1029.8" y="561.6" width="1.4" height="0.7"/><rect x="1031.8" y="561.6" width="1.4" height="0.7"/><rect x="1033.8" y="561.6" width="1.4" height="0.7"/><rect x="1035.8" y="561.6" width="1.4" height="0.7"/><rect x="1038.8" y="561.6" width="1.4" height="0.7"/><rect x="1040.8" y="561.6" width="1.4" height="0.7"/><rect x="1042.8" y="561.6" width="1.4" height="0.7"/><rect x="1044.8" y="561.6" width="1.4" height="0.7"/><rect x="1047.8" y="561.6" width="1.4" height="0.7"/><rect x="1049.8" y="561.6" width="1.4" height="0.7"/><rect x="1051.8" y="561.6" width="1.4" height="0.7"/><rect x="1053.8" y="561.6" width="1.4" height="0.7"/><rect x="1055.8" y="561.6" width="1.4" height="0.7"/><rect x="1058.8" y="561.6" width="1.4" height="0.7"/><rect x="1060.8" y="561.6" width="1.4" height="0.7"/><rect x="1062.8" y="561.6" width="1.4" height="0.7"/><rect x="1064.8" y="561.6" width="1.4" height="0.8"/><rect x="1067.8" y="561.6" width="1.4" height="1.0"/><rect x="1069.8" y="561.6" width="1.4" height="1.2"/><rect x="1071.8" y="561.6" width="1.4" height="1.4"/><rect x="1073.8" y="561.6" width="1.4" height="1.4"/><rect x="1076.8" y="561.6" width="1.4" height="1.0"/><rect x="1078.8" y="561.6" width="1.4" height="0.7"/><rect x="1136.8" y="561.6" width="1.4" height="0.7"/><rect x="1138.8" y="561.6" width="1.4" height="2.4"/><rect x="1140.8" y="561.6" width="1.4" height="3.9"/><rect x="1143.8" y="561.6" width="1.4" height="5.4"/><rect x="1145.8" y="561.6" width="1.4" height="6.4"/><rect x="1147.8" y="561.6" width="1.4" height="7.1"/><rect x="1149.8" y="561.6" width="1.4" height="7.5"/></g>
<path d="M0.0,561.6 L10.0,559.0 L18.0,554.0 L22.0,553.0 L28.0,544.0 L33.0,537.0 L38.0,532.4 L43.0,533.0 L47.0,534.4 L52.0,538.0 L57.0,539.6 L61.0,540.0 L66.0,544.0 L71.0,547.0 L75.0,546.0 L78.0,548.0 L81.0,558.0 L84.0,570.0 L88.0,581.0 L92.0,587.0 L96.0,595.0" stroke="#4d8a00" stroke-width="1.8" fill="none" stroke-linejoin="round"/>
<path d="M118.0,595.0 L121.0,587.0 L126.0,581.0 L131.0,578.4 L136.0,579.0 L140.0,574.0 L145.0,568.0 L150.0,565.0 L155.0,562.6 L158.0,563.0 L160.0,567.0 L165.0,570.0 L170.0,573.0 L174.0,580.0 L178.0,584.0 L182.0,583.6 L186.0,586.0 L189.0,587.0 L192.0,592.0" stroke="#4d8a00" stroke-width="1.8" fill="none" stroke-linejoin="round"/>
<path d="M198.0,592.0 L201.0,587.0 L206.0,580.0 L211.0,575.0 L216.0,574.4 L221.0,572.6 L226.0,573.6 L232.0,572.0 L239.0,570.0 L241.0,574.0 L244.0,587.0 L246.0,596.0" stroke="#4d8a00" stroke-width="1.8" fill="none" stroke-linejoin="round"/>
<path d="M326.0,596.0 L329.0,587.0 L333.0,579.0 L337.0,573.0 L342.0,569.0 L346.0,566.0 L349.0,552.0 L353.0,533.0 L357.0,520.0 L361.0,513.0 L366.0,509.0 L370.0,508.0 L373.6,506.6 L377.0,509.6 L381.0,514.0 L386.0,517.0 L391.0,521.0 L395.0,528.0 L398.0,533.0 L401.0,535.0 L404.0,539.0 L407.0,538.0 L410.0,533.0 L414.0,529.0 L419.0,526.6 L423.0,529.0 L427.0,535.0 L431.0,545.0 L435.0,557.0 L439.0,570.0 L443.0,580.0 L447.0,587.0 L450.0,594.0" stroke="#4d8a00" stroke-width="1.8" fill="none" stroke-linejoin="round"/>
<path d="M456.0,594.0 L459.0,585.0 L461.0,580.0 L465.0,572.0 L469.0,566.0 L474.0,561.0 L480.0,558.0 L486.0,557.6 L491.0,557.0 L495.0,553.6 L498.0,552.4 L501.0,554.0 L505.0,559.0 L510.0,567.0 L515.0,574.0 L520.0,579.0 L525.0,583.6 L529.0,584.0 L533.0,581.6 L537.0,577.0 L542.0,574.0 L547.0,571.6 L551.0,570.0 L555.0,565.0 L559.0,563.0 L562.0,563.6 L565.0,568.0 L569.0,574.0 L573.0,580.0 L577.0,585.0 L580.0,586.0 L584.0,584.0 L589.0,580.4 L594.0,579.0 L598.0,581.0 L601.0,586.0 L604.0,594.0" stroke="#4d8a00" stroke-width="1.8" fill="none" stroke-linejoin="round"/>
<path d="M620.0,594.0 L624.0,587.0 L628.0,580.0 L632.0,573.0 L637.0,570.0 L642.0,566.0 L648.0,562.0 L654.0,559.0 L660.0,557.6 L666.0,557.6 L672.0,557.6 L679.0,556.4 L686.0,556.0 L692.0,557.6 L697.0,558.0 L703.0,557.0 L710.0,558.4 L714.0,557.0 L719.0,553.0 L723.0,548.0 L728.0,545.0 L733.0,543.0 L738.0,542.4 L741.6,541.6 L744.0,544.0 L747.0,548.0 L750.4,550.0 L754.0,546.0 L758.0,541.6 L762.0,540.4 L766.0,540.6 L770.0,543.0 L775.0,544.0 L779.0,547.0 L783.0,554.0 L787.0,558.0 L792.0,560.0 L797.0,561.6 L801.0,564.0 L805.0,569.0 L809.0,575.0 L813.0,578.4 L817.0,580.0 L821.0,582.0 L825.0,580.4 L828.4,579.6 L831.0,570.0 L834.0,560.0 L838.0,555.0 L841.0,553.0 L845.0,555.0 L849.0,561.0 L853.0,568.0 L857.0,572.0 L861.0,575.0 L866.0,576.0 L871.0,577.6 L875.0,579.0 L878.0,579.6 L881.0,578.0 L886.0,577.0 L891.0,577.6 L896.0,579.0 L900.0,583.0 L902.4,584.4 L906.0,581.0 L910.0,576.0 L915.0,572.0 L920.0,565.0 L925.0,559.6 L929.0,557.6 L933.0,558.4 L938.0,560.0 L942.0,556.0 L945.0,554.0 L948.0,555.0 L952.0,559.6 L956.0,561.6 L961.0,560.4 L966.0,558.0 L969.0,553.0 L972.0,548.0 L975.0,545.6 L980.0,544.6 L985.0,545.0 L989.0,546.0 L992.0,550.0 L996.0,555.0 L1000.0,557.6 L1006.0,556.4 L1012.0,556.0 L1018.0,557.0 L1024.0,558.0 L1030.0,558.0 L1036.0,557.4 L1042.0,557.0 L1047.0,557.6 L1051.0,558.4 L1056.0,557.4 L1061.0,557.0 L1065.0,557.0 L1069.0,559.0 L1074.0,561.0 L1079.0,561.0 L1083.0,559.6 L1087.0,556.0 L1090.0,550.0 L1094.0,544.0 L1098.0,541.0 L1103.0,540.4 L1108.0,540.6 L1112.0,541.0 L1116.0,536.0 L1120.0,531.0 L1124.0,527.0 L1129.0,524.0 L1132.4,522.6 L1136.0,526.0 L1140.0,532.0 L1144.0,537.0 L1147.0,540.0 L1150.4,543.6" stroke="#4d8a00" stroke-width="1.8" fill="none" stroke-linejoin="round"/>
<path d="M0.0,561.6 L8.0,560.0 L16.0,557.6 L24.0,554.0 L30.0,549.0 L36.0,543.0 L42.0,538.0 L48.0,536.4 L54.0,537.6 L60.0,539.0 L66.0,541.0 L72.0,544.0 L77.0,545.0 L80.0,547.0 L84.0,555.0 L89.0,566.0 L94.0,574.0 L100.0,581.0 L105.0,585.0 L109.0,587.0 L113.0,592.0" stroke="#f40000" stroke-width="1.9" fill="none" stroke-linejoin="round"/>
<path d="M122.0,592.0 L126.0,587.0 L132.0,584.0 L138.0,581.0 L144.0,576.0 L150.0,571.0 L155.0,568.0 L159.0,566.4 L164.0,568.0 L170.0,570.0 L176.0,575.0 L182.0,579.0 L188.0,583.0 L194.0,586.0 L197.0,587.0 L200.0,590.0" stroke="#f40000" stroke-width="1.9" fill="none" stroke-linejoin="round"/>
<path d="M200.0,590.0 L203.0,587.0 L209.0,583.0 L215.0,579.0 L222.0,576.0 L230.0,574.4 L236.0,573.0 L241.0,572.4 L244.0,576.0 L247.0,582.0 L250.0,587.0 L253.0,594.0" stroke="#f40000" stroke-width="1.9" fill="none" stroke-linejoin="round"/>
<path d="M332.0,594.0 L336.0,587.0 L341.0,581.6 L346.0,576.0 L351.0,566.0 L356.0,552.0 L361.0,539.0 L366.0,527.0 L371.0,519.0 L376.0,515.0 L380.0,514.0 L385.0,514.6 L390.0,516.4 L395.0,521.0 L400.0,526.0 L405.0,530.4 L410.0,532.0 L415.0,531.0 L421.0,529.0 L426.0,530.0 L431.0,534.0 L436.0,542.0 L441.0,553.0 L446.0,566.0 L451.0,576.0 L455.0,581.0 L458.4,583.6 L461.0,581.0 L466.0,575.0 L472.0,569.0 L478.0,564.4 L484.0,561.6 L490.0,560.0 L496.0,558.0 L501.0,556.4 L505.0,556.4 L509.0,559.0 L514.0,565.0 L519.0,571.0 L524.0,576.0 L529.0,579.0 L533.0,579.6 L539.0,578.4 L545.0,576.4 L551.0,574.0 L557.0,570.4 L562.0,567.6 L566.0,568.0 L571.0,571.0 L576.0,575.6 L581.0,579.6 L586.0,582.4 L591.0,582.0 L596.0,581.6 L600.0,583.0 L604.0,587.0 L608.0,594.0" stroke="#f40000" stroke-width="1.9" fill="none" stroke-linejoin="round"/>
<path d="M627.0,594.0 L631.0,587.0 L636.0,581.0 L642.0,575.0 L648.0,570.0 L654.0,565.6 L660.0,562.0 L666.0,559.6 L672.0,558.4 L679.0,557.6 L686.0,557.0 L694.0,557.6 L702.0,557.0 L709.0,558.0 L715.0,557.6 L720.0,555.6 L726.0,551.6 L732.0,548.0 L738.0,545.0 L743.0,543.6 L747.0,545.6 L751.0,547.0 L756.0,545.6 L762.0,543.6 L768.0,543.0 L774.0,543.6 L779.0,545.0 L783.0,548.4 L788.0,553.0 L793.0,556.0 L798.0,558.4 L803.0,561.6 L808.0,566.0 L813.0,571.0 L818.0,575.0 L823.0,577.6 L828.0,579.0 L832.0,575.0 L836.0,569.0 L840.0,564.0 L844.0,561.0 L848.0,560.4 L852.0,563.0 L857.0,567.0 L862.0,570.0 L868.0,573.0 L874.0,575.6 L880.0,577.6 L886.0,577.0 L892.0,577.6 L898.0,579.0 L902.0,580.4 L905.0,581.0 L910.0,579.6 L916.0,576.0 L922.0,570.0 L928.0,565.0 L934.0,562.0 L940.0,560.4 L946.0,558.0 L951.0,557.6 L957.0,559.0 L963.0,560.0 L968.0,558.4 L973.0,555.0 L978.0,551.0 L983.0,548.4 L988.0,547.0 L991.0,546.6 L995.0,549.0 L1000.0,552.0 L1006.0,554.4 L1012.0,555.6 L1020.0,556.6 L1028.0,557.4 L1036.0,557.4 L1044.0,557.0 L1052.0,557.6 L1060.0,557.0 L1066.0,557.0 L1072.0,558.4 L1078.0,560.0 L1083.0,560.0 L1088.0,557.6 L1093.0,553.0 L1098.0,548.4 L1103.0,545.6 L1108.0,543.0 L1113.0,542.0 L1118.0,538.4 L1123.0,534.4 L1128.0,530.4 L1133.0,527.6 L1137.0,527.0 L1142.0,529.0 L1146.0,532.0 L1150.4,535.6" stroke="#f40000" stroke-width="1.9" fill="none" stroke-linejoin="round"/>
</g>
<path d="M0,609.8H1457" stroke="#ff9c9c" stroke-width="1.8" fill="none"/>
<path d="M0,630.3H1457" stroke="#98f098" stroke-width="1.6" fill="none"/>
<clipPath id="c3a"><rect x="0" y="589" width="1457" height="20.8"/></clipPath>
<clipPath id="c3b"><rect x="0" y="630" width="1457" height="21"/></clipPath>
<path d="M0.0,616.0 L3.0,616.0 L4.4,619.0 L7.0,619.0 L9.0,612.0 L11.0,619.0 L13.0,615.0 L16.0,613.0 L20.0,612.6 L22.4,611.0 L25.0,605.0 L28.0,604.0 L30.0,602.4 L34.0,601.0 L38.0,600.0 L39.4,609.0 L42.0,609.6 L45.0,609.0 L47.0,612.0 L51.0,615.0 L55.0,613.0 L58.0,609.0 L60.0,609.6 L62.0,621.0 L64.0,619.6 L66.0,620.4 L69.0,619.0 L73.0,613.0 L76.0,608.0 L78.0,617.0 L80.0,627.0 L82.0,632.0 L86.0,634.0 L89.6,635.0 L92.0,632.0 L93.6,628.0 L96.0,629.0 L98.0,628.4 L100.4,632.0 L102.4,628.0 L106.0,626.4 L109.0,629.6 L111.6,627.0 L113.6,629.0 L116.0,626.0 L120.0,623.0 L125.0,619.0 L129.0,622.0 L132.0,623.0 L134.4,626.4 L136.4,627.0 L138.4,618.0 L140.4,612.6 L143.0,615.0 L146.0,617.0 L147.6,618.4 L150.0,615.6 L154.0,615.6 L157.0,621.0 L159.0,626.0 L160.6,631.0 L163.0,625.0 L167.0,625.0 L169.0,627.0 L171.6,627.0 L174.0,635.0 L177.0,633.0 L180.0,628.0 L183.0,622.4 L185.0,626.4 L188.0,627.6 L190.0,630.4 L192.0,632.0 L194.4,625.0 L196.4,626.0 L198.0,623.0 L201.0,622.0 L205.0,618.4 L208.0,618.4 L210.0,617.6 L213.0,619.6 L217.0,622.4 L219.0,623.0 L221.0,619.0 L223.0,623.6 L225.0,625.0 L227.6,621.0 L229.6,624.0 L232.0,621.0 L236.0,620.0 L239.4,618.4 L241.0,629.0 L243.0,637.0 L246.0,636.4 L250.0,638.4 L253.0,640.0 L255.0,641.4 L256.6,631.0 L259.0,633.0 L263.0,634.0 L265.6,636.0 L268.0,628.4 L270.0,629.0 L272.4,627.0 L275.0,629.0 L279.0,629.6 L281.6,625.0 L285.0,623.6 L288.0,623.0 L290.4,624.0 L292.4,623.0 L295.0,625.0 L298.0,623.6 L300.0,624.0 L303.0,625.0 L305.0,627.0 L308.0,633.6 L310.0,628.0 L314.0,626.0 L317.0,629.0 L321.0,625.0 L324.0,619.0 L327.0,616.4 L330.0,614.4 L334.0,615.0 L336.4,613.6 L339.0,617.0 L342.0,617.0 L344.0,615.6 L346.4,620.0 L348.0,607.0 L351.0,603.6 L354.0,602.0 L357.0,604.0 L361.0,603.2 L367.0,603.2 L370.0,605.0 L373.0,603.0 L375.0,609.0 L378.0,612.0 L381.0,613.0 L384.0,610.0 L387.0,609.6 L390.0,612.0 L393.0,615.0 L395.6,624.0 L398.0,619.0 L399.6,615.0 L402.0,622.0 L405.0,617.0 L409.0,612.0 L412.0,611.6 L415.6,609.0 L418.4,612.0 L422.0,615.0 L425.0,615.6 L429.0,623.0 L432.0,626.0 L436.0,631.6 L440.0,635.0 L443.0,632.4 L447.0,634.4 L449.0,631.0 L452.0,631.6 L455.0,629.0 L457.6,616.0 L461.0,615.0 L464.0,614.0 L467.0,615.6 L470.0,614.4 L476.0,614.0 L480.0,615.6 L482.4,615.0 L484.4,621.6 L487.0,616.4 L490.0,617.0 L493.0,615.0 L496.0,609.0 L499.0,615.0 L502.0,620.0 L505.0,623.0 L509.0,630.4 L512.0,632.4 L514.4,632.0 L518.0,627.0 L521.0,629.6 L525.0,632.0 L528.0,629.0 L530.0,625.0 L532.0,625.0 L536.0,617.0 L539.0,621.0 L542.4,622.4 L545.0,615.6 L547.0,621.0 L550.0,622.0 L553.0,616.0 L557.0,614.0 L559.0,615.6 L561.0,620.0 L563.0,622.0 L565.6,631.0 L567.6,624.0 L570.0,627.0 L573.0,629.0 L576.0,631.0 L578.4,627.0 L581.0,627.6 L585.0,621.0 L588.0,621.6 L592.0,620.0 L596.0,624.0 L599.0,631.6 L600.0,633.0 L602.4,635.6 L605.0,633.6 L607.6,633.0 L609.6,626.4 L612.0,626.0 L614.4,624.0 L616.4,627.0 L618.4,622.0 L621.0,621.6 L624.0,618.0 L627.0,617.0 L630.0,614.0 L632.0,613.0 L634.4,616.0 L636.4,619.6 L639.0,618.0 L641.6,615.0 L643.6,617.6 L645.6,615.6 L648.0,619.0 L651.0,616.0 L654.4,613.6 L657.0,616.0 L661.0,616.0 L665.0,615.0 L668.0,619.0 L671.6,617.6 L674.4,620.0 L677.0,614.4 L680.0,615.0 L684.0,615.0 L687.0,616.0 L690.0,617.0 L692.4,622.4 L695.0,621.6 L697.0,621.6 L699.0,613.0 L702.0,614.4 L704.4,618.0 L706.4,620.4 L708.4,619.0 L710.0,625.0 L712.0,615.6 L715.0,613.0 L719.0,614.0 L721.0,607.6 L723.0,606.0 L726.0,609.0 L729.0,608.4 L732.0,606.0 L735.0,611.0 L738.0,609.0 L740.0,609.6 L742.0,607.6 L743.6,616.0 L745.6,623.6 L748.0,624.0 L750.4,621.0 L753.0,612.0 L755.0,609.6 L758.0,609.0 L760.0,608.0 L762.0,612.0 L764.0,614.0 L766.0,614.0 L768.4,617.0 L772.0,616.0 L776.0,615.0 L778.0,619.0 L780.0,626.0 L782.0,631.0 L784.0,629.6 L786.4,625.6 L789.0,623.6 L791.0,620.4 L793.0,623.0 L795.6,621.0 L799.0,623.0 L802.0,627.0 L805.0,630.0 L807.0,633.0 L808.4,636.4 L810.4,633.6 L813.0,628.4 L815.6,627.0 L818.0,629.6 L820.0,630.4 L822.0,626.4 L824.4,625.0 L827.0,626.4 L829.0,628.0 L831.0,609.0 L833.6,606.0 L835.6,613.0 L838.0,614.0 L840.4,614.4 L843.0,618.0 L845.0,620.4 L847.0,621.6 L850.0,626.0 L853.0,629.6 L856.0,626.0 L859.6,626.4 L862.0,623.6 L865.0,625.6 L867.6,623.6 L870.4,625.0 L873.0,627.6 L875.6,629.0 L878.0,627.0 L880.0,623.0 L882.0,619.6 L884.4,622.0 L887.0,623.6 L890.0,627.0 L892.4,628.4 L895.6,629.0 L898.0,631.6 L900.0,633.8 L902.4,631.0 L904.4,622.0 L907.0,620.4 L911.0,619.0 L914.0,618.4 L917.0,615.6 L919.6,609.0 L922.4,611.0 L926.4,610.0 L930.0,615.0 L933.6,619.6 L938.0,620.4 L940.0,614.0 L942.0,608.4 L945.0,608.4 L946.4,619.0 L949.0,622.0 L951.6,625.6 L954.0,625.0 L956.0,621.0 L960.0,618.0 L964.0,615.0 L967.6,614.0 L969.0,605.6 L974.0,605.0 L976.0,612.4 L979.0,612.0 L982.0,611.0 L984.4,614.4 L987.0,612.0 L989.6,617.0 L991.6,624.0 L994.4,626.0 L998.0,625.6 L1001.0,620.4 L1004.0,617.0 L1007.0,614.4 L1010.0,616.4 L1012.4,617.0 L1014.0,621.0 L1016.4,618.0 L1018.4,617.6 L1021.0,620.4 L1024.0,620.0 L1026.0,618.0 L1029.0,618.4 L1031.6,612.0 L1034.0,616.0 L1037.0,616.4 L1039.0,617.0 L1041.0,614.0 L1044.0,617.6 L1047.0,620.4 L1050.4,621.0 L1052.4,619.0 L1054.0,612.0 L1056.4,613.0 L1059.0,617.0 L1061.6,614.4 L1063.6,613.6 L1066.4,617.0 L1068.0,624.0 L1071.0,625.0 L1074.0,621.0 L1078.0,618.4 L1081.0,614.4 L1083.0,612.0 L1085.0,606.4 L1087.0,609.0 L1089.0,602.4 L1091.6,600.4 L1094.4,600.0 L1096.4,604.4 L1099.0,605.0 L1101.0,610.0 L1103.6,609.6 L1105.6,608.4 L1108.0,610.0 L1110.4,611.0 L1113.6,603.0 L1117.0,602.4 L1121.0,600.4 L1125.0,600.4 L1129.0,599.4 L1132.4,599.4 L1134.0,608.0 L1136.0,615.0 L1138.0,618.0 L1141.0,618.4 L1143.6,619.0 L1146.0,622.0 L1148.0,616.0 L1150.0,622.0L1150,609.8L0,609.8Z" fill="#fcc5c5" clip-path="url(#c3a)"/>
<path d="M0.0,616.0 L3.0,616.0 L4.4,619.0 L7.0,619.0 L9.0,612.0 L11.0,619.0 L13.0,615.0 L16.0,613.0 L20.0,612.6 L22.4,611.0 L25.0,605.0 L28.0,604.0 L30.0,602.4 L34.0,601.0 L38.0,600.0 L39.4,609.0 L42.0,609.6 L45.0,609.0 L47.0,612.0 L51.0,615.0 L55.0,613.0 L58.0,609.0 L60.0,609.6 L62.0,621.0 L64.0,619.6 L66.0,620.4 L69.0,619.0 L73.0,613.0 L76.0,608.0 L78.0,617.0 L80.0,627.0 L82.0,632.0 L86.0,634.0 L89.6,635.0 L92.0,632.0 L93.6,628.0 L96.0,629.0 L98.0,628.4 L100.4,632.0 L102.4,628.0 L106.0,626.4 L109.0,629.6 L111.6,627.0 L113.6,629.0 L116.0,626.0 L120.0,623.0 L125.0,619.0 L129.0,622.0 L132.0,623.0 L134.4,626.4 L136.4,627.0 L138.4,618.0 L140.4,612.6 L143.0,615.0 L146.0,617.0 L147.6,618.4 L150.0,615.6 L154.0,615.6 L157.0,621.0 L159.0,626.0 L160.6,631.0 L163.0,625.0 L167.0,625.0 L169.0,627.0 L171.6,627.0 L174.0,635.0 L177.0,633.0 L180.0,628.0 L183.0,622.4 L185.0,626.4 L188.0,627.6 L190.0,630.4 L192.0,632.0 L194.4,625.0 L196.4,626.0 L198.0,623.0 L201.0,622.0 L205.0,618.4 L208.0,618.4 L210.0,617.6 L213.0,619.6 L217.0,622.4 L219.0,623.0 L221.0,619.0 L223.0,623.6 L225.0,625.0 L227.6,621.0 L229.6,624.0 L232.0,621.0 L236.0,620.0 L239.4,618.4 L241.0,629.0 L243.0,637.0 L246.0,636.4 L250.0,638.4 L253.0,640.0 L255.0,641.4 L256.6,631.0 L259.0,633.0 L263.0,634.0 L265.6,636.0 L268.0,628.4 L270.0,629.0 L272.4,627.0 L275.0,629.0 L279.0,629.6 L281.6,625.0 L285.0,623.6 L288.0,623.0 L290.4,624.0 L292.4,623.0 L295.0,625.0 L298.0,623.6 L300.0,624.0 L303.0,625.0 L305.0,627.0 L308.0,633.6 L310.0,628.0 L314.0,626.0 L317.0,629.0 L321.0,625.0 L324.0,619.0 L327.0,616.4 L330.0,614.4 L334.0,615.0 L336.4,613.6 L339.0,617.0 L342.0,617.0 L344.0,615.6 L346.4,620.0 L348.0,607.0 L351.0,603.6 L354.0,602.0 L357.0,604.0 L361.0,603.2 L367.0,603.2 L370.0,605.0 L373.0,603.0 L375.0,609.0 L378.0,612.0 L381.0,613.0 L384.0,610.0 L387.0,609.6 L390.0,612.0 L393.0,615.0 L395.6,624.0 L398.0,619.0 L399.6,615.0 L402.0,622.0 L405.0,617.0 L409.0,612.0 L412.0,611.6 L415.6,609.0 L418.4,612.0 L422.0,615.0 L425.0,615.6 L429.0,623.0 L432.0,626.0 L436.0,631.6 L440.0,635.0 L443.0,632.4 L447.0,634.4 L449.0,631.0 L452.0,631.6 L455.0,629.0 L457.6,616.0 L461.0,615.0 L464.0,614.0 L467.0,615.6 L470.0,614.4 L476.0,614.0 L480.0,615.6 L482.4,615.0 L484.4,621.6 L487.0,616.4 L490.0,617.0 L493.0,615.0 L496.0,609.0 L499.0,615.0 L502.0,620.0 L505.0,623.0 L509.0,630.4 L512.0,632.4 L514.4,632.0 L518.0,627.0 L521.0,629.6 L525.0,632.0 L528.0,629.0 L530.0,625.0 L532.0,625.0 L536.0,617.0 L539.0,621.0 L542.4,622.4 L545.0,615.6 L547.0,621.0 L550.0,622.0 L553.0,616.0 L557.0,614.0 L559.0,615.6 L561.0,620.0 L563.0,622.0 L565.6,631.0 L567.6,624.0 L570.0,627.0 L573.0,629.0 L576.0,631.0 L578.4,627.0 L581.0,627.6 L585.0,621.0 L588.0,621.6 L592.0,620.0 L596.0,624.0 L599.0,631.6 L600.0,633.0 L602.4,635.6 L605.0,633.6 L607.6,633.0 L609.6,626.4 L612.0,626.0 L614.4,624.0 L616.4,627.0 L618.4,622.0 L621.0,621.6 L624.0,618.0 L627.0,617.0 L630.0,614.0 L632.0,613.0 L634.4,616.0 L636.4,619.6 L639.0,618.0 L641.6,615.0 L643.6,617.6 L645.6,615.6 L648.0,619.0 L651.0,616.0 L654.4,613.6 L657.0,616.0 L661.0,616.0 L665.0,615.0 L668.0,619.0 L671.6,617.6 L674.4,620.0 L677.0,614.4 L680.0,615.0 L684.0,615.0 L687.0,616.0 L690.0,617.0 L692.4,622.4 L695.0,621.6 L697.0,621.6 L699.0,613.0 L702.0,614.4 L704.4,618.0 L706.4,620.4 L708.4,619.0 L710.0,625.0 L712.0,615.6 L715.0,613.0 L719.0,614.0 L721.0,607.6 L723.0,606.0 L726.0,609.0 L729.0,608.4 L732.0,606.0 L735.0,611.0 L738.0,609.0 L740.0,609.6 L742.0,607.6 L743.6,616.0 L745.6,623.6 L748.0,624.0 L750.4,621.0 L753.0,612.0 L755.0,609.6 L758.0,609.0 L760.0,608.0 L762.0,612.0 L764.0,614.0 L766.0,614.0 L768.4,617.0 L772.0,616.0 L776.0,615.0 L778.0,619.0 L780.0,626.0 L782.0,631.0 L784.0,629.6 L786.4,625.6 L789.0,623.6 L791.0,620.4 L793.0,623.0 L795.6,621.0 L799.0,623.0 L802.0,627.0 L805.0,630.0 L807.0,633.0 L808.4,636.4 L810.4,633.6 L813.0,628.4 L815.6,627.0 L818.0,629.6 L820.0,630.4 L822.0,626.4 L824.4,625.0 L827.0,626.4 L829.0,628.0 L831.0,609.0 L833.6,606.0 L835.6,613.0 L838.0,614.0 L840.4,614.4 L843.0,618.0 L845.0,620.4 L847.0,621.6 L850.0,626.0 L853.0,629.6 L856.0,626.0 L859.6,626.4 L862.0,623.6 L865.0,625.6 L867.6,623.6 L870.4,625.0 L873.0,627.6 L875.6,629.0 L878.0,627.0 L880.0,623.0 L882.0,619.6 L884.4,622.0 L887.0,623.6 L890.0,627.0 L892.4,628.4 L895.6,629.0 L898.0,631.6 L900.0,633.8 L902.4,631.0 L904.4,622.0 L907.0,620.4 L911.0,619.0 L914.0,618.4 L917.0,615.6 L919.6,609.0 L922.4,611.0 L926.4,610.0 L930.0,615.0 L933.6,619.6 L938.0,620.4 L940.0,614.0 L942.0,608.4 L945.0,608.4 L946.4,619.0 L949.0,622.0 L951.6,625.6 L954.0,625.0 L956.0,621.0 L960.0,618.0 L964.0,615.0 L967.6,614.0 L969.0,605.6 L974.0,605.0 L976.0,612.4 L979.0,612.0 L982.0,611.0 L984.4,614.4 L987.0,612.0 L989.6,617.0 L991.6,624.0 L994.4,626.0 L998.0,625.6 L1001.0,620.4 L1004.0,617.0 L1007.0,614.4 L1010.0,616.4 L1012.4,617.0 L1014.0,621.0 L1016.4,618.0 L1018.4,617.6 L1021.0,620.4 L1024.0,620.0 L1026.0,618.0 L1029.0,618.4 L1031.6,612.0 L1034.0,616.0 L1037.0,616.4 L1039.0,617.0 L1041.0,614.0 L1044.0,617.6 L1047.0,620.4 L1050.4,621.0 L1052.4,619.0 L1054.0,612.0 L1056.4,613.0 L1059.0,617.0 L1061.6,614.4 L1063.6,613.6 L1066.4,617.0 L1068.0,624.0 L1071.0,625.0 L1074.0,621.0 L1078.0,618.4 L1081.0,614.4 L1083.0,612.0 L1085.0,606.4 L1087.0,609.0 L1089.0,602.4 L1091.6,600.4 L1094.4,600.0 L1096.4,604.4 L1099.0,605.0 L1101.0,610.0 L1103.6,609.6 L1105.6,608.4 L1108.0,610.0 L1110.4,611.0 L1113.6,603.0 L1117.0,602.4 L1121.0,600.4 L1125.0,600.4 L1129.0,599.4 L1132.4,599.4 L1134.0,608.0 L1136.0,615.0 L1138.0,618.0 L1141.0,618.4 L1143.6,619.0 L1146.0,622.0 L1148.0,616.0 L1150.0,622.0L1150,630L0,630Z" fill="#c8f5c8" clip-path="url(#c3b)"/>
<path d="M0.0,616.0 L3.0,616.0 L4.4,619.0 L7.0,619.0 L9.0,612.0 L11.0,619.0 L13.0,615.0 L16.0,613.0 L20.0,612.6 L22.4,611.0 L25.0,605.0 L28.0,604.0 L30.0,602.4 L34.0,601.0 L38.0,600.0 L39.4,609.0 L42.0,609.6 L45.0,609.0 L47.0,612.0 L51.0,615.0 L55.0,613.0 L58.0,609.0 L60.0,609.6 L62.0,621.0 L64.0,619.6 L66.0,620.4 L69.0,619.0 L73.0,613.0 L76.0,608.0 L78.0,617.0 L80.0,627.0 L82.0,632.0 L86.0,634.0 L89.6,635.0 L92.0,632.0 L93.6,628.0 L96.0,629.0 L98.0,628.4 L100.4,632.0 L102.4,628.0 L106.0,626.4 L109.0,629.6 L111.6,627.0 L113.6,629.0 L116.0,626.0 L120.0,623.0 L125.0,619.0 L129.0,622.0 L132.0,623.0 L134.4,626.4 L136.4,627.0 L138.4,618.0 L140.4,612.6 L143.0,615.0 L146.0,617.0 L147.6,618.4 L150.0,615.6 L154.0,615.6 L157.0,621.0 L159.0,626.0 L160.6,631.0 L163.0,625.0 L167.0,625.0 L169.0,627.0 L171.6,627.0 L174.0,635.0 L177.0,633.0 L180.0,628.0 L183.0,622.4 L185.0,626.4 L188.0,627.6 L190.0,630.4 L192.0,632.0 L194.4,625.0 L196.4,626.0 L198.0,623.0 L201.0,622.0 L205.0,618.4 L208.0,618.4 L210.0,617.6 L213.0,619.6 L217.0,622.4 L219.0,623.0 L221.0,619.0 L223.0,623.6 L225.0,625.0 L227.6,621.0 L229.6,624.0 L232.0,621.0 L236.0,620.0 L239.4,618.4 L241.0,629.0 L243.0,637.0 L246.0,636.4 L250.0,638.4 L253.0,640.0 L255.0,641.4 L256.6,631.0 L259.0,633.0 L263.0,634.0 L265.6,636.0 L268.0,628.4 L270.0,629.0 L272.4,627.0 L275.0,629.0 L279.0,629.6 L281.6,625.0 L285.0,623.6 L288.0,623.0 L290.4,624.0 L292.4,623.0 L295.0,625.0 L298.0,623.6 L300.0,624.0 L303.0,625.0 L305.0,627.0 L308.0,633.6 L310.0,628.0 L314.0,626.0 L317.0,629.0 L321.0,625.0 L324.0,619.0 L327.0,616.4 L330.0,614.4 L334.0,615.0 L336.4,613.6 L339.0,617.0 L342.0,617.0 L344.0,615.6 L346.4,620.0 L348.0,607.0 L351.0,603.6 L354.0,602.0 L357.0,604.0 L361.0,603.2 L367.0,603.2 L370.0,605.0 L373.0,603.0 L375.0,609.0 L378.0,612.0 L381.0,613.0 L384.0,610.0 L387.0,609.6 L390.0,612.0 L393.0,615.0 L395.6,624.0 L398.0,619.0 L399.6,615.0 L402.0,622.0 L405.0,617.0 L409.0,612.0 L412.0,611.6 L415.6,609.0 L418.4,612.0 L422.0,615.0 L425.0,615.6 L429.0,623.0 L432.0,626.0 L436.0,631.6 L440.0,635.0 L443.0,632.4 L447.0,634.4 L449.0,631.0 L452.0,631.6 L455.0,629.0 L457.6,616.0 L461.0,615.0 L464.0,614.0 L467.0,615.6 L470.0,614.4 L476.0,614.0 L480.0,615.6 L482.4,615.0 L484.4,621.6 L487.0,616.4 L490.0,617.0 L493.0,615.0 L496.0,609.0 L499.0,615.0 L502.0,620.0 L505.0,623.0 L509.0,630.4 L512.0,632.4 L514.4,632.0 L518.0,627.0 L521.0,629.6 L525.0,632.0 L528.0,629.0 L530.0,625.0 L532.0,625.0 L536.0,617.0 L539.0,621.0 L542.4,622.4 L545.0,615.6 L547.0,621.0 L550.0,622.0 L553.0,616.0 L557.0,614.0 L559.0,615.6 L561.0,620.0 L563.0,622.0 L565.6,631.0 L567.6,624.0 L570.0,627.0 L573.0,629.0 L576.0,631.0 L578.4,627.0 L581.0,627.6 L585.0,621.0 L588.0,621.6 L592.0,620.0 L596.0,624.0 L599.0,631.6 L600.0,633.0 L602.4,635.6 L605.0,633.6 L607.6,633.0 L609.6,626.4 L612.0,626.0 L614.4,624.0 L616.4,627.0 L618.4,622.0 L621.0,621.6 L624.0,618.0 L627.0,617.0 L630.0,614.0 L632.0,613.0 L634.4,616.0 L636.4,619.6 L639.0,618.0 L641.6,615.0 L643.6,617.6 L645.6,615.6 L648.0,619.0 L651.0,616.0 L654.4,613.6 L657.0,616.0 L661.0,616.0 L665.0,615.0 L668.0,619.0 L671.6,617.6 L674.4,620.0 L677.0,614.4 L680.0,615.0 L684.0,615.0 L687.0,616.0 L690.0,617.0 L692.4,622.4 L695.0,621.6 L697.0,621.6 L699.0,613.0 L702.0,614.4 L704.4,618.0 L706.4,620.4 L708.4,619.0 L710.0,625.0 L712.0,615.6 L715.0,613.0 L719.0,614.0 L721.0,607.6 L723.0,606.0 L726.0,609.0 L729.0,608.4 L732.0,606.0 L735.0,611.0 L738.0,609.0 L740.0,609.6 L742.0,607.6 L743.6,616.0 L745.6,623.6 L748.0,624.0 L750.4,621.0 L753.0,612.0 L755.0,609.6 L758.0,609.0 L760.0,608.0 L762.0,612.0 L764.0,614.0 L766.0,614.0 L768.4,617.0 L772.0,616.0 L776.0,615.0 L778.0,619.0 L780.0,626.0 L782.0,631.0 L784.0,629.6 L786.4,625.6 L789.0,623.6 L791.0,620.4 L793.0,623.0 L795.6,621.0 L799.0,623.0 L802.0,627.0 L805.0,630.0 L807.0,633.0 L808.4,636.4 L810.4,633.6 L813.0,628.4 L815.6,627.0 L818.0,629.6 L820.0,630.4 L822.0,626.4 L824.4,625.0 L827.0,626.4 L829.0,628.0 L831.0,609.0 L833.6,606.0 L835.6,613.0 L838.0,614.0 L840.4,614.4 L843.0,618.0 L845.0,620.4 L847.0,621.6 L850.0,626.0 L853.0,629.6 L856.0,626.0 L859.6,626.4 L862.0,623.6 L865.0,625.6 L867.6,623.6 L870.4,625.0 L873.0,627.6 L875.6,629.0 L878.0,627.0 L880.0,623.0 L882.0,619.6 L884.4,622.0 L887.0,623.6 L890.0,627.0 L892.4,628.4 L895.6,629.0 L898.0,631.6 L900.0,633.8 L902.4,631.0 L904.4,622.0 L907.0,620.4 L911.0,619.0 L914.0,618.4 L917.0,615.6 L919.6,609.0 L922.4,611.0 L926.4,610.0 L930.0,615.0 L933.6,619.6 L938.0,620.4 L940.0,614.0 L942.0,608.4 L945.0,608.4 L946.4,619.0 L949.0,622.0 L951.6,625.6 L954.0,625.0 L956.0,621.0 L960.0,618.0 L964.0,615.0 L967.6,614.0 L969.0,605.6 L974.0,605.0 L976.0,612.4 L979.0,612.0 L982.0,611.0 L984.4,614.4 L987.0,612.0 L989.6,617.0 L991.6,624.0 L994.4,626.0 L998.0,625.6 L1001.0,620.4 L1004.0,617.0 L1007.0,614.4 L1010.0,616.4 L1012.4,617.0 L1014.0,621.0 L1016.4,618.0 L1018.4,617.6 L1021.0,620.4 L1024.0,620.0 L1026.0,618.0 L1029.0,618.4 L1031.6,612.0 L1034.0,616.0 L1037.0,616.4 L1039.0,617.0 L1041.0,614.0 L1044.0,617.6 L1047.0,620.4 L1050.4,621.0 L1052.4,619.0 L1054.0,612.0 L1056.4,613.0 L1059.0,617.0 L1061.6,614.4 L1063.6,613.6 L1066.4,617.0 L1068.0,624.0 L1071.0,625.0 L1074.0,621.0 L1078.0,618.4 L1081.0,614.4 L1083.0,612.0 L1085.0,606.4 L1087.0,609.0 L1089.0,602.4 L1091.6,600.4 L1094.4,600.0 L1096.4,604.4 L1099.0,605.0 L1101.0,610.0 L1103.6,609.6 L1105.6,608.4 L1108.0,610.0 L1110.4,611.0 L1113.6,603.0 L1117.0,602.4 L1121.0,600.4 L1125.0,600.4 L1129.0,599.4 L1132.4,599.4 L1134.0,608.0 L1136.0,615.0 L1138.0,618.0 L1141.0,618.4 L1143.6,619.0 L1146.0,622.0 L1148.0,616.0 L1150.0,622.0" stroke="#0a0a0a" stroke-width="2.1" fill="none" stroke-linejoin="round"/>
<path d="M0,491.2H1511M0,587.8H1511" stroke="#303030" stroke-width="2.4" fill="none"/>
<path d="M0,651.3H1457" stroke="#8a8a8a" stroke-width="1.2" fill="none"/>
<path d="M1457,0V652" stroke="#8a8a8a" stroke-width="1.6" fill="none"/>
<path d="M1457,43.1L1463.6,45.2L1457,47.3Z" fill="#0a0a0a"/>
<text x="1464.5" y="48.3" font-size="9" fill="#222" textLength="23.8" lengthAdjust="spacingAndGlyphs">4800</text>
<path d="M1457,104.6L1463.6,106.7L1457,108.8Z" fill="#0a0a0a"/>
<text x="1464.5" y="109.8" font-size="9" fill="#222" textLength="23.8" lengthAdjust="spacingAndGlyphs">4600</text>
<path d="M1457,166.0L1463.6,168.1L1457,170.2Z" fill="#0a0a0a"/>
<text x="1464.5" y="171.2" font-size="9" fill="#222" textLength="23.8" lengthAdjust="spacingAndGlyphs">4400</text>
<path d="M1457,227.5L1463.6,229.6L1457,231.7Z" fill="#0a0a0a"/>
<text x="1464.5" y="232.7" font-size="9" fill="#222" textLength="23.8" lengthAdjust="spacingAndGlyphs">4200</text>
<path d="M1457,288.9L1463.6,291.0L1457,293.1Z" fill="#0a0a0a"/>
<text x="1464.5" y="294.1" font-size="9" fill="#222" textLength="23.8" lengthAdjust="spacingAndGlyphs">4000</text>
<path d="M1457,350.3L1463.6,352.4L1457,354.6Z" fill="#0a0a0a"/>
<text x="1464.5" y="355.6" font-size="9" fill="#222" textLength="23.8" lengthAdjust="spacingAndGlyphs">3800</text>
<path d="M1457,411.8L1463.6,413.9L1457,416.0Z" fill="#0a0a0a"/>
<text x="1464.5" y="417.0" font-size="9" fill="#222" textLength="23.8" lengthAdjust="spacingAndGlyphs">3600</text>
<path d="M1457,473.2L1463.6,475.4L1457,477.5Z" fill="#0a0a0a"/>
<text x="1464.5" y="478.5" font-size="9" fill="#222" textLength="23.8" lengthAdjust="spacingAndGlyphs">3400</text>
<path d="M1457,14.5h3.2" stroke="#333" stroke-width="0.9"/>
<path d="M1457,75.9h3.2" stroke="#333" stroke-width="0.9"/>
<path d="M1457,137.4h3.2" stroke="#333" stroke-width="0.9"/>
<path d="M1457,198.8h3.2" stroke="#333" stroke-width="0.9"/>
<path d="M1457,260.3h3.2" stroke="#333" stroke-width="0.9"/>
<path d="M1457,321.7h3.2" stroke="#333" stroke-width="0.9"/>
<path d="M1457,383.2h3.2" stroke="#333" stroke-width="0.9"/>
<path d="M1457,444.6h3.2" stroke="#333" stroke-width="0.9"/>
<path d="M1457,497.8L1463.6,499.9L1457,502.0Z" fill="#0a0a0a"/>
<text x="1464.5" y="503.0" font-size="9" fill="#222" textLength="17.9" lengthAdjust="spacingAndGlyphs">100</text>
<path d="M1457,529.2L1463.6,531.3L1457,533.4Z" fill="#0a0a0a"/>
<text x="1464.5" y="534.4" font-size="9" fill="#222" textLength="11.9" lengthAdjust="spacingAndGlyphs">50</text>
<path d="M1457,559.3L1463.6,561.4L1457,563.5Z" fill="#0a0a0a"/>
<text x="1464.5" y="564.5" font-size="9" fill="#222" textLength="6.0" lengthAdjust="spacingAndGlyphs">0</text>
<path d="M1457,515.2h3.2" stroke="#333" stroke-width="0.9"/>
<path d="M1457,546.0h3.2" stroke="#333" stroke-width="0.9"/>
<path d="M1457,576.8h3.2" stroke="#333" stroke-width="0.9"/>
<path d="M1457,592.6L1463.6,594.7L1457,596.8Z" fill="#0a0a0a"/>
<text x="1464.5" y="597.8" font-size="9" fill="#222" textLength="17.9" lengthAdjust="spacingAndGlyphs">100</text>
<path d="M1457,618.0L1463.6,620.1L1457,622.2Z" fill="#0a0a0a"/>
<text x="1464.5" y="623.2" font-size="9" fill="#222" textLength="11.9" lengthAdjust="spacingAndGlyphs">50</text>
<path d="M1457,643.5L1463.6,645.6L1457,647.7Z" fill="#0a0a0a"/>
<text x="1464.5" y="648.7" font-size="9" fill="#222" textLength="6.0" lengthAdjust="spacingAndGlyphs">0</text>
<path d="M1457,607.4h3.2" stroke="#333" stroke-width="0.9"/>
<path d="M1457,632.8h3.2" stroke="#333" stroke-width="0.9"/>
<path d="M1457.5,231.8L1462,226.8H1511V236.8H1462Z" fill="#e00000"/>
<path d="M1457.5,232.4L1462,228.2H1511V236.6H1462Z" fill="#0c8a0c"/>
<text x="1464.3" y="236.6" font-size="9.2" fill="#fff" textLength="43.5" lengthAdjust="spacingAndGlyphs">4185.111</text>
<path d="M1457.5,241.3L1462,236.6H1511V246.0H1462Z" fill="#e00000"/>
<path d="M1457.5,242.3L1462,238.1H1511V246.5H1462Z" fill="#66d000"/>
<text x="1464.3" y="246.4" font-size="9.2" fill="#fff" textLength="43.5" lengthAdjust="spacingAndGlyphs">4154.251</text>
<path d="M1457.5,250.1L1462,245.2H1511V255.0H1462Z" fill="#000"/>
<text x="1464.3" y="253.4" font-size="9.2" fill="#fff" textLength="43.5" lengthAdjust="spacingAndGlyphs">4135.102</text>
<path d="M1457.5,535.2L1462,530.9H1511V539.6H1462Z" fill="#f01010"/>
<text x="1464.3" y="539.4" font-size="9.2" fill="#fff" textLength="38.5" lengthAdjust="spacingAndGlyphs">42.0585</text>
<path d="M1457.5,544.0L1462,539.0H1511V548.9H1462Z" fill="#4d8a00"/>
<text x="1464.3" y="547.0" font-size="9.2" fill="#fff" textLength="38.5" lengthAdjust="spacingAndGlyphs">29.5429</text>
<path d="M1457.5,569.7L1462,564.9H1511V574.5H1462Z" fill="#000"/>
<text x="1464.3" y="572.8" font-size="9.2" fill="#fff" textLength="44" lengthAdjust="spacingAndGlyphs">-12.5156</text>
<path d="M1457.5,623.4L1462,618.4H1511V628.4H1462Z" fill="#1c1c1c"/>
<text x="1464.3" y="626.6" font-size="9.2" fill="#fff" textLength="38.5" lengthAdjust="spacingAndGlyphs">43.5522</text>
<text x="15.6" y="659.9" font-size="9" fill="#222" text-anchor="middle" textLength="11.4" lengthAdjust="spacingAndGlyphs">06</text>
<text x="69.2" y="659.9" font-size="9" fill="#222" text-anchor="middle" textLength="11.4" lengthAdjust="spacingAndGlyphs">07</text>
<text x="122.8" y="659.9" font-size="9" fill="#222" text-anchor="middle" textLength="11.4" lengthAdjust="spacingAndGlyphs">08</text>
<text x="176.4" y="659.9" font-size="9" fill="#222" text-anchor="middle" textLength="11.4" lengthAdjust="spacingAndGlyphs">09</text>
<text x="230.0" y="659.9" font-size="9" fill="#222" text-anchor="middle" textLength="11.4" lengthAdjust="spacingAndGlyphs">10</text>
<text x="283.6" y="659.9" font-size="9" fill="#222" text-anchor="middle" textLength="11.4" lengthAdjust="spacingAndGlyphs">11</text>
<text x="337.2" y="659.9" font-size="9" fill="#222" text-anchor="middle" textLength="11.4" lengthAdjust="spacingAndGlyphs">12</text>
<text x="390.8" y="659.9" font-size="9" fill="#222" text-anchor="middle" textLength="11.4" lengthAdjust="spacingAndGlyphs">13</text>
<text x="444.4" y="659.9" font-size="9" fill="#222" text-anchor="middle" textLength="11.4" lengthAdjust="spacingAndGlyphs">14</text>
<text x="498.0" y="659.9" font-size="9" fill="#222" text-anchor="middle" textLength="11.4" lengthAdjust="spacingAndGlyphs">15</text>
<text x="551.6" y="659.9" font-size="9" fill="#222" text-anchor="middle" textLength="11.4" lengthAdjust="spacingAndGlyphs">16</text>
<text x="605.2" y="659.9" font-size="9" fill="#222" text-anchor="middle" textLength="11.4" lengthAdjust="spacingAndGlyphs">17</text>
<text x="658.8" y="659.9" font-size="9" fill="#222" text-anchor="middle" textLength="11.4" lengthAdjust="spacingAndGlyphs">18</text>
<text x="712.4" y="659.9" font-size="9" fill="#222" text-anchor="middle" textLength="11.4" lengthAdjust="spacingAndGlyphs">19</text>
<text x="766.0" y="659.9" font-size="9" fill="#222" text-anchor="middle" textLength="11.4" lengthAdjust="spacingAndGlyphs">20</text>
<text x="819.6" y="659.9" font-size="9" fill="#222" text-anchor="middle" textLength="11.4" lengthAdjust="spacingAndGlyphs">21</text>
<text x="873.2" y="659.9" font-size="9" fill="#222" text-anchor="middle" textLength="11.4" lengthAdjust="spacingAndGlyphs">22</text>
<text x="926.8" y="659.9" font-size="9" fill="#222" text-anchor="middle" textLength="11.4" lengthAdjust="spacingAndGlyphs">23</text>
<text x="980.4" y="659.9" font-size="9" fill="#222" text-anchor="middle" textLength="11.4" lengthAdjust="spacingAndGlyphs">24</text>
<text x="1034.0" y="659.9" font-size="9" fill="#222" text-anchor="middle" textLength="11.4" lengthAdjust="spacingAndGlyphs">25</text>
<text x="1112.6" y="659.9" font-size="9" fill="#222" text-anchor="middle" textLength="11.4" lengthAdjust="spacingAndGlyphs">27</text>
<text x="554.8" y="669.4" font-size="9" fill="#222" textLength="43.5" lengthAdjust="spacingAndGlyphs">Oct 2025</text>
<text x="1" y="679.5" font-size="8" fill="#222" textLength="283.5" lengthAdjust="spacingAndGlyphs">XETUSD Curncy (XET-USD Cross Rate) FX CORE 60 Days 60 Minutes</text>
<text x="763.8" y="679.5" font-size="8" fill="#222" textLength="172" lengthAdjust="spacingAndGlyphs">Copyright© 2025 Bloomberg Finance L.P.</text>
<text x="1416.8" y="679.5" font-size="8" fill="#222" textLength="93" lengthAdjust="spacingAndGlyphs">27-Oct-2025 15:22:14</text>
<text x="1455.5" y="150" font-size="9" fill="#555" text-anchor="end" textLength="83.5" lengthAdjust="spacingAndGlyphs">76.4%(4454.813)</text>
<text x="1455.5" y="207.2" font-size="9" fill="#555" text-anchor="end" textLength="83.5" lengthAdjust="spacingAndGlyphs">61.8%(4267.501)</text>
<text x="77.5" y="54.3" font-size="19.2" fill="#4f8a10" text-anchor="middle" textLength="33.8" lengthAdjust="spacingAndGlyphs">(X)</text>
<text x="258" y="469.5" font-size="19.2" fill="#4f8a10" text-anchor="middle" textLength="33.8" lengthAdjust="spacingAndGlyphs">(y)</text>
<text x="417" y="192" font-size="15.2" fill="#9a0a5e" text-anchor="middle" textLength="28.7" lengthAdjust="spacingAndGlyphs">(w)</text>
<text x="605.7" y="409" font-size="15.2" fill="#9a0a5e" text-anchor="middle" textLength="25.2" lengthAdjust="spacingAndGlyphs">(x)</text>
<text x="756" y="243" font-size="17" fill="#1c5ca4" text-anchor="middle" textLength="9.6" lengthAdjust="spacingAndGlyphs" stroke="#1c5ca4" stroke-width="0.45">a</text>
<text x="897.5" y="415.7" font-size="17" fill="#1c5ca4" text-anchor="middle" textLength="9.6" lengthAdjust="spacingAndGlyphs" stroke="#1c5ca4" stroke-width="0.45">b</text>
<text x="649" y="305" font-size="11" fill="#ee2a4a" text-anchor="middle" textLength="19.5" lengthAdjust="spacingAndGlyphs">(1)</text>
<text x="701" y="360" font-size="11" fill="#ee2a4a" text-anchor="middle" textLength="19.5" lengthAdjust="spacingAndGlyphs">(2)</text>
<text x="725" y="275" font-size="11" fill="#ee2a4a" text-anchor="middle" textLength="19.5" lengthAdjust="spacingAndGlyphs">(3)</text>
<text x="743" y="328" font-size="11" fill="#ee2a4a" text-anchor="middle" textLength="19.5" lengthAdjust="spacingAndGlyphs">(4)</text>
<text x="755" y="257" font-size="11" fill="#ee2a4a" text-anchor="middle" textLength="19.5" lengthAdjust="spacingAndGlyphs">(5)</text>
<text x="808" y="363" font-size="11" fill="#ee2a4a" text-anchor="middle" textLength="19.5" lengthAdjust="spacingAndGlyphs">(A)</text>
<text x="832" y="249" font-size="11" fill="#ee2a4a" text-anchor="middle" textLength="19.5" lengthAdjust="spacingAndGlyphs">(B)</text>
<text x="900.5" y="397" font-size="11" fill="#ee2a4a" text-anchor="middle" textLength="19.5" lengthAdjust="spacingAndGlyphs">(C)</text>
<text x="988" y="264" font-size="11" fill="#ee2a4a" text-anchor="middle" textLength="19.5" lengthAdjust="spacingAndGlyphs">(1)</text>
<text x="993" y="346" font-size="11" fill="#ee2a4a" text-anchor="middle" textLength="19.5" lengthAdjust="spacingAndGlyphs">(2)</text>
<text x="943" y="309" font-size="10.5" fill="#6a9a28" text-anchor="middle" textLength="16" lengthAdjust="spacingAndGlyphs">(1)</text>
<text x="954" y="358.5" font-size="10.5" fill="#6a9a28" text-anchor="middle" textLength="16" lengthAdjust="spacingAndGlyphs">(2)</text>
<text x="971" y="289" font-size="10.5" fill="#6a9a28" text-anchor="middle" textLength="16" lengthAdjust="spacingAndGlyphs">(3)</text>
<text x="983" y="322" font-size="10.5" fill="#6a9a28" text-anchor="middle" textLength="16" lengthAdjust="spacingAndGlyphs">(4)</text>
<text x="988" y="277" font-size="10.5" fill="#6a9a28" text-anchor="middle" textLength="16" lengthAdjust="spacingAndGlyphs">(5)</text>
<text x="1055" y="294.5" font-size="10.5" fill="#6a9a28" text-anchor="middle" textLength="16" lengthAdjust="spacingAndGlyphs">(1)</text>
<text x="1073" y="329" font-size="10.5" fill="#6a9a28" text-anchor="middle" textLength="16" lengthAdjust="spacingAndGlyphs">(2)</text>
<text x="1177" y="185" font-size="10.5" fill="#6a9a28" text-anchor="middle" textLength="16" lengthAdjust="spacingAndGlyphs">(3)</text>
<text x="1228" y="262.5" font-size="10.5" fill="#6a9a28" text-anchor="middle" textLength="16" lengthAdjust="spacingAndGlyphs">(4)</text>
<text x="1279" y="144.5" font-size="10.5" fill="#6a9a28" text-anchor="middle" textLength="16" lengthAdjust="spacingAndGlyphs">(5)</text>
<text x="1089" y="260" font-size="11.5" fill="#5e1a4e" text-anchor="middle" stroke="#5e1a4e" stroke-width="0.15">1</text>
<text x="1109" y="291" font-size="11.5" fill="#5e1a4e" text-anchor="middle" stroke="#5e1a4e" stroke-width="0.15">2</text>
<text x="1129" y="206" font-size="11.5" fill="#5e1a4e" text-anchor="middle" stroke="#5e1a4e" stroke-width="0.15">3</text>
<text x="1147" y="263" font-size="11.5" fill="#5e1a4e" text-anchor="middle" stroke="#5e1a4e" stroke-width="0.15">4</text>
<text x="1175" y="199" font-size="11.5" fill="#5e1a4e" text-anchor="middle" stroke="#5e1a4e" stroke-width="0.15">5</text>
<text x="1279" y="89.8" font-size="19.2" fill="#4f8a10" text-anchor="middle" textLength="33.8" lengthAdjust="spacingAndGlyphs">(X)</text>
<text x="1278" y="107" font-size="15.5" fill="#9a0a5e" text-anchor="middle" textLength="26" lengthAdjust="spacingAndGlyphs">(y)</text>
<text x="1276" y="121.2" font-size="16.5" fill="#1c5ca4" text-anchor="middle" textLength="9.2" lengthAdjust="spacingAndGlyphs" stroke="#1c5ca4" stroke-width="0.45">c</text>
<text x="1279" y="132" font-size="11" fill="#ee2a4a" text-anchor="middle" textLength="19.5" lengthAdjust="spacingAndGlyphs">(3)</text>
</svg>
</body></html>
